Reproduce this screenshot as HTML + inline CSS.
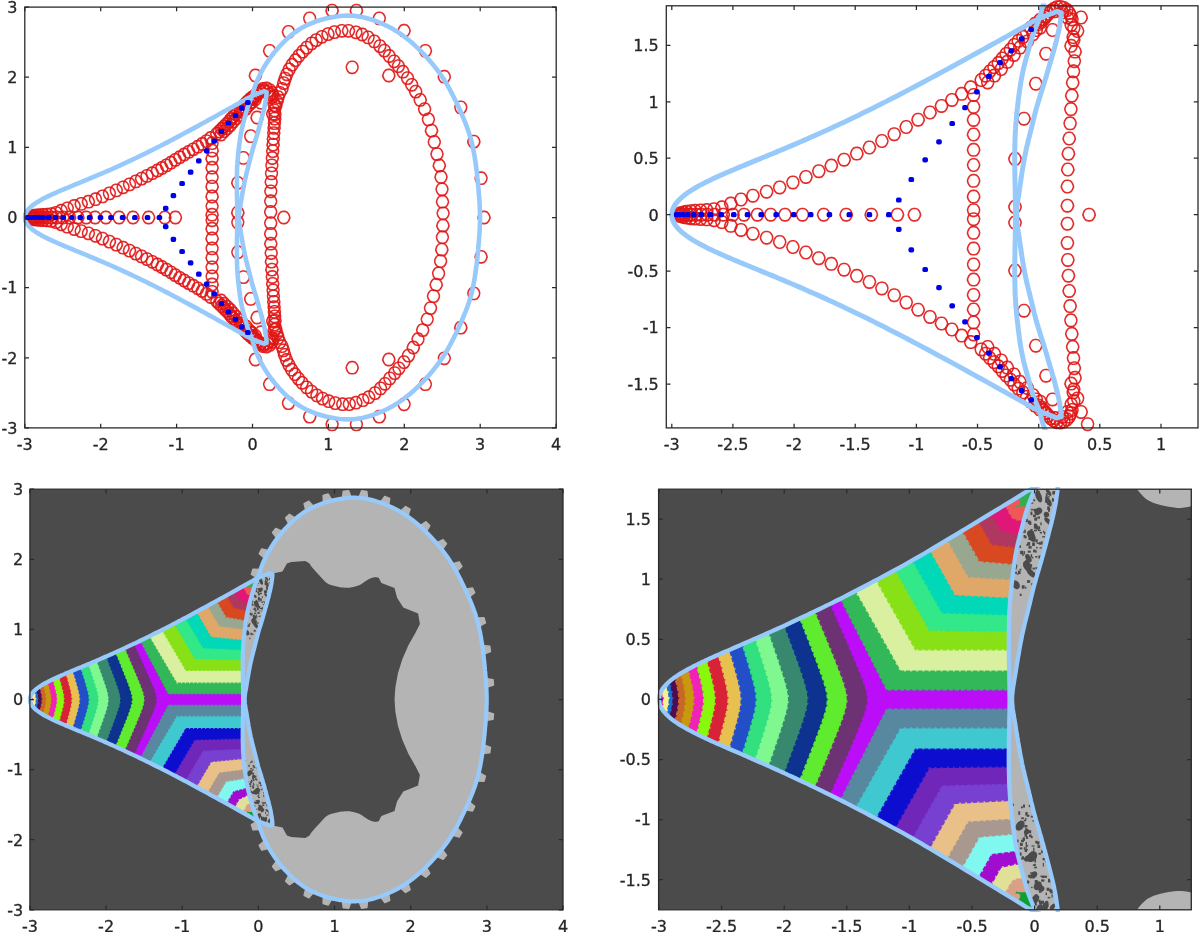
<!DOCTYPE html><html><head><meta charset="utf-8"><title>figure</title><style>html,body{margin:0;padding:0;background:#fff}svg{display:block}text{font-family:"DejaVu Sans","Liberation Sans",sans-serif;font-size:16px;fill:#262626;stroke:#262626;stroke-width:0.3px}</style></head><body>
<svg width="1200" height="932" viewBox="0 0 1200 932">
<rect width="1200" height="932" fill="#fff"/>
<defs><filter id="soft" x="-2%" y="-2%" width="104%" height="104%"><feGaussianBlur stdDeviation="0.5"/></filter></defs>
<clipPath id="sp1"><rect x="22.6" y="4.9" width="535.8" height="425.2"/></clipPath>
<clipPath id="cp1"><rect x="24.8" y="7.1" width="531.4" height="420.8"/></clipPath>
<g filter="url(#soft)">
<defs><path id="mp1" d="M5.42 -2.19Q6.59 0.00 5.42 2.19L4.51 3.90Q3.34 6.10 0.94 6.10L-0.94 6.10Q-3.34 6.10 -4.51 3.90L-5.42 2.19Q-6.59 0.00 -5.42 -2.19L-4.51 -3.90Q-3.34 -6.10 -0.94 -6.10L0.94 -6.10Q3.34 -6.10 4.51 -3.90Z"/></defs>
<g fill="none" stroke="#e01414" stroke-width="1.6" stroke-linejoin="round" stroke-opacity="0.9">
<use href="#mp1" x="175.4" y="217.5"/>
<use href="#mp1" x="164.8" y="217.5"/>
<use href="#mp1" x="148.6" y="217.5"/>
<use href="#mp1" x="133.0" y="217.5"/>
<use href="#mp1" x="119.1" y="217.5"/>
<use href="#mp1" x="105.9" y="217.5"/>
<use href="#mp1" x="95.1" y="217.5"/>
<use href="#mp1" x="86.2" y="217.5"/>
<use href="#mp1" x="77.9" y="217.5"/>
<use href="#mp1" x="69.6" y="217.5"/>
<use href="#mp1" x="62.8" y="217.5"/>
<use href="#mp1" x="56.7" y="217.5"/>
<use href="#mp1" x="51.4" y="217.5"/>
<use href="#mp1" x="46.8" y="217.5"/>
<use href="#mp1" x="43.0" y="217.5"/>
<use href="#mp1" x="40.0" y="217.5"/>
<use href="#mp1" x="36.9" y="217.5"/>
<use href="#mp1" x="34.7" y="217.5"/>
<use href="#mp1" x="32.8" y="217.5"/>
<use href="#mp1" x="31.3" y="217.5"/>
<use href="#mp1" x="30.1" y="217.5"/>
<use href="#mp1" x="283.7" y="83.1"/>
<use href="#mp1" x="285.1" y="78.6"/>
<use href="#mp1" x="286.8" y="74.3"/>
<use href="#mp1" x="289.2" y="69.4"/>
<use href="#mp1" x="292.1" y="64.7"/>
<use href="#mp1" x="295.4" y="60.2"/>
<use href="#mp1" x="298.9" y="55.8"/>
<use href="#mp1" x="302.7" y="51.6"/>
<use href="#mp1" x="306.7" y="47.6"/>
<use href="#mp1" x="311.6" y="43.4"/>
<use href="#mp1" x="316.2" y="40.1"/>
<use href="#mp1" x="321.9" y="36.8"/>
<use href="#mp1" x="328.0" y="34.1"/>
<use href="#mp1" x="334.4" y="32.1"/>
<use href="#mp1" x="341.8" y="30.8"/>
<use href="#mp1" x="348.5" y="30.8"/>
<use href="#mp1" x="355.9" y="32.3"/>
<use href="#mp1" x="362.2" y="34.5"/>
<use href="#mp1" x="368.1" y="37.4"/>
<use href="#mp1" x="374.3" y="41.4"/>
<use href="#mp1" x="379.9" y="46.1"/>
<use href="#mp1" x="384.4" y="50.6"/>
<use href="#mp1" x="389.3" y="56.0"/>
<use href="#mp1" x="394.1" y="61.3"/>
<use href="#mp1" x="398.4" y="66.1"/>
<use href="#mp1" x="402.9" y="71.7"/>
<use href="#mp1" x="407.5" y="78.1"/>
<use href="#mp1" x="411.7" y="84.8"/>
<use href="#mp1" x="415.7" y="91.6"/>
<use href="#mp1" x="420.2" y="99.9"/>
<use href="#mp1" x="424.6" y="109.1"/>
<use href="#mp1" x="428.4" y="119.4"/>
<use href="#mp1" x="431.5" y="130.6"/>
<use href="#mp1" x="434.3" y="142.0"/>
<use href="#mp1" x="437.0" y="154.1"/>
<use href="#mp1" x="439.3" y="165.5"/>
<use href="#mp1" x="441.0" y="177.0"/>
<use href="#mp1" x="442.0" y="189.3"/>
<use href="#mp1" x="442.5" y="201.7"/>
<use href="#mp1" x="443.1" y="213.3"/>
<use href="#mp1" x="442.9" y="225.6"/>
<use href="#mp1" x="442.4" y="237.2"/>
<use href="#mp1" x="441.8" y="249.6"/>
<use href="#mp1" x="440.6" y="261.1"/>
<use href="#mp1" x="438.6" y="273.4"/>
<use href="#mp1" x="436.2" y="284.7"/>
<use href="#mp1" x="433.5" y="296.1"/>
<use href="#mp1" x="430.5" y="308.1"/>
<use href="#mp1" x="427.2" y="319.3"/>
<use href="#mp1" x="422.7" y="330.1"/>
<use href="#mp1" x="418.0" y="339.2"/>
<use href="#mp1" x="413.3" y="347.5"/>
<use href="#mp1" x="408.4" y="355.6"/>
<use href="#mp1" x="403.9" y="362.1"/>
<use href="#mp1" x="398.9" y="368.3"/>
<use href="#mp1" x="394.7" y="373.1"/>
<use href="#mp1" x="389.8" y="378.4"/>
<use href="#mp1" x="385.0" y="383.8"/>
<use href="#mp1" x="380.5" y="388.4"/>
<use href="#mp1" x="375.0" y="393.1"/>
<use href="#mp1" x="368.8" y="397.2"/>
<use href="#mp1" x="362.9" y="400.2"/>
<use href="#mp1" x="355.9" y="402.7"/>
<use href="#mp1" x="349.3" y="404.1"/>
<use href="#mp1" x="342.7" y="404.2"/>
<use href="#mp1" x="335.2" y="403.1"/>
<use href="#mp1" x="328.7" y="401.2"/>
<use href="#mp1" x="322.6" y="398.6"/>
<use href="#mp1" x="316.9" y="395.4"/>
<use href="#mp1" x="311.6" y="391.6"/>
<use href="#mp1" x="306.7" y="387.4"/>
<use href="#mp1" x="302.1" y="382.8"/>
<use href="#mp1" x="298.4" y="378.6"/>
<use href="#mp1" x="294.9" y="374.2"/>
<use href="#mp1" x="291.7" y="369.7"/>
<use href="#mp1" x="288.9" y="364.9"/>
<use href="#mp1" x="286.5" y="360.0"/>
<use href="#mp1" x="284.6" y="354.9"/>
<use href="#mp1" x="283.4" y="350.4"/>
<use href="#mp1" x="283.8" y="217.5"/>
<use href="#mp1" x="484.0" y="217.5"/>
<use href="#mp1" x="30.1" y="216.7"/>
<use href="#mp1" x="30.1" y="218.3"/>
<use href="#mp1" x="32.0" y="216.1"/>
<use href="#mp1" x="32.0" y="218.9"/>
<use href="#mp1" x="34.3" y="215.7"/>
<use href="#mp1" x="34.3" y="219.3"/>
<use href="#mp1" x="37.0" y="215.3"/>
<use href="#mp1" x="37.0" y="219.7"/>
<use href="#mp1" x="39.8" y="215.1"/>
<use href="#mp1" x="39.8" y="219.9"/>
<use href="#mp1" x="43.2" y="214.9"/>
<use href="#mp1" x="43.2" y="220.1"/>
<use href="#mp1" x="47.0" y="214.6"/>
<use href="#mp1" x="47.0" y="220.4"/>
<use href="#mp1" x="51.3" y="214.1"/>
<use href="#mp1" x="51.3" y="220.9"/>
<use href="#mp1" x="56.1" y="212.8"/>
<use href="#mp1" x="56.1" y="222.2"/>
<use href="#mp1" x="61.2" y="210.7"/>
<use href="#mp1" x="61.2" y="224.3"/>
<use href="#mp1" x="67.3" y="208.3"/>
<use href="#mp1" x="67.3" y="226.7"/>
<use href="#mp1" x="74.2" y="206.0"/>
<use href="#mp1" x="74.2" y="229.0"/>
<use href="#mp1" x="81.2" y="203.9"/>
<use href="#mp1" x="81.2" y="231.1"/>
<use href="#mp1" x="88.4" y="201.7"/>
<use href="#mp1" x="88.4" y="233.3"/>
<use href="#mp1" x="95.5" y="199.2"/>
<use href="#mp1" x="95.5" y="235.8"/>
<use href="#mp1" x="102.5" y="196.4"/>
<use href="#mp1" x="102.5" y="238.6"/>
<use href="#mp1" x="109.4" y="193.4"/>
<use href="#mp1" x="109.4" y="241.6"/>
<use href="#mp1" x="116.3" y="190.4"/>
<use href="#mp1" x="116.3" y="244.6"/>
<use href="#mp1" x="123.1" y="187.3"/>
<use href="#mp1" x="123.1" y="247.7"/>
<use href="#mp1" x="129.5" y="184.4"/>
<use href="#mp1" x="129.5" y="250.6"/>
<use href="#mp1" x="135.8" y="181.4"/>
<use href="#mp1" x="135.8" y="253.6"/>
<use href="#mp1" x="141.6" y="178.6"/>
<use href="#mp1" x="141.6" y="256.4"/>
<use href="#mp1" x="147.0" y="175.9"/>
<use href="#mp1" x="147.0" y="259.1"/>
<use href="#mp1" x="152.3" y="173.2"/>
<use href="#mp1" x="152.3" y="261.8"/>
<use href="#mp1" x="157.4" y="170.5"/>
<use href="#mp1" x="157.4" y="264.5"/>
<use href="#mp1" x="161.9" y="168.0"/>
<use href="#mp1" x="161.9" y="267.0"/>
<use href="#mp1" x="166.4" y="165.4"/>
<use href="#mp1" x="166.4" y="269.6"/>
<use href="#mp1" x="170.9" y="162.7"/>
<use href="#mp1" x="170.9" y="272.3"/>
<use href="#mp1" x="175.3" y="159.9"/>
<use href="#mp1" x="175.3" y="275.1"/>
<use href="#mp1" x="179.7" y="157.2"/>
<use href="#mp1" x="179.7" y="277.8"/>
<use href="#mp1" x="184.2" y="154.5"/>
<use href="#mp1" x="184.2" y="280.5"/>
<use href="#mp1" x="188.7" y="151.9"/>
<use href="#mp1" x="188.7" y="283.1"/>
<use href="#mp1" x="193.2" y="149.3"/>
<use href="#mp1" x="193.2" y="285.7"/>
<use href="#mp1" x="197.8" y="146.7"/>
<use href="#mp1" x="197.8" y="288.3"/>
<use href="#mp1" x="202.2" y="144.0"/>
<use href="#mp1" x="202.2" y="291.0"/>
<use href="#mp1" x="206.5" y="141.1"/>
<use href="#mp1" x="206.5" y="293.9"/>
<use href="#mp1" x="210.7" y="138.0"/>
<use href="#mp1" x="210.7" y="297.0"/>
<use href="#mp1" x="212.1" y="214.7"/>
<use href="#mp1" x="212.1" y="220.3"/>
<use href="#mp1" x="212.1" y="206.3"/>
<use href="#mp1" x="212.1" y="228.7"/>
<use href="#mp1" x="212.1" y="196.5"/>
<use href="#mp1" x="212.1" y="238.5"/>
<use href="#mp1" x="212.1" y="186.6"/>
<use href="#mp1" x="212.1" y="248.4"/>
<use href="#mp1" x="212.1" y="177.2"/>
<use href="#mp1" x="212.1" y="257.8"/>
<use href="#mp1" x="212.1" y="167.7"/>
<use href="#mp1" x="212.1" y="267.3"/>
<use href="#mp1" x="212.1" y="158.6"/>
<use href="#mp1" x="212.1" y="276.4"/>
<use href="#mp1" x="212.1" y="150.5"/>
<use href="#mp1" x="212.1" y="284.5"/>
<use href="#mp1" x="212.1" y="143.2"/>
<use href="#mp1" x="212.1" y="291.8"/>
<use href="#mp1" x="216.8" y="133.8"/>
<use href="#mp1" x="216.8" y="301.2"/>
<use href="#mp1" x="219.3" y="131.4"/>
<use href="#mp1" x="219.3" y="303.6"/>
<use href="#mp1" x="221.7" y="129.0"/>
<use href="#mp1" x="221.7" y="306.0"/>
<use href="#mp1" x="224.1" y="126.6"/>
<use href="#mp1" x="224.1" y="308.4"/>
<use href="#mp1" x="226.5" y="124.2"/>
<use href="#mp1" x="226.5" y="310.8"/>
<use href="#mp1" x="228.9" y="121.7"/>
<use href="#mp1" x="228.9" y="313.3"/>
<use href="#mp1" x="230.9" y="119.1"/>
<use href="#mp1" x="230.9" y="315.9"/>
<use href="#mp1" x="233.3" y="116.6"/>
<use href="#mp1" x="233.3" y="318.4"/>
<use href="#mp1" x="235.6" y="114.2"/>
<use href="#mp1" x="235.6" y="320.8"/>
<use href="#mp1" x="237.7" y="111.5"/>
<use href="#mp1" x="237.7" y="323.5"/>
<use href="#mp1" x="240.2" y="109.2"/>
<use href="#mp1" x="240.2" y="325.8"/>
<use href="#mp1" x="242.8" y="107.0"/>
<use href="#mp1" x="242.8" y="328.0"/>
<use href="#mp1" x="244.9" y="104.4"/>
<use href="#mp1" x="244.9" y="330.6"/>
<use href="#mp1" x="247.2" y="101.8"/>
<use href="#mp1" x="247.2" y="333.2"/>
<use href="#mp1" x="249.7" y="99.5"/>
<use href="#mp1" x="249.7" y="335.5"/>
<use href="#mp1" x="252.3" y="97.3"/>
<use href="#mp1" x="252.3" y="337.7"/>
<use href="#mp1" x="255.1" y="95.3"/>
<use href="#mp1" x="255.1" y="339.7"/>
<use href="#mp1" x="257.9" y="93.5"/>
<use href="#mp1" x="257.9" y="341.5"/>
<use href="#mp1" x="260.8" y="91.7"/>
<use href="#mp1" x="260.8" y="343.3"/>
<use href="#mp1" x="264.1" y="91.0"/>
<use href="#mp1" x="264.1" y="344.0"/>
<use href="#mp1" x="267.3" y="91.9"/>
<use href="#mp1" x="267.3" y="343.1"/>
<use href="#mp1" x="269.8" y="94.2"/>
<use href="#mp1" x="269.8" y="340.8"/>
<use href="#mp1" x="271.5" y="97.2"/>
<use href="#mp1" x="271.5" y="337.8"/>
<use href="#mp1" x="221.0" y="134.5"/>
<use href="#mp1" x="221.0" y="300.5"/>
<use href="#mp1" x="224.1" y="131.3"/>
<use href="#mp1" x="224.1" y="303.7"/>
<use href="#mp1" x="227.3" y="128.1"/>
<use href="#mp1" x="227.3" y="306.9"/>
<use href="#mp1" x="230.5" y="125.0"/>
<use href="#mp1" x="230.5" y="310.0"/>
<use href="#mp1" x="233.3" y="121.5"/>
<use href="#mp1" x="233.3" y="313.5"/>
<use href="#mp1" x="236.4" y="118.2"/>
<use href="#mp1" x="236.4" y="316.8"/>
<use href="#mp1" x="239.4" y="114.9"/>
<use href="#mp1" x="239.4" y="320.1"/>
<use href="#mp1" x="242.5" y="111.6"/>
<use href="#mp1" x="242.5" y="323.4"/>
<use href="#mp1" x="245.9" y="108.7"/>
<use href="#mp1" x="245.9" y="326.3"/>
<use href="#mp1" x="248.6" y="105.1"/>
<use href="#mp1" x="248.6" y="329.9"/>
<use href="#mp1" x="251.8" y="102.0"/>
<use href="#mp1" x="251.8" y="333.0"/>
<use href="#mp1" x="255.3" y="99.2"/>
<use href="#mp1" x="255.3" y="335.8"/>
<use href="#mp1" x="270.7" y="211.9"/>
<use href="#mp1" x="270.7" y="223.1"/>
<use href="#mp1" x="270.7" y="201.2"/>
<use href="#mp1" x="270.7" y="233.8"/>
<use href="#mp1" x="270.8" y="191.3"/>
<use href="#mp1" x="270.8" y="243.7"/>
<use href="#mp1" x="271.2" y="182.0"/>
<use href="#mp1" x="271.2" y="253.0"/>
<use href="#mp1" x="271.5" y="173.4"/>
<use href="#mp1" x="271.5" y="261.6"/>
<use href="#mp1" x="271.9" y="165.4"/>
<use href="#mp1" x="271.9" y="269.6"/>
<use href="#mp1" x="272.3" y="158.0"/>
<use href="#mp1" x="272.3" y="277.0"/>
<use href="#mp1" x="272.7" y="151.1"/>
<use href="#mp1" x="272.7" y="283.9"/>
<use href="#mp1" x="273.1" y="144.6"/>
<use href="#mp1" x="273.1" y="290.4"/>
<use href="#mp1" x="273.4" y="138.7"/>
<use href="#mp1" x="273.4" y="296.3"/>
<use href="#mp1" x="273.8" y="133.1"/>
<use href="#mp1" x="273.8" y="301.9"/>
<use href="#mp1" x="274.1" y="127.9"/>
<use href="#mp1" x="274.1" y="307.1"/>
<use href="#mp1" x="274.4" y="123.1"/>
<use href="#mp1" x="274.4" y="311.9"/>
<use href="#mp1" x="274.7" y="118.6"/>
<use href="#mp1" x="274.7" y="316.4"/>
<use href="#mp1" x="275.0" y="114.3"/>
<use href="#mp1" x="275.0" y="320.7"/>
<use href="#mp1" x="274.5" y="110.4"/>
<use href="#mp1" x="274.5" y="324.6"/>
<use href="#mp1" x="275.8" y="106.0"/>
<use href="#mp1" x="275.8" y="329.0"/>
<use href="#mp1" x="276.9" y="101.5"/>
<use href="#mp1" x="276.9" y="333.5"/>
<use href="#mp1" x="278.1" y="97.1"/>
<use href="#mp1" x="278.1" y="337.9"/>
<use href="#mp1" x="279.8" y="92.8"/>
<use href="#mp1" x="279.8" y="342.2"/>
<use href="#mp1" x="282.0" y="88.8"/>
<use href="#mp1" x="282.0" y="346.2"/>
<use href="#mp1" x="252.7" y="98.8"/>
<use href="#mp1" x="252.7" y="336.2"/>
<use href="#mp1" x="255.3" y="96.4"/>
<use href="#mp1" x="255.3" y="338.6"/>
<use href="#mp1" x="257.6" y="93.6"/>
<use href="#mp1" x="257.6" y="341.4"/>
<use href="#mp1" x="260.1" y="91.0"/>
<use href="#mp1" x="260.1" y="344.0"/>
<use href="#mp1" x="263.0" y="89.0"/>
<use href="#mp1" x="263.0" y="346.0"/>
<use href="#mp1" x="266.5" y="88.5"/>
<use href="#mp1" x="266.5" y="346.5"/>
<use href="#mp1" x="269.7" y="90.1"/>
<use href="#mp1" x="269.7" y="344.9"/>
<use href="#mp1" x="272.0" y="92.9"/>
<use href="#mp1" x="272.0" y="342.1"/>
<use href="#mp1" x="273.2" y="96.3"/>
<use href="#mp1" x="273.2" y="338.7"/>
<use href="#mp1" x="274.3" y="105.2"/>
<use href="#mp1" x="274.3" y="329.8"/>
<use href="#mp1" x="272.7" y="113.9"/>
<use href="#mp1" x="272.7" y="321.1"/>
<use href="#mp1" x="237.8" y="212.6"/>
<use href="#mp1" x="237.8" y="222.4"/>
<use href="#mp1" x="237.8" y="182.8"/>
<use href="#mp1" x="237.8" y="252.2"/>
<use href="#mp1" x="243.4" y="157.9"/>
<use href="#mp1" x="243.4" y="277.1"/>
<use href="#mp1" x="250.7" y="136.1"/>
<use href="#mp1" x="250.7" y="298.9"/>
<use href="#mp1" x="257.1" y="117.5"/>
<use href="#mp1" x="257.1" y="317.5"/>
<use href="#mp1" x="261.1" y="102.8"/>
<use href="#mp1" x="261.1" y="332.2"/>
<use href="#mp1" x="251.0" y="102.8"/>
<use href="#mp1" x="251.0" y="332.2"/>
<use href="#mp1" x="352.2" y="67.3"/>
<use href="#mp1" x="352.2" y="367.7"/>
<use href="#mp1" x="388.8" y="75.5"/>
<use href="#mp1" x="388.8" y="359.5"/>
<use href="#mp1" x="255.4" y="75.5"/>
<use href="#mp1" x="255.4" y="359.5"/>
<use href="#mp1" x="269.6" y="50.8"/>
<use href="#mp1" x="269.6" y="384.2"/>
<use href="#mp1" x="288.5" y="31.9"/>
<use href="#mp1" x="288.5" y="403.1"/>
<use href="#mp1" x="309.7" y="18.4"/>
<use href="#mp1" x="309.7" y="416.6"/>
<use href="#mp1" x="332.1" y="10.6"/>
<use href="#mp1" x="332.1" y="424.4"/>
<use href="#mp1" x="356.4" y="10.6"/>
<use href="#mp1" x="356.4" y="424.4"/>
<use href="#mp1" x="379.3" y="18.4"/>
<use href="#mp1" x="379.3" y="416.6"/>
<use href="#mp1" x="404.1" y="30.7"/>
<use href="#mp1" x="404.1" y="404.3"/>
<use href="#mp1" x="425.4" y="50.8"/>
<use href="#mp1" x="425.4" y="384.2"/>
<use href="#mp1" x="444.3" y="76.7"/>
<use href="#mp1" x="444.3" y="358.3"/>
<use href="#mp1" x="460.8" y="107.4"/>
<use href="#mp1" x="460.8" y="327.6"/>
<use href="#mp1" x="473.8" y="141.6"/>
<use href="#mp1" x="473.8" y="293.4"/>
<use href="#mp1" x="481.1" y="178.2"/>
<use href="#mp1" x="481.1" y="256.8"/>
</g>
<g clip-path="url(#sp1)" fill="none" stroke="#97cafa" stroke-width="4.6" stroke-linejoin="round">
<path d="M237.3 217.5 L237.3 214.9 L237.3 212.4 L237.3 209.8 L237.2 207.3 L237.2 204.7 L237.1 202.2 L237.1 199.6 L237.0 197.1 L237.0 194.5 L236.9 192.0 L236.9 189.4 L236.9 186.9 L236.9 184.3 L236.9 181.8 L236.9 179.2 L236.9 176.7 L237.0 174.1 L237.0 171.6 L237.1 169.0 L237.2 166.5 L237.4 163.9 L237.5 161.4 L237.8 158.8 L238.0 156.3 L238.2 153.7 L238.5 151.2 L238.8 148.7 L239.1 146.1 L239.4 143.6 L239.8 141.1 L240.1 138.5 L240.5 136.0 L240.9 133.5 L241.4 131.0 L241.9 128.5 L242.5 126.0 L243.1 123.5 L243.8 121.0 L244.5 118.5 L245.2 116.1 L245.8 113.6 L246.5 111.1 L247.2 108.6 L248.0 106.2 L248.9 103.8 L249.8 101.4 L250.8 99.0 L251.7 96.6 L252.6 94.2 L253.3 91.7 L254.0 89.2 L254.8 86.8 L255.7 84.4 L256.6 82.0 L257.6 79.6 L258.7 77.2 L259.8 74.9 L261.0 72.6 L262.3 70.3 L263.5 68.0 L264.9 65.8 L266.3 63.6 L267.7 61.4 L269.2 59.2 L270.7 57.1 L272.3 55.0 L273.9 52.9 L275.5 50.9 L277.3 48.9 L279.0 46.9 L280.8 45.0 L282.7 43.1 L284.5 41.2 L286.5 39.4 L288.4 37.6 L290.5 35.8 L292.5 34.1 L294.7 32.5 L296.9 31.0 L299.1 29.5 L301.4 28.1 L303.8 26.8 L306.2 25.5 L308.7 24.4 L311.2 23.3 L313.7 22.3 L316.3 21.3 L318.9 20.5 L321.6 19.7 L324.2 18.9 L326.9 18.3 L329.6 17.7 L332.3 17.2 L335.0 16.7 L337.7 16.3 L340.5 16.0 L343.3 15.8 L346.0 15.6 L348.8 15.6 L351.5 15.7 L354.3 15.9 L357.0 16.2 L359.8 16.6 L362.5 17.1 L365.1 17.8 L367.8 18.5 L370.5 19.3 L373.1 20.1 L375.7 21.1 L378.2 22.0 L380.8 23.1 L383.3 24.2 L385.7 25.3 L388.2 26.5 L390.6 27.8 L393.0 29.1 L395.3 30.5 L397.6 31.9 L399.8 33.4 L402.0 34.9 L404.2 36.5 L406.3 38.2 L408.4 39.8 L410.5 41.5 L412.5 43.3 L414.5 45.1 L416.4 46.9 L418.4 48.7 L420.3 50.6 L422.1 52.5 L423.9 54.4 L425.8 56.4 L427.5 58.3 L429.3 60.3 L431.0 62.3 L432.7 64.3 L434.4 66.4 L436.0 68.4 L437.6 70.5 L439.2 72.6 L440.7 74.8 L442.2 76.9 L443.6 79.1 L445.0 81.3 L446.4 83.5 L447.7 85.7 L449.0 88.0 L450.2 90.3 L451.4 92.6 L452.6 94.9 L453.8 97.2 L454.9 99.5 L456.1 101.8 L457.2 104.2 L458.3 106.5 L459.3 108.9 L460.4 111.3 L461.5 113.6 L462.5 116.0 L463.5 118.4 L464.5 120.8 L465.5 123.2 L466.4 125.6 L467.3 128.0 L468.1 130.4 L469.0 132.8 L469.7 135.3 L470.4 137.7 L471.1 140.2 L471.8 142.7 L472.4 145.2 L472.9 147.7 L473.4 150.2 L473.9 152.7 L474.4 155.2 L474.8 157.8 L475.2 160.3 L475.6 162.8 L475.9 165.3 L476.2 167.9 L476.6 170.4 L476.9 173.0 L477.2 175.5 L477.4 178.0 L477.7 180.6 L477.9 183.1 L478.2 185.7 L478.4 188.2 L478.6 190.7 L478.8 193.3 L479.0 195.8 L479.2 198.4 L479.4 200.9 L479.6 203.5 L479.7 206.0 L479.8 208.6 L479.9 211.1 L480.0 213.7 L480.0 216.2 L480.0 218.8 L480.0 221.3 L479.9 223.9 L479.8 226.4 L479.7 229.0 L479.6 231.5 L479.4 234.1 L479.2 236.6 L479.0 239.2 L478.8 241.7 L478.6 244.3 L478.4 246.8 L478.2 249.3 L477.9 251.9 L477.7 254.4 L477.4 257.0 L477.2 259.5 L476.9 262.0 L476.6 264.6 L476.2 267.1 L475.9 269.7 L475.6 272.2 L475.2 274.7 L474.8 277.2 L474.4 279.8 L473.9 282.3 L473.4 284.8 L472.9 287.3 L472.4 289.8 L471.8 292.3 L471.1 294.8 L470.4 297.3 L469.7 299.7 L469.0 302.2 L468.1 304.6 L467.3 307.0 L466.4 309.4 L465.5 311.8 L464.5 314.2 L463.5 316.6 L462.5 319.0 L461.5 321.4 L460.4 323.7 L459.3 326.1 L458.3 328.5 L457.2 330.8 L456.1 333.2 L454.9 335.5 L453.8 337.8 L452.6 340.1 L451.4 342.4 L450.2 344.7 L449.0 347.0 L447.7 349.3 L446.4 351.5 L445.0 353.7 L443.6 355.9 L442.2 358.1 L440.7 360.2 L439.2 362.4 L437.6 364.5 L436.0 366.6 L434.4 368.6 L432.7 370.7 L431.0 372.7 L429.3 374.7 L427.5 376.7 L425.8 378.6 L423.9 380.6 L422.1 382.5 L420.3 384.4 L418.4 386.3 L416.4 388.1 L414.5 389.9 L412.5 391.7 L410.5 393.5 L408.4 395.2 L406.3 396.8 L404.2 398.5 L402.0 400.1 L399.8 401.6 L397.6 403.1 L395.3 404.5 L393.0 405.9 L390.6 407.2 L388.2 408.5 L385.7 409.7 L383.3 410.8 L380.8 411.9 L378.2 413.0 L375.7 413.9 L373.1 414.9 L370.5 415.7 L367.8 416.5 L365.1 417.2 L362.5 417.9 L359.8 418.4 L357.0 418.8 L354.3 419.1 L351.5 419.3 L348.8 419.4 L346.0 419.4 L343.3 419.2 L340.5 419.0 L337.7 418.7 L335.0 418.3 L332.3 417.8 L329.6 417.3 L326.9 416.7 L324.2 416.1 L321.6 415.3 L318.9 414.5 L316.3 413.7 L313.7 412.7 L311.2 411.7 L308.7 410.6 L306.2 409.5 L303.8 408.2 L301.4 406.9 L299.1 405.5 L296.9 404.0 L294.7 402.5 L292.5 400.9 L290.5 399.2 L288.4 397.4 L286.5 395.6 L284.5 393.8 L282.7 391.9 L280.8 390.0 L279.0 388.1 L277.3 386.1 L275.5 384.1 L273.9 382.1 L272.3 380.0 L270.7 377.9 L269.2 375.8 L267.7 373.6 L266.3 371.4 L264.9 369.2 L263.5 367.0 L262.3 364.7 L261.0 362.4 L259.8 360.1 L258.7 357.8 L257.6 355.4 L256.6 353.0 L255.7 350.6 L254.8 348.2 L254.0 345.8 L253.3 343.3 L252.6 340.8 L251.7 338.4 L250.8 336.0 L249.8 333.6 L248.9 331.2 L248.0 328.8 L247.2 326.4 L246.5 323.9 L245.8 321.4 L245.2 318.9 L244.5 316.5 L243.8 314.0 L243.1 311.5 L242.5 309.0 L241.9 306.5 L241.4 304.0 L240.9 301.5 L240.5 299.0 L240.1 296.5 L239.8 293.9 L239.4 291.4 L239.1 288.9 L238.8 286.3 L238.5 283.8 L238.2 281.3 L238.0 278.7 L237.8 276.2 L237.5 273.6 L237.4 271.1 L237.2 268.5 L237.1 266.0 L237.0 263.4 L237.0 260.9 L236.9 258.3 L236.9 255.8 L236.9 253.2 L236.9 250.7 L236.9 248.1 L236.9 245.6 L236.9 243.0 L237.0 240.5 L237.0 237.9 L237.1 235.4 L237.1 232.8 L237.2 230.3 L237.2 227.7 L237.3 225.2 L237.3 222.6 L237.3 220.1 L237.3 217.5Z"/>
<path d="M263.9 343.7 L262.9 343.3 L261.8 342.9 L260.8 342.5 L259.8 342.1 L258.7 341.8 L257.7 341.4 L256.7 340.9 L255.7 340.5 L254.6 340.1 L253.6 339.7 L252.6 339.2 L251.6 338.8 L250.6 338.3 L249.7 337.8 L248.7 337.3 L247.7 336.8 L246.8 336.3 L245.8 335.7 L244.9 335.1 L241.8 333.4 L238.6 331.6 L235.5 329.9 L232.4 328.1 L229.4 326.4 L226.3 324.7 L223.3 323.1 L220.3 321.4 L217.3 319.7 L214.4 318.1 L211.5 316.5 L208.5 314.9 L205.7 313.3 L202.8 311.7 L200.0 310.2 L197.2 308.6 L194.4 307.1 L191.6 305.6 L188.8 304.1 L186.1 302.7 L183.4 301.2 L180.7 299.8 L178.1 298.4 L175.5 297.0 L172.9 295.6 L170.3 294.3 L167.7 292.9 L165.2 291.6 L162.6 290.3 L160.2 289.0 L157.7 287.8 L155.2 286.5 L152.8 285.3 L150.4 284.1 L148.0 282.9 L145.7 281.7 L143.3 280.6 L141.0 279.5 L138.7 278.4 L136.5 277.3 L134.2 276.2 L132.0 275.1 L129.8 274.1 L127.6 273.1 L125.5 272.1 L123.3 271.1 L121.2 270.1 L119.1 269.2 L117.1 268.2 L115.0 267.3 L113.0 266.4 L111.0 265.5 L109.1 264.7 L107.1 263.8 L105.2 263.0 L103.3 262.2 L101.4 261.4 L99.5 260.6 L97.7 259.8 L95.9 259.0 L94.1 258.3 L92.3 257.5 L90.6 256.8 L88.9 256.1 L87.2 255.4 L85.5 254.7 L83.9 254.0 L82.2 253.4 L80.6 252.7 L79.0 252.0 L77.5 251.4 L75.9 250.8 L74.4 250.1 L72.9 249.5 L71.5 248.9 L70.0 248.3 L68.6 247.7 L67.2 247.2 L65.8 246.6 L64.5 246.0 L63.1 245.5 L61.8 244.9 L60.5 244.4 L59.3 243.8 L58.0 243.3 L56.8 242.7 L55.6 242.2 L54.4 241.7 L53.3 241.2 L52.2 240.7 L51.0 240.1 L50.0 239.6 L48.9 239.1 L47.9 238.6 L46.9 238.1 L45.9 237.6 L44.9 237.2 L44.0 236.7 L43.0 236.2 L42.1 235.7 L41.3 235.2 L40.4 234.7 L39.6 234.3 L38.8 233.8 L38.0 233.3 L37.2 232.8 L36.5 232.4 L35.7 231.9 L35.1 231.4 L34.4 230.9 L33.7 230.5 L33.1 230.0 L32.5 229.5 L31.9 229.1 L31.4 228.6 L30.8 228.1 L30.3 227.7 L29.8 227.2 L29.4 226.7 L28.9 226.3 L28.5 225.8 L28.1 225.4 L27.7 224.9 L27.4 224.4 L27.0 224.0 L26.7 223.5 L26.4 223.0 L26.2 222.6 L25.9 222.1 L25.7 221.7 L25.5 221.2 L25.4 220.7 L25.2 220.3 L25.1 219.8 L25.0 219.3 L24.9 218.9 L24.8 218.4 L24.8 218.0 L24.8 217.5 L24.8 217.0 L24.8 216.6 L24.9 216.1 L25.0 215.7 L25.1 215.2 L25.2 214.7 L25.4 214.3 L25.5 213.8 L25.7 213.3 L25.9 212.9 L26.2 212.4 L26.4 212.0 L26.7 211.5 L27.0 211.0 L27.4 210.6 L27.7 210.1 L28.1 209.6 L28.5 209.2 L28.9 208.7 L29.4 208.3 L29.8 207.8 L30.3 207.3 L30.8 206.9 L31.4 206.4 L31.9 205.9 L32.5 205.5 L33.1 205.0 L33.7 204.5 L34.4 204.1 L35.1 203.6 L35.7 203.1 L36.5 202.6 L37.2 202.2 L38.0 201.7 L38.8 201.2 L39.6 200.7 L40.4 200.3 L41.3 199.8 L42.1 199.3 L43.0 198.8 L44.0 198.3 L44.9 197.8 L45.9 197.4 L46.9 196.9 L47.9 196.4 L48.9 195.9 L50.0 195.4 L51.0 194.9 L52.2 194.3 L53.3 193.8 L54.4 193.3 L55.6 192.8 L56.8 192.3 L58.0 191.7 L59.3 191.2 L60.5 190.6 L61.8 190.1 L63.1 189.5 L64.5 189.0 L65.8 188.4 L67.2 187.8 L68.6 187.3 L70.0 186.7 L71.5 186.1 L72.9 185.5 L74.4 184.9 L75.9 184.2 L77.5 183.6 L79.0 183.0 L80.6 182.3 L82.2 181.6 L83.9 181.0 L85.5 180.3 L87.2 179.6 L88.9 178.9 L90.6 178.2 L92.3 177.5 L94.1 176.7 L95.9 176.0 L97.7 175.2 L99.5 174.4 L101.4 173.6 L103.3 172.8 L105.2 172.0 L107.1 171.2 L109.1 170.3 L111.0 169.5 L113.0 168.6 L115.0 167.7 L117.1 166.8 L119.1 165.8 L121.2 164.9 L123.3 163.9 L125.5 162.9 L127.6 161.9 L129.8 160.9 L132.0 159.9 L134.2 158.8 L136.5 157.7 L138.7 156.6 L141.0 155.5 L143.3 154.4 L145.7 153.3 L148.0 152.1 L150.4 150.9 L152.8 149.7 L155.2 148.5 L157.7 147.2 L160.2 146.0 L162.6 144.7 L165.2 143.4 L167.7 142.1 L170.3 140.7 L172.9 139.4 L175.5 138.0 L178.1 136.6 L180.7 135.2 L183.4 133.8 L186.1 132.3 L188.8 130.9 L191.6 129.4 L194.4 127.9 L197.2 126.4 L200.0 124.8 L202.8 123.3 L205.7 121.7 L208.5 120.1 L211.5 118.5 L214.4 116.9 L217.3 115.3 L220.3 113.6 L223.3 111.9 L226.3 110.3 L229.4 108.6 L232.4 106.9 L235.5 105.1 L238.6 103.4 L241.8 101.6 L244.9 99.9 L245.8 99.3 L246.8 98.7 L247.7 98.2 L248.7 97.7 L249.7 97.2 L250.6 96.7 L251.6 96.2 L252.6 95.8 L253.6 95.3 L254.6 94.9 L255.7 94.5 L256.7 94.1 L257.7 93.6 L258.7 93.2 L259.8 92.9 L260.8 92.5 L261.8 92.1 L262.9 91.7 L263.9 91.3 L266.6 92.1 L266.5 93.7 L266.4 95.3 L266.2 96.9 L266.0 98.5 L265.7 100.1 L265.5 101.7 L265.2 103.3 L264.9 104.9 L264.6 106.5 L264.2 108.1 L263.9 109.6 L263.5 111.2 L263.1 112.8 L262.7 114.4 L262.3 115.9 L261.9 117.5 L261.5 119.1 L261.1 120.6 L260.6 122.2 L260.2 123.8 L259.8 125.3 L259.3 126.9 L258.9 128.4 L258.5 130.0 L258.0 131.6 L257.6 133.1 L257.1 134.7 L256.7 136.2 L256.2 137.8 L255.7 139.3 L255.3 140.9 L254.8 142.4 L254.3 144.0 L253.8 145.5 L253.4 147.1 L252.9 148.7 L252.5 150.2 L252.0 151.8 L251.6 153.3 L251.2 154.9 L250.8 156.5 L250.4 158.0 L250.0 159.6 L249.6 161.2 L249.2 162.8 L248.8 164.3 L248.4 165.9 L248.0 167.5 L247.6 169.0 L247.2 170.6 L246.8 172.2 L246.4 173.7 L246.0 175.3 L245.7 176.9 L245.3 178.5 L244.9 180.0 L244.6 181.6 L244.3 183.2 L244.0 184.8 L243.7 186.4 L243.4 188.0 L243.1 189.6 L242.8 191.2 L242.5 192.7 L242.2 194.3 L242.0 195.9 L241.7 197.5 L241.4 199.1 L241.2 200.7 L240.9 202.3 L240.6 203.9 L240.3 205.5 L240.1 207.1 L239.8 208.7 L239.5 210.3 L239.3 211.9 L239.1 213.5 L238.9 215.1 L238.8 216.7 L238.8 218.3 L238.9 219.9 L239.1 221.5 L239.3 223.1 L239.5 224.7 L239.8 226.3 L240.1 227.9 L240.3 229.5 L240.6 231.1 L240.9 232.7 L241.2 234.3 L241.4 235.9 L241.7 237.5 L242.0 239.1 L242.2 240.7 L242.5 242.3 L242.8 243.8 L243.1 245.4 L243.4 247.0 L243.7 248.6 L244.0 250.2 L244.3 251.8 L244.6 253.4 L244.9 255.0 L245.3 256.5 L245.7 258.1 L246.0 259.7 L246.4 261.3 L246.8 262.8 L247.2 264.4 L247.6 266.0 L248.0 267.5 L248.4 269.1 L248.8 270.7 L249.2 272.2 L249.6 273.8 L250.0 275.4 L250.4 277.0 L250.8 278.5 L251.2 280.1 L251.6 281.7 L252.0 283.2 L252.5 284.8 L252.9 286.3 L253.4 287.9 L253.8 289.5 L254.3 291.0 L254.8 292.6 L255.3 294.1 L255.7 295.7 L256.2 297.2 L256.7 298.8 L257.1 300.3 L257.6 301.9 L258.0 303.4 L258.5 305.0 L258.9 306.6 L259.3 308.1 L259.8 309.7 L260.2 311.2 L260.6 312.8 L261.1 314.4 L261.5 315.9 L261.9 317.5 L262.3 319.1 L262.7 320.6 L263.1 322.2 L263.5 323.8 L263.9 325.4 L264.2 326.9 L264.6 328.5 L264.9 330.1 L265.2 331.7 L265.5 333.3 L265.7 334.9 L266.0 336.5 L266.2 338.1 L266.4 339.7 L266.5 341.3 L266.6 342.9Z"/>
</g>
<g fill="#0000e6">
<rect x="156.6" y="214.9" width="5.6" height="5.2" rx="1.9"/>
<rect x="144.7" y="214.9" width="5.6" height="5.2" rx="1.9"/>
<rect x="132.1" y="214.9" width="5.6" height="5.2" rx="1.9"/>
<rect x="119.8" y="214.9" width="5.6" height="5.2" rx="1.9"/>
<rect x="108.2" y="214.9" width="5.6" height="5.2" rx="1.9"/>
<rect x="97.7" y="214.9" width="5.6" height="5.2" rx="1.9"/>
<rect x="86.8" y="214.9" width="5.6" height="5.2" rx="1.9"/>
<rect x="77.5" y="214.9" width="5.6" height="5.2" rx="1.9"/>
<rect x="69.0" y="214.9" width="5.6" height="5.2" rx="1.9"/>
<rect x="60.5" y="214.9" width="5.6" height="5.2" rx="1.9"/>
<rect x="52.7" y="214.9" width="5.6" height="5.2" rx="1.9"/>
<rect x="45.9" y="214.9" width="5.6" height="5.2" rx="1.9"/>
<rect x="40.2" y="214.9" width="5.6" height="5.2" rx="1.9"/>
<rect x="35.7" y="214.9" width="5.6" height="5.2" rx="1.9"/>
<rect x="31.9" y="214.9" width="5.6" height="5.2" rx="1.9"/>
<rect x="28.8" y="214.9" width="5.6" height="5.2" rx="1.9"/>
<rect x="26.6" y="214.9" width="5.6" height="5.2" rx="1.9"/>
<rect x="25.0" y="214.9" width="5.6" height="5.2" rx="1.9"/>
<rect x="162.9" y="205.8" width="5.6" height="5.2" rx="1.9"/>
<rect x="162.9" y="224.0" width="5.6" height="5.2" rx="1.9"/>
<rect x="170.6" y="193.0" width="5.6" height="5.2" rx="1.9"/>
<rect x="170.6" y="236.8" width="5.6" height="5.2" rx="1.9"/>
<rect x="179.3" y="180.9" width="5.6" height="5.2" rx="1.9"/>
<rect x="179.3" y="248.9" width="5.6" height="5.2" rx="1.9"/>
<rect x="187.8" y="169.6" width="5.6" height="5.2" rx="1.9"/>
<rect x="187.8" y="260.2" width="5.6" height="5.2" rx="1.9"/>
<rect x="196.0" y="158.2" width="5.6" height="5.2" rx="1.9"/>
<rect x="196.0" y="271.6" width="5.6" height="5.2" rx="1.9"/>
<rect x="203.9" y="148.3" width="5.6" height="5.2" rx="1.9"/>
<rect x="203.9" y="281.5" width="5.6" height="5.2" rx="1.9"/>
<rect x="211.4" y="138.5" width="5.6" height="5.2" rx="1.9"/>
<rect x="211.4" y="291.3" width="5.6" height="5.2" rx="1.9"/>
<rect x="218.7" y="128.9" width="5.6" height="5.2" rx="1.9"/>
<rect x="218.7" y="300.9" width="5.6" height="5.2" rx="1.9"/>
<rect x="225.7" y="120.4" width="5.6" height="5.2" rx="1.9"/>
<rect x="225.7" y="309.4" width="5.6" height="5.2" rx="1.9"/>
<rect x="232.7" y="113.1" width="5.6" height="5.2" rx="1.9"/>
<rect x="232.7" y="316.7" width="5.6" height="5.2" rx="1.9"/>
<rect x="239.1" y="105.6" width="5.6" height="5.2" rx="1.9"/>
<rect x="239.1" y="324.2" width="5.6" height="5.2" rx="1.9"/>
<rect x="245.1" y="99.9" width="5.6" height="5.2" rx="1.9"/>
<rect x="245.1" y="329.9" width="5.6" height="5.2" rx="1.9"/>
</g>
</g>
<rect x="24.8" y="7.1" width="531.4" height="420.8" fill="none" stroke="#2a2a2a" stroke-width="1.3"/>
<path d="M24.8 427.9v-4.2M24.8 7.1v4.2M100.7 427.9v-4.2M100.7 7.1v4.2M176.6 427.9v-4.2M176.6 7.1v4.2M252.5 427.9v-4.2M252.5 7.1v4.2M328.4 427.9v-4.2M328.4 7.1v4.2M404.3 427.9v-4.2M404.3 7.1v4.2M480.2 427.9v-4.2M480.2 7.1v4.2M556.1 427.9v-4.2M556.1 7.1v4.2M24.8 427.9h4.2M556.2 427.9h-4.2M24.8 357.8h4.2M556.2 357.8h-4.2M24.8 287.6h4.2M556.2 287.6h-4.2M24.8 217.5h4.2M556.2 217.5h-4.2M24.8 147.4h4.2M556.2 147.4h-4.2M24.8 77.2h4.2M556.2 77.2h-4.2M24.8 7.1h4.2M556.2 7.1h-4.2" stroke="#2a2a2a" stroke-width="1.25" fill="none"/>
<text x="24.8" y="449.6" text-anchor="middle">-3</text>
<text x="100.7" y="449.6" text-anchor="middle">-2</text>
<text x="176.6" y="449.6" text-anchor="middle">-1</text>
<text x="252.5" y="449.6" text-anchor="middle">0</text>
<text x="328.4" y="449.6" text-anchor="middle">1</text>
<text x="404.3" y="449.6" text-anchor="middle">2</text>
<text x="480.2" y="449.6" text-anchor="middle">3</text>
<text x="556.1" y="449.6" text-anchor="middle">4</text>
<text x="17.4" y="433.7" text-anchor="end">-3</text>
<text x="17.4" y="363.6" text-anchor="end">-2</text>
<text x="17.4" y="293.4" text-anchor="end">-1</text>
<text x="17.4" y="223.3" text-anchor="end">0</text>
<text x="17.4" y="153.2" text-anchor="end">1</text>
<text x="17.4" y="83.0" text-anchor="end">2</text>
<text x="17.4" y="12.9" text-anchor="end">3</text>
<clipPath id="sp2"><rect x="664.1" y="3.6" width="536.1" height="426.5"/></clipPath>
<clipPath id="cp2"><rect x="666.3" y="5.8" width="531.7" height="422.1"/></clipPath>
<g filter="url(#soft)">
<defs><path id="mp2" d="M5.51 -2.23Q6.70 0.00 5.51 2.23L4.59 3.97Q3.40 6.20 0.95 6.20L-0.95 6.20Q-3.40 6.20 -4.59 3.97L-5.51 2.23Q-6.70 0.00 -5.51 -2.23L-4.59 -3.97Q-3.40 -6.20 -0.95 -6.20L0.95 -6.20Q3.40 -6.20 4.59 -3.97Z"/></defs>
<g fill="none" stroke="#e01414" stroke-width="1.6" stroke-linejoin="round" stroke-opacity="0.9">
<use href="#mp2" x="914.4" y="214.7"/>
<use href="#mp2" x="897.4" y="214.7"/>
<use href="#mp2" x="871.3" y="214.7"/>
<use href="#mp2" x="846.2" y="214.7"/>
<use href="#mp2" x="823.7" y="214.7"/>
<use href="#mp2" x="802.5" y="214.7"/>
<use href="#mp2" x="785.0" y="214.7"/>
<use href="#mp2" x="770.7" y="214.7"/>
<use href="#mp2" x="757.4" y="214.7"/>
<use href="#mp2" x="744.0" y="214.7"/>
<use href="#mp2" x="732.9" y="214.7"/>
<use href="#mp2" x="723.2" y="214.7"/>
<use href="#mp2" x="714.6" y="214.7"/>
<use href="#mp2" x="707.3" y="214.7"/>
<use href="#mp2" x="701.2" y="214.7"/>
<use href="#mp2" x="696.3" y="214.7"/>
<use href="#mp2" x="691.4" y="214.7"/>
<use href="#mp2" x="687.7" y="214.7"/>
<use href="#mp2" x="684.6" y="214.7"/>
<use href="#mp2" x="682.2" y="214.7"/>
<use href="#mp2" x="680.4" y="214.7"/>
<use href="#mp2" x="1089.1" y="214.7"/>
<use href="#mp2" x="680.4" y="213.3"/>
<use href="#mp2" x="680.4" y="216.1"/>
<use href="#mp2" x="683.5" y="212.5"/>
<use href="#mp2" x="683.5" y="216.9"/>
<use href="#mp2" x="686.7" y="211.8"/>
<use href="#mp2" x="686.7" y="217.6"/>
<use href="#mp2" x="690.7" y="211.2"/>
<use href="#mp2" x="690.7" y="218.2"/>
<use href="#mp2" x="695.2" y="210.8"/>
<use href="#mp2" x="695.2" y="218.6"/>
<use href="#mp2" x="700.6" y="210.5"/>
<use href="#mp2" x="700.6" y="218.9"/>
<use href="#mp2" x="706.8" y="210.1"/>
<use href="#mp2" x="706.8" y="219.3"/>
<use href="#mp2" x="714.1" y="209.2"/>
<use href="#mp2" x="714.1" y="220.2"/>
<use href="#mp2" x="721.9" y="207.3"/>
<use href="#mp2" x="721.9" y="222.1"/>
<use href="#mp2" x="730.8" y="203.6"/>
<use href="#mp2" x="730.8" y="225.8"/>
<use href="#mp2" x="741.0" y="199.5"/>
<use href="#mp2" x="741.0" y="229.9"/>
<use href="#mp2" x="752.9" y="195.7"/>
<use href="#mp2" x="752.9" y="233.7"/>
<use href="#mp2" x="766.6" y="191.7"/>
<use href="#mp2" x="766.6" y="237.7"/>
<use href="#mp2" x="779.7" y="187.4"/>
<use href="#mp2" x="779.7" y="242.0"/>
<use href="#mp2" x="792.9" y="182.4"/>
<use href="#mp2" x="792.9" y="247.0"/>
<use href="#mp2" x="805.9" y="176.9"/>
<use href="#mp2" x="805.9" y="252.5"/>
<use href="#mp2" x="818.8" y="171.2"/>
<use href="#mp2" x="818.8" y="258.2"/>
<use href="#mp2" x="831.3" y="165.6"/>
<use href="#mp2" x="831.3" y="263.8"/>
<use href="#mp2" x="844.1" y="159.7"/>
<use href="#mp2" x="844.1" y="269.7"/>
<use href="#mp2" x="856.8" y="153.6"/>
<use href="#mp2" x="856.8" y="275.8"/>
<use href="#mp2" x="869.4" y="147.5"/>
<use href="#mp2" x="869.4" y="281.9"/>
<use href="#mp2" x="881.9" y="141.0"/>
<use href="#mp2" x="881.9" y="288.4"/>
<use href="#mp2" x="894.2" y="134.2"/>
<use href="#mp2" x="894.2" y="295.2"/>
<use href="#mp2" x="906.2" y="127.0"/>
<use href="#mp2" x="906.2" y="302.4"/>
<use href="#mp2" x="918.1" y="119.7"/>
<use href="#mp2" x="918.1" y="309.7"/>
<use href="#mp2" x="930.0" y="112.5"/>
<use href="#mp2" x="930.0" y="316.9"/>
<use href="#mp2" x="941.5" y="105.9"/>
<use href="#mp2" x="941.5" y="323.5"/>
<use href="#mp2" x="951.9" y="99.9"/>
<use href="#mp2" x="951.9" y="329.5"/>
<use href="#mp2" x="961.7" y="93.8"/>
<use href="#mp2" x="961.7" y="335.6"/>
<use href="#mp2" x="970.7" y="87.3"/>
<use href="#mp2" x="970.7" y="342.1"/>
<use href="#mp2" x="973.6" y="210.2"/>
<use href="#mp2" x="973.6" y="219.2"/>
<use href="#mp2" x="973.6" y="196.6"/>
<use href="#mp2" x="973.6" y="232.8"/>
<use href="#mp2" x="973.6" y="180.8"/>
<use href="#mp2" x="973.6" y="248.6"/>
<use href="#mp2" x="973.6" y="165.0"/>
<use href="#mp2" x="973.6" y="264.4"/>
<use href="#mp2" x="973.6" y="149.8"/>
<use href="#mp2" x="973.6" y="279.6"/>
<use href="#mp2" x="973.6" y="134.5"/>
<use href="#mp2" x="973.6" y="294.9"/>
<use href="#mp2" x="973.6" y="119.9"/>
<use href="#mp2" x="973.6" y="309.5"/>
<use href="#mp2" x="973.6" y="106.9"/>
<use href="#mp2" x="973.6" y="322.5"/>
<use href="#mp2" x="973.6" y="95.0"/>
<use href="#mp2" x="973.6" y="334.4"/>
<use href="#mp2" x="981.2" y="80.0"/>
<use href="#mp2" x="981.2" y="349.4"/>
<use href="#mp2" x="985.6" y="75.7"/>
<use href="#mp2" x="985.6" y="353.7"/>
<use href="#mp2" x="989.7" y="71.5"/>
<use href="#mp2" x="989.7" y="357.9"/>
<use href="#mp2" x="994.0" y="67.2"/>
<use href="#mp2" x="994.0" y="362.2"/>
<use href="#mp2" x="998.3" y="63.1"/>
<use href="#mp2" x="998.3" y="366.3"/>
<use href="#mp2" x="1002.2" y="58.5"/>
<use href="#mp2" x="1002.2" y="370.9"/>
<use href="#mp2" x="1006.1" y="53.9"/>
<use href="#mp2" x="1006.1" y="375.5"/>
<use href="#mp2" x="1010.4" y="49.7"/>
<use href="#mp2" x="1010.4" y="379.7"/>
<use href="#mp2" x="1014.1" y="45.0"/>
<use href="#mp2" x="1014.1" y="384.4"/>
<use href="#mp2" x="1018.3" y="40.8"/>
<use href="#mp2" x="1018.3" y="388.6"/>
<use href="#mp2" x="1023.0" y="37.0"/>
<use href="#mp2" x="1023.0" y="392.4"/>
<use href="#mp2" x="1026.7" y="32.4"/>
<use href="#mp2" x="1026.7" y="397.0"/>
<use href="#mp2" x="1030.6" y="27.8"/>
<use href="#mp2" x="1030.6" y="401.6"/>
<use href="#mp2" x="1035.1" y="23.8"/>
<use href="#mp2" x="1035.1" y="405.6"/>
<use href="#mp2" x="1039.8" y="20.1"/>
<use href="#mp2" x="1039.8" y="409.3"/>
<use href="#mp2" x="1044.8" y="16.7"/>
<use href="#mp2" x="1044.8" y="412.7"/>
<use href="#mp2" x="1055.0" y="11.2"/>
<use href="#mp2" x="1055.0" y="418.1"/>
<use href="#mp2" x="1062.5" y="12.5"/>
<use href="#mp2" x="1062.5" y="416.9"/>
<use href="#mp2" x="1067.5" y="17.5"/>
<use href="#mp2" x="1067.5" y="411.9"/>
<use href="#mp2" x="1071.2" y="25.0"/>
<use href="#mp2" x="1071.2" y="404.4"/>
<use href="#mp2" x="1067.4" y="205.7"/>
<use href="#mp2" x="1067.4" y="223.7"/>
<use href="#mp2" x="1067.4" y="186.5"/>
<use href="#mp2" x="1067.4" y="242.9"/>
<use href="#mp2" x="1067.8" y="169.5"/>
<use href="#mp2" x="1067.8" y="259.9"/>
<use href="#mp2" x="1068.4" y="153.7"/>
<use href="#mp2" x="1068.4" y="275.7"/>
<use href="#mp2" x="1069.2" y="138.5"/>
<use href="#mp2" x="1069.2" y="290.9"/>
<use href="#mp2" x="1070.1" y="123.3"/>
<use href="#mp2" x="1070.1" y="306.1"/>
<use href="#mp2" x="1070.9" y="109.1"/>
<use href="#mp2" x="1070.9" y="320.3"/>
<use href="#mp2" x="1071.8" y="95.6"/>
<use href="#mp2" x="1071.8" y="333.8"/>
<use href="#mp2" x="1072.7" y="82.6"/>
<use href="#mp2" x="1072.7" y="346.8"/>
<use href="#mp2" x="1073.5" y="71.3"/>
<use href="#mp2" x="1073.5" y="358.1"/>
<use href="#mp2" x="1074.3" y="61.2"/>
<use href="#mp2" x="1074.3" y="368.2"/>
<use href="#mp2" x="1075.0" y="51.6"/>
<use href="#mp2" x="1075.0" y="377.8"/>
<use href="#mp2" x="987.7" y="82.4"/>
<use href="#mp2" x="987.7" y="347.0"/>
<use href="#mp2" x="994.4" y="75.6"/>
<use href="#mp2" x="994.4" y="353.8"/>
<use href="#mp2" x="1001.2" y="69.0"/>
<use href="#mp2" x="1001.2" y="360.4"/>
<use href="#mp2" x="1007.3" y="61.8"/>
<use href="#mp2" x="1007.3" y="367.6"/>
<use href="#mp2" x="1014.0" y="54.9"/>
<use href="#mp2" x="1014.0" y="374.5"/>
<use href="#mp2" x="1019.9" y="47.6"/>
<use href="#mp2" x="1019.9" y="381.8"/>
<use href="#mp2" x="1027.3" y="41.5"/>
<use href="#mp2" x="1027.3" y="387.9"/>
<use href="#mp2" x="1033.1" y="34.2"/>
<use href="#mp2" x="1033.1" y="395.2"/>
<use href="#mp2" x="1040.2" y="27.7"/>
<use href="#mp2" x="1040.2" y="401.7"/>
<use href="#mp2" x="1073.8" y="40.0"/>
<use href="#mp2" x="1073.8" y="389.4"/>
<use href="#mp2" x="1077.6" y="31.0"/>
<use href="#mp2" x="1077.6" y="398.4"/>
<use href="#mp2" x="1081.1" y="17.5"/>
<use href="#mp2" x="1081.1" y="411.9"/>
<use href="#mp2" x="1087.6" y="424.2"/>
<use href="#mp2" x="1038.5" y="24.0"/>
<use href="#mp2" x="1038.5" y="405.4"/>
<use href="#mp2" x="1041.2" y="21.8"/>
<use href="#mp2" x="1041.2" y="407.6"/>
<use href="#mp2" x="1043.7" y="19.1"/>
<use href="#mp2" x="1043.7" y="410.3"/>
<use href="#mp2" x="1046.1" y="16.3"/>
<use href="#mp2" x="1046.1" y="413.1"/>
<use href="#mp2" x="1048.5" y="13.6"/>
<use href="#mp2" x="1048.5" y="415.8"/>
<use href="#mp2" x="1050.9" y="11.1"/>
<use href="#mp2" x="1050.9" y="418.3"/>
<use href="#mp2" x="1053.7" y="8.9"/>
<use href="#mp2" x="1053.7" y="420.5"/>
<use href="#mp2" x="1057.0" y="7.2"/>
<use href="#mp2" x="1057.0" y="422.2"/>
<use href="#mp2" x="1060.5" y="6.9"/>
<use href="#mp2" x="1060.5" y="422.5"/>
<use href="#mp2" x="1063.9" y="8.0"/>
<use href="#mp2" x="1063.9" y="421.4"/>
<use href="#mp2" x="1066.9" y="10.1"/>
<use href="#mp2" x="1066.9" y="419.3"/>
<use href="#mp2" x="1069.2" y="12.8"/>
<use href="#mp2" x="1069.2" y="416.6"/>
<use href="#mp2" x="1070.9" y="16.0"/>
<use href="#mp2" x="1070.9" y="413.4"/>
<use href="#mp2" x="1072.0" y="19.4"/>
<use href="#mp2" x="1072.0" y="410.0"/>
<use href="#mp2" x="1073.8" y="28.2"/>
<use href="#mp2" x="1073.8" y="401.2"/>
<use href="#mp2" x="1073.2" y="37.1"/>
<use href="#mp2" x="1073.2" y="392.3"/>
<use href="#mp2" x="1071.1" y="45.8"/>
<use href="#mp2" x="1071.1" y="383.6"/>
<use href="#mp2" x="1015.0" y="206.8"/>
<use href="#mp2" x="1015.0" y="222.6"/>
<use href="#mp2" x="1015.0" y="158.8"/>
<use href="#mp2" x="1015.0" y="270.6"/>
<use href="#mp2" x="1024.0" y="118.7"/>
<use href="#mp2" x="1024.0" y="310.7"/>
<use href="#mp2" x="1035.8" y="83.7"/>
<use href="#mp2" x="1035.8" y="345.7"/>
<use href="#mp2" x="1046.0" y="53.7"/>
<use href="#mp2" x="1046.0" y="375.7"/>
<use href="#mp2" x="1052.5" y="30.0"/>
<use href="#mp2" x="1052.5" y="399.4"/>
<use href="#mp2" x="1036.3" y="30.0"/>
<use href="#mp2" x="1036.3" y="399.4"/>
</g>
<g clip-path="url(#sp2)" fill="none" stroke="#97cafa" stroke-width="5.0" stroke-linejoin="round">
<path d="M1015.5 214.7 L1015.5 210.6 L1015.4 206.5 L1015.4 202.4 L1015.3 198.3 L1015.2 194.2 L1015.2 190.1 L1015.1 186.0 L1015.0 181.8 L1014.9 177.7 L1014.9 173.6 L1014.8 169.5 L1014.8 165.4 L1014.7 161.3 L1014.7 157.2 L1014.8 153.1 L1014.8 149.0 L1014.9 144.9 L1015.0 140.7 L1015.1 136.6 L1015.3 132.5 L1015.6 128.4 L1015.8 124.3 L1016.2 120.2 L1016.5 116.2 L1016.9 112.1 L1017.4 108.0 L1017.9 103.9 L1018.3 99.8 L1018.9 95.7 L1019.4 91.6 L1020.0 87.6 L1020.6 83.5 L1021.3 79.4 L1022.1 75.4 L1022.9 71.4 L1023.8 67.4 L1024.8 63.4 L1025.9 59.4 L1027.0 55.4 L1028.1 51.4 L1029.2 47.4 L1030.3 43.4 L1031.5 39.5 L1032.7 35.5 L1034.1 31.6 L1035.6 27.7 L1037.2 23.9 L1038.7 20.0 L1040.0 16.1 L1041.1 12.2 L1042.2 8.2 L1043.4 4.3 L1044.8 0.4 L1046.2 -3.5 L1047.8 -7.3 L1049.4 -11.1 L1051.2 -14.9 L1053.0 -18.6 L1054.9 -22.3 L1056.8 -25.9 L1058.9 -29.5 L1061.0 -33.1 L1063.2 -36.6 L1065.5 -40.1 L1068.0 -43.5 L1070.5 -46.9 L1073.2 -50.2 L1075.8 -53.5 L1078.6 -56.7 L1081.4 -59.9 L1084.3 -63.0 L1087.3 -66.1 L1090.3 -69.1 L1093.4 -72.0 L1096.6 -74.9 L1099.9 -77.7 L1103.2 -80.5 L1106.7 -83.1 L1110.2 -85.6 L1113.8 -88.0 L1117.5 -90.2 L1121.4 -92.3 L1125.3 -94.3 L1129.2 -96.2 L1133.3 -97.9 L1137.4 -99.6 L1141.6 -101.1 L1145.7 -102.5 L1150.0 -103.8 L1154.3 -105.0 L1158.6 -106.0 L1162.9 -107.0 L1167.2 -107.8 L1171.6 -108.6 L1176.0 -109.2 L1180.5 -109.7 L1184.9 -110.0 L1189.4 -110.3 L1193.8 -110.3 L1198.3 -110.2 L1202.7 -109.9 L1207.1 -109.4 L1211.5 -108.7 L1215.9 -107.8 L1220.2 -106.8 L1224.5 -105.7 L1228.8 -104.4 L1233.0 -103.0 L1237.2 -101.5 L1241.3 -100.0 L1245.4 -98.3 L1249.4 -96.5 L1253.4 -94.7 L1257.3 -92.7 L1261.2 -90.7 L1265.0 -88.5 L1268.8 -86.3 L1272.5 -84.0 L1276.1 -81.6 L1279.7 -79.2 L1283.1 -76.6 L1286.6 -74.0 L1289.9 -71.3 L1293.3 -68.6 L1296.5 -65.8 L1299.7 -62.9 L1302.9 -60.0 L1306.0 -57.0 L1309.0 -54.0 L1312.0 -50.9 L1315.0 -47.8 L1317.9 -44.7 L1320.7 -41.5 L1323.6 -38.4 L1326.4 -35.1 L1329.1 -31.9 L1331.8 -28.6 L1334.4 -25.3 L1337.0 -21.9 L1339.5 -18.5 L1341.9 -15.1 L1344.3 -11.6 L1346.6 -8.1 L1348.9 -4.6 L1351.1 -1.0 L1353.2 2.6 L1355.3 6.2 L1357.3 9.9 L1359.2 13.6 L1361.2 17.3 L1363.0 21.0 L1364.9 24.7 L1366.7 28.5 L1368.5 32.3 L1370.2 36.1 L1372.0 39.9 L1373.7 43.7 L1375.4 47.5 L1377.1 51.3 L1378.7 55.1 L1380.3 59.0 L1381.9 62.8 L1383.3 66.7 L1384.8 70.6 L1386.2 74.5 L1387.5 78.4 L1388.7 82.3 L1389.9 86.3 L1391.0 90.3 L1392.0 94.3 L1393.0 98.3 L1393.8 102.3 L1394.7 106.3 L1395.5 110.4 L1396.2 114.4 L1396.9 118.5 L1397.5 122.6 L1398.1 126.7 L1398.7 130.7 L1399.2 134.8 L1399.7 138.9 L1400.2 143.0 L1400.7 147.1 L1401.1 151.2 L1401.5 155.3 L1401.9 159.3 L1402.3 163.4 L1402.7 167.5 L1403.0 171.6 L1403.4 175.7 L1403.7 179.8 L1404.0 183.9 L1404.3 188.0 L1404.6 192.1 L1404.8 196.2 L1405.0 200.3 L1405.2 204.4 L1405.3 208.5 L1405.3 212.6 L1405.3 216.8 L1405.3 220.9 L1405.2 225.0 L1405.0 229.1 L1404.8 233.2 L1404.6 237.3 L1404.3 241.4 L1404.0 245.5 L1403.7 249.6 L1403.4 253.7 L1403.0 257.8 L1402.7 261.9 L1402.3 266.0 L1401.9 270.1 L1401.5 274.1 L1401.1 278.2 L1400.7 282.3 L1400.2 286.4 L1399.7 290.5 L1399.2 294.6 L1398.7 298.7 L1398.1 302.7 L1397.5 306.8 L1396.9 310.9 L1396.2 315.0 L1395.5 319.0 L1394.7 323.1 L1393.8 327.1 L1393.0 331.1 L1392.0 335.1 L1391.0 339.1 L1389.9 343.1 L1388.7 347.1 L1387.5 351.0 L1386.2 354.9 L1384.8 358.8 L1383.3 362.7 L1381.9 366.6 L1380.3 370.4 L1378.7 374.3 L1377.1 378.1 L1375.4 381.9 L1373.7 385.7 L1372.0 389.5 L1370.2 393.3 L1368.5 397.1 L1366.7 400.9 L1364.9 404.7 L1363.0 408.4 L1361.2 412.1 L1359.2 415.8 L1357.3 419.5 L1355.3 423.2 L1353.2 426.8 L1351.1 430.4 L1348.9 434.0 L1346.6 437.5 L1344.3 441.0 L1341.9 444.5 L1339.5 447.9 L1337.0 451.3 L1334.4 454.7 L1331.8 458.0 L1329.1 461.3 L1326.4 464.5 L1323.6 467.8 L1320.7 470.9 L1317.9 474.1 L1315.0 477.2 L1312.0 480.3 L1309.0 483.4 L1306.0 486.4 L1302.9 489.4 L1299.7 492.3 L1296.5 495.2 L1293.3 498.0 L1289.9 500.7 L1286.6 503.4 L1283.1 506.0 L1279.7 508.6 L1276.1 511.0 L1272.5 513.4 L1268.8 515.7 L1265.0 517.9 L1261.2 520.1 L1257.3 522.1 L1253.4 524.1 L1249.4 525.9 L1245.4 527.7 L1241.3 529.4 L1237.2 530.9 L1233.0 532.4 L1228.8 533.8 L1224.5 535.1 L1220.2 536.2 L1215.9 537.2 L1211.5 538.1 L1207.1 538.8 L1202.7 539.3 L1198.3 539.6 L1193.8 539.7 L1189.4 539.7 L1184.9 539.4 L1180.5 539.1 L1176.0 538.6 L1171.6 538.0 L1167.2 537.2 L1162.9 536.4 L1158.6 535.4 L1154.3 534.4 L1150.0 533.2 L1145.7 531.9 L1141.6 530.5 L1137.4 529.0 L1133.3 527.3 L1129.2 525.6 L1125.3 523.7 L1121.4 521.7 L1117.5 519.6 L1113.8 517.4 L1110.2 515.0 L1106.7 512.5 L1103.2 509.9 L1099.9 507.1 L1096.6 504.3 L1093.4 501.4 L1090.3 498.5 L1087.3 495.5 L1084.3 492.4 L1081.4 489.3 L1078.6 486.1 L1075.8 482.9 L1073.2 479.6 L1070.5 476.3 L1068.0 472.9 L1065.5 469.5 L1063.2 466.0 L1061.0 462.5 L1058.9 458.9 L1056.8 455.3 L1054.9 451.7 L1053.0 448.0 L1051.2 444.3 L1049.4 440.5 L1047.8 436.7 L1046.2 432.9 L1044.8 429.0 L1043.4 425.1 L1042.2 421.2 L1041.1 417.2 L1040.0 413.3 L1038.7 409.4 L1037.2 405.5 L1035.6 401.7 L1034.1 397.8 L1032.7 393.9 L1031.5 389.9 L1030.3 386.0 L1029.2 382.0 L1028.1 378.0 L1027.0 374.0 L1025.9 370.0 L1024.8 366.0 L1023.8 362.0 L1022.9 358.0 L1022.1 354.0 L1021.3 350.0 L1020.6 345.9 L1020.0 341.8 L1019.4 337.8 L1018.9 333.7 L1018.3 329.6 L1017.9 325.5 L1017.4 321.4 L1016.9 317.3 L1016.5 313.2 L1016.2 309.2 L1015.8 305.1 L1015.6 301.0 L1015.3 296.9 L1015.1 292.8 L1015.0 288.7 L1014.9 284.5 L1014.8 280.4 L1014.8 276.3 L1014.7 272.2 L1014.7 268.1 L1014.8 264.0 L1014.8 259.9 L1014.9 255.8 L1014.9 251.7 L1015.0 247.6 L1015.1 243.4 L1015.2 239.3 L1015.2 235.2 L1015.3 231.1 L1015.4 227.0 L1015.4 222.9 L1015.5 218.8 L1015.5 214.7Z"/>
<path d="M1057.0 417.9 L1055.4 417.3 L1053.7 416.6 L1052.1 416.0 L1050.4 415.4 L1048.8 414.7 L1047.1 414.1 L1045.4 413.4 L1043.8 412.8 L1042.2 412.1 L1040.5 411.4 L1038.9 410.7 L1037.3 410.0 L1035.7 409.2 L1034.1 408.4 L1032.5 407.6 L1031.0 406.8 L1029.5 405.9 L1028.0 405.0 L1026.5 404.1 L1021.4 401.2 L1016.3 398.4 L1011.3 395.6 L1006.4 392.8 L1001.4 390.1 L996.5 387.3 L991.6 384.6 L986.8 381.9 L982.0 379.3 L977.3 376.7 L972.6 374.1 L967.9 371.5 L963.2 368.9 L958.6 366.4 L954.1 363.9 L949.5 361.4 L945.0 359.0 L940.6 356.6 L936.1 354.2 L931.7 351.8 L927.4 349.5 L923.1 347.2 L918.8 344.9 L914.6 342.7 L910.4 340.5 L906.2 338.3 L902.1 336.1 L898.0 334.0 L893.9 331.9 L889.9 329.9 L885.9 327.8 L882.0 325.8 L878.1 323.9 L874.2 321.9 L870.3 320.0 L866.5 318.1 L862.8 316.3 L859.1 314.5 L855.4 312.7 L851.7 310.9 L848.1 309.2 L844.5 307.5 L841.0 305.8 L837.5 304.2 L834.0 302.6 L830.6 301.0 L827.2 299.4 L823.8 297.9 L820.5 296.4 L817.2 294.9 L814.0 293.5 L810.7 292.1 L807.6 290.7 L804.4 289.3 L801.3 287.9 L798.3 286.6 L795.2 285.3 L792.2 284.0 L789.3 282.8 L786.4 281.6 L783.5 280.3 L780.6 279.2 L777.8 278.0 L775.1 276.8 L772.3 275.7 L769.6 274.6 L767.0 273.5 L764.3 272.4 L761.7 271.4 L759.2 270.3 L756.7 269.3 L754.2 268.3 L751.8 267.3 L749.4 266.3 L747.0 265.3 L744.7 264.3 L742.4 263.4 L740.1 262.5 L737.9 261.5 L735.7 260.6 L733.6 259.7 L731.4 258.8 L729.4 257.9 L727.3 257.1 L725.3 256.2 L723.4 255.3 L721.4 254.5 L719.5 253.6 L717.7 252.8 L715.9 252.0 L714.1 251.2 L712.3 250.3 L710.6 249.5 L709.0 248.7 L707.3 247.9 L705.7 247.1 L704.2 246.3 L702.7 245.5 L701.2 244.8 L699.7 244.0 L698.3 243.2 L696.9 242.4 L695.6 241.7 L694.3 240.9 L693.0 240.1 L691.8 239.4 L690.6 238.6 L689.4 237.9 L688.3 237.1 L687.2 236.3 L686.2 235.6 L685.2 234.8 L684.2 234.1 L683.3 233.3 L682.4 232.6 L681.5 231.8 L680.7 231.1 L679.9 230.3 L679.1 229.6 L678.4 228.8 L677.7 228.1 L677.1 227.4 L676.5 226.6 L675.9 225.9 L675.4 225.1 L674.9 224.4 L674.4 223.6 L674.0 222.9 L673.6 222.1 L673.3 221.4 L673.0 220.7 L672.7 219.9 L672.5 219.2 L672.3 218.4 L672.1 217.7 L672.0 216.9 L671.9 216.2 L671.8 215.4 L671.8 214.7 L671.8 214.0 L671.9 213.2 L672.0 212.5 L672.1 211.7 L672.3 211.0 L672.5 210.2 L672.7 209.5 L673.0 208.7 L673.3 208.0 L673.6 207.3 L674.0 206.5 L674.4 205.8 L674.9 205.0 L675.4 204.3 L675.9 203.5 L676.5 202.8 L677.1 202.0 L677.7 201.3 L678.4 200.6 L679.1 199.8 L679.9 199.1 L680.7 198.3 L681.5 197.6 L682.4 196.8 L683.3 196.1 L684.2 195.3 L685.2 194.6 L686.2 193.8 L687.2 193.1 L688.3 192.3 L689.4 191.5 L690.6 190.8 L691.8 190.0 L693.0 189.3 L694.3 188.5 L695.6 187.7 L696.9 187.0 L698.3 186.2 L699.7 185.4 L701.2 184.6 L702.7 183.9 L704.2 183.1 L705.7 182.3 L707.3 181.5 L709.0 180.7 L710.6 179.9 L712.3 179.1 L714.1 178.2 L715.9 177.4 L717.7 176.6 L719.5 175.8 L721.4 174.9 L723.4 174.1 L725.3 173.2 L727.3 172.3 L729.4 171.5 L731.4 170.6 L733.6 169.7 L735.7 168.8 L737.9 167.9 L740.1 166.9 L742.4 166.0 L744.7 165.1 L747.0 164.1 L749.4 163.1 L751.8 162.1 L754.2 161.1 L756.7 160.1 L759.2 159.1 L761.7 158.0 L764.3 157.0 L767.0 155.9 L769.6 154.8 L772.3 153.7 L775.1 152.6 L777.8 151.4 L780.6 150.2 L783.5 149.1 L786.4 147.8 L789.3 146.6 L792.2 145.4 L795.2 144.1 L798.3 142.8 L801.3 141.5 L804.4 140.1 L807.6 138.7 L810.7 137.3 L814.0 135.9 L817.2 134.5 L820.5 133.0 L823.8 131.5 L827.2 130.0 L830.6 128.4 L834.0 126.8 L837.5 125.2 L841.0 123.6 L844.5 121.9 L848.1 120.2 L851.7 118.5 L855.4 116.7 L859.1 114.9 L862.8 113.1 L866.5 111.3 L870.3 109.4 L874.2 107.5 L878.1 105.5 L882.0 103.6 L885.9 101.6 L889.9 99.5 L893.9 97.5 L898.0 95.4 L902.1 93.3 L906.2 91.1 L910.4 88.9 L914.6 86.7 L918.8 84.5 L923.1 82.2 L927.4 79.9 L931.7 77.6 L936.1 75.2 L940.6 72.8 L945.0 70.4 L949.5 68.0 L954.1 65.5 L958.6 63.0 L963.2 60.5 L967.9 57.9 L972.6 55.3 L977.3 52.7 L982.0 50.1 L986.8 47.5 L991.6 44.8 L996.5 42.1 L1001.4 39.3 L1006.4 36.6 L1011.3 33.8 L1016.3 31.0 L1021.4 28.2 L1026.5 25.3 L1028.0 24.4 L1029.5 23.5 L1031.0 22.6 L1032.5 21.8 L1034.1 21.0 L1035.7 20.2 L1037.3 19.4 L1038.9 18.7 L1040.5 18.0 L1042.2 17.3 L1043.8 16.6 L1045.4 16.0 L1047.1 15.3 L1048.8 14.7 L1050.4 14.0 L1052.1 13.4 L1053.7 12.8 L1055.4 12.1 L1057.0 11.5 L1061.4 12.8 L1061.2 15.4 L1060.9 18.0 L1060.5 20.6 L1060.1 23.2 L1059.7 25.8 L1059.2 28.3 L1058.7 30.9 L1058.1 33.4 L1057.5 36.0 L1056.9 38.5 L1056.3 41.1 L1055.6 43.6 L1055.0 46.1 L1054.3 48.7 L1053.6 51.2 L1052.8 53.7 L1052.1 56.2 L1051.4 58.8 L1050.6 61.3 L1049.9 63.8 L1049.1 66.3 L1048.4 68.8 L1047.7 71.3 L1046.9 73.8 L1046.2 76.4 L1045.4 78.9 L1044.6 81.4 L1043.9 83.9 L1043.1 86.4 L1042.3 88.9 L1041.5 91.4 L1040.7 93.9 L1040.0 96.4 L1039.2 98.9 L1038.4 101.4 L1037.7 103.9 L1036.9 106.4 L1036.2 108.9 L1035.5 111.4 L1034.9 113.9 L1034.2 116.5 L1033.6 119.0 L1033.0 121.5 L1032.4 124.1 L1031.8 126.6 L1031.2 129.1 L1030.5 131.6 L1029.9 134.2 L1029.3 136.7 L1028.6 139.2 L1028.0 141.7 L1027.4 144.3 L1026.8 146.8 L1026.2 149.3 L1025.7 151.9 L1025.2 154.4 L1024.7 157.0 L1024.2 159.5 L1023.7 162.1 L1023.3 164.6 L1022.8 167.2 L1022.4 169.7 L1022.0 172.3 L1021.6 174.9 L1021.2 177.4 L1020.9 180.0 L1020.5 182.5 L1020.1 185.1 L1019.7 187.7 L1019.4 190.2 L1019.0 192.8 L1018.6 195.4 L1018.2 197.9 L1017.8 200.5 L1017.5 203.1 L1017.1 205.7 L1016.9 208.2 L1016.7 210.8 L1016.7 213.4 L1016.7 216.0 L1016.7 218.6 L1016.9 221.2 L1017.1 223.7 L1017.5 226.3 L1017.8 228.9 L1018.2 231.5 L1018.6 234.0 L1019.0 236.6 L1019.4 239.2 L1019.7 241.7 L1020.1 244.3 L1020.5 246.9 L1020.9 249.4 L1021.2 252.0 L1021.6 254.5 L1022.0 257.1 L1022.4 259.7 L1022.8 262.2 L1023.3 264.8 L1023.7 267.3 L1024.2 269.9 L1024.7 272.4 L1025.2 275.0 L1025.7 277.5 L1026.2 280.1 L1026.8 282.6 L1027.4 285.1 L1028.0 287.7 L1028.6 290.2 L1029.3 292.7 L1029.9 295.2 L1030.5 297.8 L1031.2 300.3 L1031.8 302.8 L1032.4 305.3 L1033.0 307.9 L1033.6 310.4 L1034.2 312.9 L1034.9 315.5 L1035.5 318.0 L1036.2 320.5 L1036.9 323.0 L1037.7 325.5 L1038.4 328.0 L1039.2 330.5 L1040.0 333.0 L1040.7 335.5 L1041.5 338.0 L1042.3 340.5 L1043.1 343.0 L1043.9 345.5 L1044.6 348.0 L1045.4 350.5 L1046.2 353.0 L1046.9 355.6 L1047.7 358.1 L1048.4 360.6 L1049.1 363.1 L1049.9 365.6 L1050.6 368.1 L1051.4 370.6 L1052.1 373.2 L1052.8 375.7 L1053.6 378.2 L1054.3 380.7 L1055.0 383.3 L1055.6 385.8 L1056.3 388.3 L1056.9 390.9 L1057.5 393.4 L1058.1 396.0 L1058.7 398.5 L1059.2 401.1 L1059.7 403.6 L1060.1 406.2 L1060.5 408.8 L1060.9 411.4 L1061.2 414.0 L1061.4 416.6Z"/>
</g>
<g fill="#0000e6">
<rect x="886.0" y="212.1" width="5.6" height="5.2" rx="1.9"/>
<rect x="866.6" y="212.1" width="5.6" height="5.2" rx="1.9"/>
<rect x="846.5" y="212.1" width="5.6" height="5.2" rx="1.9"/>
<rect x="826.6" y="212.1" width="5.6" height="5.2" rx="1.9"/>
<rect x="807.9" y="212.1" width="5.6" height="5.2" rx="1.9"/>
<rect x="790.9" y="212.1" width="5.6" height="5.2" rx="1.9"/>
<rect x="773.4" y="212.1" width="5.6" height="5.2" rx="1.9"/>
<rect x="758.4" y="212.1" width="5.6" height="5.2" rx="1.9"/>
<rect x="744.7" y="212.1" width="5.6" height="5.2" rx="1.9"/>
<rect x="731.0" y="212.1" width="5.6" height="5.2" rx="1.9"/>
<rect x="718.4" y="212.1" width="5.6" height="5.2" rx="1.9"/>
<rect x="707.5" y="212.1" width="5.6" height="5.2" rx="1.9"/>
<rect x="698.4" y="212.1" width="5.6" height="5.2" rx="1.9"/>
<rect x="691.0" y="212.1" width="5.6" height="5.2" rx="1.9"/>
<rect x="684.9" y="212.1" width="5.6" height="5.2" rx="1.9"/>
<rect x="680.0" y="212.1" width="5.6" height="5.2" rx="1.9"/>
<rect x="676.3" y="212.1" width="5.6" height="5.2" rx="1.9"/>
<rect x="673.9" y="212.1" width="5.6" height="5.2" rx="1.9"/>
<rect x="896.0" y="197.4" width="5.6" height="5.2" rx="1.9"/>
<rect x="896.0" y="226.8" width="5.6" height="5.2" rx="1.9"/>
<rect x="908.5" y="176.9" width="5.6" height="5.2" rx="1.9"/>
<rect x="908.5" y="247.3" width="5.6" height="5.2" rx="1.9"/>
<rect x="922.4" y="157.3" width="5.6" height="5.2" rx="1.9"/>
<rect x="922.4" y="266.9" width="5.6" height="5.2" rx="1.9"/>
<rect x="936.2" y="139.2" width="5.6" height="5.2" rx="1.9"/>
<rect x="936.2" y="285.0" width="5.6" height="5.2" rx="1.9"/>
<rect x="949.4" y="120.9" width="5.6" height="5.2" rx="1.9"/>
<rect x="949.4" y="303.3" width="5.6" height="5.2" rx="1.9"/>
<rect x="962.2" y="105.0" width="5.6" height="5.2" rx="1.9"/>
<rect x="962.2" y="319.2" width="5.6" height="5.2" rx="1.9"/>
<rect x="974.1" y="89.2" width="5.6" height="5.2" rx="1.9"/>
<rect x="974.1" y="335.0" width="5.6" height="5.2" rx="1.9"/>
<rect x="986.0" y="73.7" width="5.6" height="5.2" rx="1.9"/>
<rect x="986.0" y="350.5" width="5.6" height="5.2" rx="1.9"/>
<rect x="997.3" y="59.9" width="5.6" height="5.2" rx="1.9"/>
<rect x="997.3" y="364.3" width="5.6" height="5.2" rx="1.9"/>
<rect x="1008.5" y="48.2" width="5.6" height="5.2" rx="1.9"/>
<rect x="1008.5" y="376.0" width="5.6" height="5.2" rx="1.9"/>
<rect x="1018.9" y="36.2" width="5.6" height="5.2" rx="1.9"/>
<rect x="1018.9" y="388.0" width="5.6" height="5.2" rx="1.9"/>
<rect x="1028.4" y="26.9" width="5.6" height="5.2" rx="1.9"/>
<rect x="1028.4" y="397.3" width="5.6" height="5.2" rx="1.9"/>
</g>
</g>
<rect x="666.3" y="5.8" width="531.7" height="422.1" fill="none" stroke="#2a2a2a" stroke-width="1.3"/>
<path d="M671.8 427.9v-4.2M671.8 5.8v4.2M732.9 427.9v-4.2M732.9 5.8v4.2M794.1 427.9v-4.2M794.1 5.8v4.2M855.2 427.9v-4.2M855.2 5.8v4.2M916.4 427.9v-4.2M916.4 5.8v4.2M977.5 427.9v-4.2M977.5 5.8v4.2M1038.7 427.9v-4.2M1038.7 5.8v4.2M1099.8 427.9v-4.2M1099.8 5.8v4.2M1161.0 427.9v-4.2M1161.0 5.8v4.2M666.3 384.1h4.2M1198.0 384.1h-4.2M666.3 327.6h4.2M1198.0 327.6h-4.2M666.3 271.1h4.2M1198.0 271.1h-4.2M666.3 214.7h4.2M1198.0 214.7h-4.2M666.3 158.2h4.2M1198.0 158.2h-4.2M666.3 101.8h4.2M1198.0 101.8h-4.2M666.3 45.3h4.2M1198.0 45.3h-4.2" stroke="#2a2a2a" stroke-width="1.25" fill="none"/>
<text x="671.8" y="449.6" text-anchor="middle">-3</text>
<text x="732.9" y="449.6" text-anchor="middle">-2.5</text>
<text x="794.1" y="449.6" text-anchor="middle">-2</text>
<text x="855.2" y="449.6" text-anchor="middle">-1.5</text>
<text x="916.4" y="449.6" text-anchor="middle">-1</text>
<text x="977.5" y="449.6" text-anchor="middle">-0.5</text>
<text x="1038.7" y="449.6" text-anchor="middle">0</text>
<text x="1099.8" y="449.6" text-anchor="middle">0.5</text>
<text x="1161.0" y="449.6" text-anchor="middle">1</text>
<text x="658.7" y="389.9" text-anchor="end">-1.5</text>
<text x="658.7" y="333.4" text-anchor="end">-1</text>
<text x="658.7" y="276.9" text-anchor="end">-0.5</text>
<text x="658.7" y="220.5" text-anchor="end">0</text>
<text x="658.7" y="164.1" text-anchor="end">0.5</text>
<text x="658.7" y="107.6" text-anchor="end">1</text>
<text x="658.7" y="51.1" text-anchor="end">1.5</text>
<clipPath id="sp3"><rect x="27.7" y="487.0" width="537.5" height="425.0"/></clipPath>
<clipPath id="cp3"><rect x="29.9" y="489.2" width="533.1" height="420.6"/></clipPath>
<g filter="url(#soft)">
<g clip-path="url(#cp3)">
<rect x="29.9" y="489.2" width="533.1" height="420.6" fill="#4b4b4b"/>
<path d="M243.1 699.5 L243.1 697.0 L243.1 694.4 L243.1 691.9 L243.1 689.3 L243.0 686.8 L243.0 684.2 L242.9 681.7 L242.9 679.1 L242.8 676.5 L242.8 674.0 L242.7 671.4 L242.7 668.9 L242.7 666.3 L242.7 663.8 L242.7 661.2 L242.7 658.7 L242.8 656.1 L242.9 653.6 L242.9 651.0 L243.1 648.5 L243.2 645.9 L243.4 643.4 L243.6 640.9 L243.8 638.3 L244.1 635.8 L244.3 633.2 L244.6 630.7 L244.9 628.2 L245.3 625.6 L245.6 623.1 L246.0 620.6 L246.4 618.0 L246.8 615.5 L247.3 613.0 L247.8 610.5 L248.4 608.0 L249.0 605.5 L249.6 603.1 L250.3 600.6 L251.0 598.1 L251.7 595.6 L252.4 593.2 L253.1 590.7 L253.9 588.2 L254.7 585.8 L255.7 583.4 L256.7 581.0 L257.6 578.6 L258.4 576.2 L259.2 573.7 L259.9 571.3 L260.7 568.8 L261.6 566.4 L262.5 564.0 L263.5 561.6 L264.6 559.3 L265.7 557.0 L266.9 554.6 L268.2 552.4 L269.5 550.1 L270.8 547.9 L272.2 545.6 L273.6 543.5 L275.1 541.3 L276.6 539.2 L278.2 537.1 L279.8 535.0 L281.5 533.0 L283.2 531.0 L285.0 529.0 L286.8 527.1 L288.6 525.2 L290.5 523.3 L292.5 521.5 L294.5 519.7 L296.5 517.9 L298.6 516.2 L300.7 514.6 L302.9 513.0 L305.1 511.6 L307.5 510.2 L309.8 508.9 L312.3 507.6 L314.8 506.5 L317.3 505.4 L319.8 504.4 L322.4 503.4 L325.0 502.6 L327.7 501.8 L330.3 501.0 L333.0 500.4 L335.7 499.8 L338.4 499.2 L341.2 498.8 L343.9 498.4 L346.7 498.1 L349.4 497.9 L352.2 497.7 L355.0 497.7 L357.8 497.8 L360.5 498.0 L363.3 498.3 L366.0 498.7 L368.7 499.2 L371.4 499.9 L374.1 500.6 L376.7 501.4 L379.4 502.2 L382.0 503.1 L384.5 504.1 L387.1 505.2 L389.6 506.3 L392.1 507.4 L394.5 508.6 L396.9 509.9 L399.3 511.2 L401.7 512.6 L404.0 514.0 L406.2 515.5 L408.4 517.0 L410.6 518.6 L412.7 520.2 L414.8 521.9 L416.9 523.6 L418.9 525.4 L420.9 527.1 L422.9 529.0 L424.8 530.8 L426.7 532.7 L428.6 534.6 L430.4 536.5 L432.2 538.4 L434.0 540.4 L435.8 542.4 L437.5 544.4 L439.2 546.4 L440.9 548.4 L442.5 550.5 L444.1 552.6 L445.7 554.7 L447.2 556.8 L448.7 559.0 L450.1 561.1 L451.5 563.3 L452.9 565.6 L454.2 567.8 L455.5 570.0 L456.8 572.3 L458.0 574.6 L459.2 576.9 L460.4 579.2 L461.5 581.6 L462.6 583.9 L463.7 586.2 L464.8 588.6 L465.9 590.9 L467.0 593.3 L468.1 595.7 L469.1 598.0 L470.1 600.4 L471.1 602.8 L472.1 605.2 L473.0 607.6 L473.9 610.0 L474.8 612.4 L475.6 614.9 L476.3 617.3 L477.1 619.8 L477.8 622.2 L478.4 624.7 L479.0 627.2 L479.5 629.7 L480.1 632.2 L480.5 634.7 L481.0 637.3 L481.4 639.8 L481.8 642.3 L482.2 644.8 L482.6 647.4 L482.9 649.9 L483.2 652.4 L483.5 655.0 L483.8 657.5 L484.1 660.1 L484.3 662.6 L484.6 665.1 L484.8 667.7 L485.0 670.2 L485.3 672.8 L485.5 675.3 L485.7 677.8 L485.9 680.4 L486.0 682.9 L486.2 685.5 L486.4 688.0 L486.5 690.6 L486.6 693.1 L486.7 695.7 L486.7 698.2 L486.7 700.8 L486.7 703.3 L486.6 705.9 L486.5 708.4 L486.4 711.0 L486.2 713.5 L486.0 716.1 L485.9 718.6 L485.7 721.2 L485.5 723.7 L485.3 726.2 L485.0 728.8 L484.8 731.3 L484.6 733.9 L484.3 736.4 L484.1 738.9 L483.8 741.5 L483.5 744.0 L483.2 746.6 L482.9 749.1 L482.6 751.6 L482.2 754.2 L481.8 756.7 L481.4 759.2 L481.0 761.7 L480.5 764.3 L480.1 766.8 L479.5 769.3 L479.0 771.8 L478.4 774.3 L477.8 776.8 L477.1 779.2 L476.3 781.7 L475.6 784.1 L474.8 786.6 L473.9 789.0 L473.0 791.4 L472.1 793.8 L471.1 796.2 L470.1 798.6 L469.1 801.0 L468.1 803.3 L467.0 805.7 L465.9 808.1 L464.8 810.4 L463.7 812.8 L462.6 815.1 L461.5 817.4 L460.4 819.8 L459.2 822.1 L458.0 824.4 L456.8 826.7 L455.5 829.0 L454.2 831.2 L452.9 833.4 L451.5 835.7 L450.1 837.9 L448.7 840.0 L447.2 842.2 L445.7 844.3 L444.1 846.4 L442.5 848.5 L440.9 850.6 L439.2 852.6 L437.5 854.6 L435.8 856.6 L434.0 858.6 L432.2 860.6 L430.4 862.5 L428.6 864.4 L426.7 866.3 L424.8 868.2 L422.9 870.0 L420.9 871.9 L418.9 873.6 L416.9 875.4 L414.8 877.1 L412.7 878.8 L410.6 880.4 L408.4 882.0 L406.2 883.5 L404.0 885.0 L401.7 886.4 L399.3 887.8 L396.9 889.1 L394.5 890.4 L392.1 891.6 L389.6 892.7 L387.1 893.8 L384.5 894.9 L382.0 895.9 L379.4 896.8 L376.7 897.6 L374.1 898.4 L371.4 899.1 L368.7 899.8 L366.0 900.3 L363.3 900.7 L360.5 901.0 L357.8 901.2 L355.0 901.3 L352.2 901.3 L349.4 901.1 L346.7 900.9 L343.9 900.6 L341.2 900.2 L338.4 899.8 L335.7 899.2 L333.0 898.6 L330.3 898.0 L327.7 897.2 L325.0 896.4 L322.4 895.6 L319.8 894.6 L317.3 893.6 L314.8 892.5 L312.3 891.4 L309.8 890.1 L307.5 888.8 L305.1 887.4 L302.9 886.0 L300.7 884.4 L298.6 882.8 L296.5 881.1 L294.5 879.3 L292.5 877.5 L290.5 875.7 L288.6 873.8 L286.8 871.9 L285.0 870.0 L283.2 868.0 L281.5 866.0 L279.8 864.0 L278.2 861.9 L276.6 859.8 L275.1 857.7 L273.6 855.5 L272.2 853.4 L270.8 851.1 L269.5 848.9 L268.2 846.6 L266.9 844.4 L265.7 842.0 L264.6 839.7 L263.5 837.4 L262.5 835.0 L261.6 832.6 L260.7 830.2 L259.9 827.7 L259.2 825.3 L258.4 822.8 L257.6 820.4 L256.7 818.0 L255.7 815.6 L254.7 813.2 L253.9 810.8 L253.1 808.3 L252.4 805.8 L251.7 803.4 L251.0 800.9 L250.3 798.4 L249.6 795.9 L249.0 793.5 L248.4 791.0 L247.8 788.5 L247.3 786.0 L246.8 783.5 L246.4 781.0 L246.0 778.4 L245.6 775.9 L245.3 773.4 L244.9 770.8 L244.6 768.3 L244.3 765.8 L244.1 763.2 L243.8 760.7 L243.6 758.1 L243.4 755.6 L243.2 753.1 L243.1 750.5 L242.9 748.0 L242.9 745.4 L242.8 742.9 L242.7 740.3 L242.7 737.8 L242.7 735.2 L242.7 732.7 L242.7 730.1 L242.7 727.6 L242.8 725.0 L242.8 722.5 L242.9 719.9 L242.9 717.3 L243.0 714.8 L243.0 712.2 L243.1 709.7 L243.1 707.1 L243.1 704.6 L243.1 702.0 L243.1 699.5Z" fill="#b4b4b4"/>
<polygon points="257.9,578.0 251.5,574.2 253.0,569.2 260.4,569.5" fill="#b4b4b4" stroke="#b4b4b4" stroke-width="1.6" stroke-linejoin="round"/>
<polygon points="260.4,829.5 253.0,829.8 251.5,824.8 257.9,821.0" fill="#b4b4b4" stroke="#b4b4b4" stroke-width="1.6" stroke-linejoin="round"/>
<polygon points="264.9,558.5 259.3,553.6 261.8,549.0 269.0,550.8" fill="#b4b4b4" stroke="#b4b4b4" stroke-width="1.6" stroke-linejoin="round"/>
<polygon points="269.0,848.2 261.8,850.0 259.3,845.4 264.9,840.5" fill="#b4b4b4" stroke="#b4b4b4" stroke-width="1.6" stroke-linejoin="round"/>
<polygon points="277.1,538.4 272.6,532.5 275.8,528.5 282.6,531.6" fill="#b4b4b4" stroke="#b4b4b4" stroke-width="1.6" stroke-linejoin="round"/>
<polygon points="282.6,867.4 275.8,870.5 272.6,866.5 277.1,860.6" fill="#b4b4b4" stroke="#b4b4b4" stroke-width="1.6" stroke-linejoin="round"/>
<polygon points="289.2,524.4 285.7,517.9 289.5,514.4 295.7,518.5" fill="#b4b4b4" stroke="#b4b4b4" stroke-width="1.6" stroke-linejoin="round"/>
<polygon points="295.7,880.5 289.5,884.6 285.7,881.1 289.2,874.6" fill="#b4b4b4" stroke="#b4b4b4" stroke-width="1.6" stroke-linejoin="round"/>
<polygon points="306.0,510.9 304.2,503.7 308.8,501.3 313.7,506.8" fill="#b4b4b4" stroke="#b4b4b4" stroke-width="1.6" stroke-linejoin="round"/>
<polygon points="313.7,892.2 308.8,897.7 304.2,895.3 306.0,888.1" fill="#b4b4b4" stroke="#b4b4b4" stroke-width="1.6" stroke-linejoin="round"/>
<polygon points="323.5,503.0 323.2,495.6 328.2,494.1 331.9,500.5" fill="#b4b4b4" stroke="#b4b4b4" stroke-width="1.6" stroke-linejoin="round"/>
<polygon points="331.9,898.5 328.2,904.9 323.2,903.4 323.5,896.0" fill="#b4b4b4" stroke="#b4b4b4" stroke-width="1.6" stroke-linejoin="round"/>
<polygon points="342.3,498.5 343.4,491.2 348.6,490.7 351.1,497.7" fill="#b4b4b4" stroke="#b4b4b4" stroke-width="1.6" stroke-linejoin="round"/>
<polygon points="351.1,901.3 348.6,908.3 343.4,907.8 342.3,900.5" fill="#b4b4b4" stroke="#b4b4b4" stroke-width="1.6" stroke-linejoin="round"/>
<polygon points="358.9,497.7 361.7,490.8 366.8,491.5 367.6,498.9" fill="#b4b4b4" stroke="#b4b4b4" stroke-width="1.6" stroke-linejoin="round"/>
<polygon points="367.6,900.1 366.8,907.5 361.7,908.2 358.9,901.3" fill="#b4b4b4" stroke="#b4b4b4" stroke-width="1.6" stroke-linejoin="round"/>
<polygon points="380.5,502.5 384.8,496.5 389.6,498.4 388.6,505.7" fill="#b4b4b4" stroke="#b4b4b4" stroke-width="1.6" stroke-linejoin="round"/>
<polygon points="388.6,893.3 389.6,900.6 384.8,902.5 380.5,896.5" fill="#b4b4b4" stroke="#b4b4b4" stroke-width="1.6" stroke-linejoin="round"/>
<polygon points="400.2,511.7 405.6,506.6 410.0,509.3 407.7,516.4" fill="#b4b4b4" stroke="#b4b4b4" stroke-width="1.6" stroke-linejoin="round"/>
<polygon points="407.7,882.6 410.0,889.7 405.6,892.4 400.2,887.3" fill="#b4b4b4" stroke="#b4b4b4" stroke-width="1.6" stroke-linejoin="round"/>
<polygon points="419.7,525.9 425.9,521.9 429.7,525.5 426.1,532.0" fill="#b4b4b4" stroke="#b4b4b4" stroke-width="1.6" stroke-linejoin="round"/>
<polygon points="426.1,867.0 429.7,873.5 425.9,877.1 419.7,873.1" fill="#b4b4b4" stroke="#b4b4b4" stroke-width="1.6" stroke-linejoin="round"/>
<polygon points="436.4,543.0 443.1,539.8 446.4,543.8 442.0,549.8" fill="#b4b4b4" stroke="#b4b4b4" stroke-width="1.6" stroke-linejoin="round"/>
<polygon points="442.0,849.2 446.4,855.2 443.1,859.2 436.4,856.0" fill="#b4b4b4" stroke="#b4b4b4" stroke-width="1.6" stroke-linejoin="round"/>
<polygon points="452.0,564.0 459.1,561.9 461.8,566.4 456.4,571.6" fill="#b4b4b4" stroke="#b4b4b4" stroke-width="1.6" stroke-linejoin="round"/>
<polygon points="456.4,827.4 461.8,832.6 459.1,837.1 452.0,835.0" fill="#b4b4b4" stroke="#b4b4b4" stroke-width="1.6" stroke-linejoin="round"/>
<polygon points="465.2,589.3 472.5,588.0 474.6,592.7 468.8,597.3" fill="#b4b4b4" stroke="#b4b4b4" stroke-width="1.6" stroke-linejoin="round"/>
<polygon points="468.8,801.7 474.6,806.3 472.5,811.0 465.2,809.7" fill="#b4b4b4" stroke="#b4b4b4" stroke-width="1.6" stroke-linejoin="round"/>
<polygon points="476.6,618.0 484.0,617.9 485.4,622.9 478.9,626.5" fill="#b4b4b4" stroke="#b4b4b4" stroke-width="1.6" stroke-linejoin="round"/>
<polygon points="478.9,772.5 485.4,776.1 484.0,781.1 476.6,781.0" fill="#b4b4b4" stroke="#b4b4b4" stroke-width="1.6" stroke-linejoin="round"/>
<polygon points="482.3,645.5 489.7,646.4 490.4,651.6 483.5,654.3" fill="#b4b4b4" stroke="#b4b4b4" stroke-width="1.6" stroke-linejoin="round"/>
<polygon points="483.5,744.7 490.4,747.4 489.7,752.6 482.3,753.5" fill="#b4b4b4" stroke="#b4b4b4" stroke-width="1.6" stroke-linejoin="round"/>
<polygon points="485.7,678.5 493.0,679.8 493.4,685.0 486.3,687.3" fill="#b4b4b4" stroke="#b4b4b4" stroke-width="1.6" stroke-linejoin="round"/>
<polygon points="486.3,711.7 493.4,714.0 493.0,719.2 485.7,720.5" fill="#b4b4b4" stroke="#b4b4b4" stroke-width="1.6" stroke-linejoin="round"/>
<path d="M273.8 573.3 L282.5 571.5 L286.9 563.6 L291.3 561.9 L305.3 561.0 L309.6 563.6 L310.7 565.4 L311.8 567.0 L313.1 568.6 L314.4 570.1 L315.7 571.6 L317.1 573.1 L318.5 574.5 L319.9 576.0 L321.2 577.6 L322.6 579.1 L324.0 580.6 L325.4 582.0 L327.1 583.2 L328.9 584.2 L330.8 585.0 L332.8 585.6 L334.9 586.1 L337.0 586.6 L339.0 587.0 L341.1 587.4 L343.2 587.6 L345.3 587.8 L347.5 587.8 L349.6 587.7 L351.6 587.3 L353.7 586.9 L355.8 586.3 L357.8 585.7 L359.7 584.9 L361.5 583.9 L363.3 582.8 L365.0 581.6 L366.7 580.4 L368.5 579.3 L370.3 578.4 L372.1 577.7 L374.2 577.3 L376.3 577.2 L378.7 577.7 L381.4 582.9 L394.5 588.1 L397.1 597.8 L403.3 607.4 L412.0 610.9 L418.1 613.5 L419.9 624.0 L415.5 632.8 L408.5 645.0 L402.4 659.0 L398.0 673.0 L395.4 687.0 L394.5 700.0 L394.7 699.5 L394.7 699.5 L394.5 699.0 L395.4 712.0 L398.0 726.0 L402.4 740.0 L408.5 754.0 L415.5 766.2 L419.9 775.0 L418.1 785.5 L412.0 788.1 L403.3 791.6 L397.1 801.2 L394.5 810.9 L381.4 816.1 L378.7 821.3 L376.3 821.8 L374.2 821.7 L372.1 821.3 L370.3 820.6 L368.5 819.7 L366.7 818.6 L365.0 817.4 L363.3 816.2 L361.5 815.1 L359.7 814.1 L357.8 813.3 L355.8 812.7 L353.7 812.1 L351.6 811.7 L349.6 811.3 L347.5 811.2 L345.3 811.2 L343.2 811.4 L341.1 811.6 L339.0 812.0 L337.0 812.4 L334.9 812.9 L332.8 813.4 L330.8 814.0 L328.9 814.8 L327.1 815.8 L325.4 817.0 L324.0 818.4 L322.6 819.9 L321.2 821.4 L319.9 823.0 L318.5 824.5 L317.1 825.9 L315.7 827.4 L314.4 828.9 L313.1 830.4 L311.8 832.0 L310.7 833.6 L309.6 835.4 L305.3 838.0 L291.3 837.1 L286.9 835.4 L282.5 827.5 L273.8 825.7 L272.5 824.8 L272.4 823.2 L272.3 821.6 L272.1 820.0 L271.9 818.4 L271.7 816.8 L271.4 815.2 L271.1 813.6 L270.8 812.0 L270.5 810.5 L270.2 808.9 L269.8 807.3 L269.4 805.7 L269.0 804.2 L268.7 802.6 L268.2 801.0 L267.8 799.5 L267.4 797.9 L267.0 796.3 L266.5 794.8 L266.1 793.2 L265.7 791.6 L265.2 790.1 L264.8 788.5 L264.4 787.0 L263.9 785.4 L263.5 783.8 L263.0 782.3 L262.6 780.7 L262.1 779.2 L261.6 777.6 L261.2 776.1 L260.7 774.5 L260.2 773.0 L259.7 771.4 L259.2 769.9 L258.8 768.3 L258.3 766.8 L257.9 765.2 L257.5 763.6 L257.1 762.1 L256.7 760.5 L256.3 758.9 L255.9 757.4 L255.5 755.8 L255.1 754.2 L254.7 752.6 L254.3 751.1 L253.9 749.5 L253.5 747.9 L253.1 746.4 L252.7 744.8 L252.3 743.2 L251.9 741.7 L251.5 740.1 L251.2 738.5 L250.8 736.9 L250.5 735.4 L250.1 733.8 L249.8 732.2 L249.5 730.6 L249.2 729.0 L248.9 727.4 L248.6 725.8 L248.4 724.2 L248.1 722.6 L247.8 721.1 L247.5 719.5 L247.3 717.9 L247.0 716.3 L246.7 714.7 L246.5 713.1 L246.2 711.5 L245.9 709.9 L245.6 708.3 L245.3 706.7 L245.1 705.1 L244.9 703.5 L244.8 701.9 L244.7 700.3 L244.7 698.7 L244.8 697.1 L244.9 695.5 L245.1 693.9 L245.3 692.3 L245.6 690.7 L245.9 689.1 L246.2 687.5 L246.5 685.9 L246.7 684.3 L247.0 682.7 L247.3 681.1 L247.5 679.5 L247.8 677.9 L248.1 676.4 L248.4 674.8 L248.6 673.2 L248.9 671.6 L249.2 670.0 L249.5 668.4 L249.8 666.8 L250.1 665.2 L250.5 663.6 L250.8 662.1 L251.2 660.5 L251.5 658.9 L251.9 657.3 L252.3 655.8 L252.7 654.2 L253.1 652.6 L253.5 651.1 L253.9 649.5 L254.3 647.9 L254.7 646.4 L255.1 644.8 L255.5 643.2 L255.9 641.6 L256.3 640.1 L256.7 638.5 L257.1 636.9 L257.5 635.4 L257.9 633.8 L258.3 632.2 L258.8 630.7 L259.2 629.1 L259.7 627.6 L260.2 626.0 L260.7 624.5 L261.2 622.9 L261.6 621.4 L262.1 619.8 L262.6 618.3 L263.0 616.7 L263.5 615.2 L263.9 613.6 L264.4 612.0 L264.8 610.5 L265.2 608.9 L265.7 607.4 L266.1 605.8 L266.5 604.2 L267.0 602.7 L267.4 601.1 L267.8 599.5 L268.2 598.0 L268.7 596.4 L269.0 594.8 L269.4 593.3 L269.8 591.7 L270.2 590.1 L270.5 588.5 L270.8 587.0 L271.1 585.4 L271.4 583.8 L271.7 582.2 L271.9 580.6 L272.1 579.0 L272.3 577.4 L272.4 575.8 L272.5 574.2Z" fill="#4b4b4b"/>
<clipPath id="dp3"><path d="M269.8 825.7 L268.8 825.3 L267.7 824.9 L266.7 824.5 L265.7 824.1 L264.6 823.7 L263.6 823.3 L262.6 822.9 L261.6 822.5 L260.5 822.1 L259.5 821.6 L258.5 821.2 L257.5 820.7 L256.5 820.3 L255.5 819.8 L254.5 819.3 L253.6 818.8 L252.6 818.2 L251.7 817.7 L250.8 817.1 L247.6 815.3 L244.5 813.6 L241.3 811.8 L238.2 810.1 L235.2 808.4 L232.1 806.7 L229.1 805.0 L226.1 803.3 L223.1 801.7 L220.1 800.1 L217.2 798.4 L214.3 796.8 L211.4 795.3 L208.5 793.7 L205.7 792.1 L202.8 790.6 L200.0 789.1 L197.3 787.6 L194.5 786.1 L191.8 784.6 L189.1 783.2 L186.4 781.7 L183.7 780.3 L181.1 778.9 L178.5 777.6 L175.9 776.2 L173.3 774.9 L170.7 773.5 L168.2 772.2 L165.7 770.9 L163.2 769.7 L160.8 768.4 L158.3 767.2 L155.9 766.0 L153.5 764.8 L151.2 763.6 L148.8 762.4 L146.5 761.3 L144.2 760.2 L141.9 759.1 L139.7 758.0 L137.5 756.9 L135.3 755.8 L133.1 754.8 L130.9 753.8 L128.8 752.8 L126.7 751.8 L124.6 750.8 L122.5 749.9 L120.4 748.9 L118.4 748.0 L116.4 747.1 L114.4 746.2 L112.5 745.3 L110.6 744.5 L108.7 743.6 L106.8 742.8 L104.9 742.0 L103.1 741.2 L101.2 740.4 L99.4 739.6 L97.7 738.9 L95.9 738.1 L94.2 737.4 L92.5 736.7 L90.8 735.9 L89.2 735.2 L87.5 734.6 L85.9 733.9 L84.3 733.2 L82.8 732.6 L81.2 731.9 L79.7 731.3 L78.2 730.7 L76.7 730.1 L75.3 729.5 L73.8 728.9 L72.4 728.3 L71.1 727.7 L69.7 727.1 L68.4 726.6 L67.0 726.0 L65.7 725.5 L64.5 724.9 L63.2 724.4 L62.0 723.9 L60.8 723.3 L59.6 722.8 L58.5 722.3 L57.3 721.8 L56.2 721.3 L55.2 720.8 L54.1 720.3 L53.0 719.8 L52.0 719.3 L51.0 718.8 L50.1 718.4 L49.1 717.9 L48.2 717.4 L47.3 716.9 L46.4 716.5 L45.5 716.0 L44.7 715.6 L43.9 715.1 L43.1 714.6 L42.3 714.2 L41.6 713.7 L40.9 713.3 L40.2 712.8 L39.5 712.4 L38.9 711.9 L38.2 711.5 L37.6 711.0 L37.0 710.6 L36.5 710.1 L35.9 709.7 L35.4 709.2 L34.9 708.8 L34.5 708.3 L34.0 707.9 L33.6 707.5 L33.2 707.0 L32.8 706.6 L32.5 706.1 L32.1 705.7 L31.8 705.2 L31.5 704.8 L31.3 704.4 L31.0 703.9 L30.8 703.5 L30.6 703.0 L30.5 702.6 L30.3 702.2 L30.2 701.7 L30.1 701.3 L30.0 700.8 L29.9 700.4 L29.9 699.9 L29.9 699.5 L29.9 699.1 L29.9 698.6 L30.0 698.2 L30.1 697.7 L30.2 697.3 L30.3 696.8 L30.5 696.4 L30.6 696.0 L30.8 695.5 L31.0 695.1 L31.3 694.6 L31.5 694.2 L31.8 693.8 L32.1 693.3 L32.5 692.9 L32.8 692.4 L33.2 692.0 L33.6 691.5 L34.0 691.1 L34.5 690.7 L34.9 690.2 L35.4 689.8 L35.9 689.3 L36.5 688.9 L37.0 688.4 L37.6 688.0 L38.2 687.5 L38.9 687.1 L39.5 686.6 L40.2 686.2 L40.9 685.7 L41.6 685.3 L42.3 684.8 L43.1 684.4 L43.9 683.9 L44.7 683.4 L45.5 683.0 L46.4 682.5 L47.3 682.1 L48.2 681.6 L49.1 681.1 L50.1 680.6 L51.0 680.2 L52.0 679.7 L53.0 679.2 L54.1 678.7 L55.2 678.2 L56.2 677.7 L57.3 677.2 L58.5 676.7 L59.6 676.2 L60.8 675.7 L62.0 675.1 L63.2 674.6 L64.5 674.1 L65.7 673.5 L67.0 673.0 L68.4 672.4 L69.7 671.9 L71.1 671.3 L72.4 670.7 L73.8 670.1 L75.3 669.5 L76.7 668.9 L78.2 668.3 L79.7 667.7 L81.2 667.1 L82.8 666.4 L84.3 665.8 L85.9 665.1 L87.5 664.4 L89.2 663.8 L90.8 663.1 L92.5 662.3 L94.2 661.6 L95.9 660.9 L97.7 660.1 L99.4 659.4 L101.2 658.6 L103.1 657.8 L104.9 657.0 L106.8 656.2 L108.7 655.4 L110.6 654.5 L112.5 653.7 L114.4 652.8 L116.4 651.9 L118.4 651.0 L120.4 650.1 L122.5 649.1 L124.6 648.2 L126.7 647.2 L128.8 646.2 L130.9 645.2 L133.1 644.2 L135.3 643.2 L137.5 642.1 L139.7 641.0 L141.9 639.9 L144.2 638.8 L146.5 637.7 L148.8 636.6 L151.2 635.4 L153.5 634.2 L155.9 633.0 L158.3 631.8 L160.8 630.6 L163.2 629.3 L165.7 628.1 L168.2 626.8 L170.7 625.5 L173.3 624.1 L175.9 622.8 L178.5 621.4 L181.1 620.1 L183.7 618.7 L186.4 617.3 L189.1 615.8 L191.8 614.4 L194.5 612.9 L197.3 611.4 L200.0 609.9 L202.8 608.4 L205.7 606.9 L208.5 605.3 L211.4 603.7 L214.3 602.2 L217.2 600.6 L220.1 598.9 L223.1 597.3 L226.1 595.7 L229.1 594.0 L232.1 592.3 L235.2 590.6 L238.2 588.9 L241.3 587.2 L244.5 585.4 L247.6 583.7 L250.8 581.9 L251.7 581.3 L252.6 580.8 L253.6 580.2 L254.5 579.7 L255.5 579.2 L256.5 578.7 L257.5 578.3 L258.5 577.8 L259.5 577.4 L260.5 576.9 L261.6 576.5 L262.6 576.1 L263.6 575.7 L264.6 575.3 L265.7 574.9 L266.7 574.5 L267.7 574.1 L268.8 573.7 L269.8 573.3 L272.5 574.2 L272.4 575.8 L272.3 577.4 L272.1 579.0 L271.9 580.6 L271.7 582.2 L271.4 583.8 L271.1 585.4 L270.8 587.0 L270.5 588.5 L270.2 590.1 L269.8 591.7 L269.4 593.3 L269.0 594.8 L268.7 596.4 L268.2 598.0 L267.8 599.5 L267.4 601.1 L267.0 602.7 L266.5 604.2 L266.1 605.8 L265.7 607.4 L265.2 608.9 L264.8 610.5 L264.4 612.0 L263.9 613.6 L263.5 615.2 L263.0 616.7 L262.6 618.3 L262.1 619.8 L261.6 621.4 L261.2 622.9 L260.7 624.5 L260.2 626.0 L259.7 627.6 L259.2 629.1 L258.8 630.7 L258.3 632.2 L257.9 633.8 L257.5 635.4 L257.1 636.9 L256.7 638.5 L256.3 640.1 L255.9 641.6 L255.5 643.2 L255.1 644.8 L254.7 646.4 L254.3 647.9 L253.9 649.5 L253.5 651.1 L253.1 652.6 L252.7 654.2 L252.3 655.8 L251.9 657.3 L251.5 658.9 L251.2 660.5 L250.8 662.1 L250.5 663.6 L250.1 665.2 L249.8 666.8 L249.5 668.4 L249.2 670.0 L248.9 671.6 L248.6 673.2 L248.4 674.8 L248.1 676.4 L247.8 677.9 L247.5 679.5 L247.3 681.1 L247.0 682.7 L246.7 684.3 L246.5 685.9 L246.2 687.5 L245.9 689.1 L245.6 690.7 L245.3 692.3 L245.1 693.9 L244.9 695.5 L244.8 697.1 L244.7 698.7 L244.7 700.3 L244.8 701.9 L244.9 703.5 L245.1 705.1 L245.3 706.7 L245.6 708.3 L245.9 709.9 L246.2 711.5 L246.5 713.1 L246.7 714.7 L247.0 716.3 L247.3 717.9 L247.5 719.5 L247.8 721.1 L248.1 722.6 L248.4 724.2 L248.6 725.8 L248.9 727.4 L249.2 729.0 L249.5 730.6 L249.8 732.2 L250.1 733.8 L250.5 735.4 L250.8 736.9 L251.2 738.5 L251.5 740.1 L251.9 741.7 L252.3 743.2 L252.7 744.8 L253.1 746.4 L253.5 747.9 L253.9 749.5 L254.3 751.1 L254.7 752.6 L255.1 754.2 L255.5 755.8 L255.9 757.4 L256.3 758.9 L256.7 760.5 L257.1 762.1 L257.5 763.6 L257.9 765.2 L258.3 766.8 L258.8 768.3 L259.2 769.9 L259.7 771.4 L260.2 773.0 L260.7 774.5 L261.2 776.1 L261.6 777.6 L262.1 779.2 L262.6 780.7 L263.0 782.3 L263.5 783.8 L263.9 785.4 L264.4 787.0 L264.8 788.5 L265.2 790.1 L265.7 791.6 L266.1 793.2 L266.5 794.8 L267.0 796.3 L267.4 797.9 L267.8 799.5 L268.2 801.0 L268.7 802.6 L269.0 804.2 L269.4 805.7 L269.8 807.3 L270.2 808.9 L270.5 810.5 L270.8 812.0 L271.1 813.6 L271.4 815.2 L271.7 816.8 L271.9 818.4 L272.1 820.0 L272.3 821.6 L272.4 823.2 L272.5 824.8Z"/></clipPath>
<clipPath id="lp3"><path d="M355.0 901.3 L352.2 901.3 L349.4 901.1 L346.7 900.9 L343.9 900.6 L341.2 900.2 L338.4 899.8 L335.7 899.2 L333.0 898.6 L330.3 898.0 L327.7 897.2 L325.0 896.4 L322.4 895.6 L319.8 894.6 L317.3 893.6 L314.8 892.5 L312.3 891.4 L309.8 890.1 L307.5 888.8 L305.1 887.4 L302.9 886.0 L300.7 884.4 L298.6 882.8 L296.5 881.1 L294.5 879.3 L292.5 877.5 L290.5 875.7 L288.6 873.8 L286.8 871.9 L285.0 870.0 L283.2 868.0 L281.5 866.0 L279.8 864.0 L278.2 861.9 L276.6 859.8 L275.1 857.7 L273.6 855.5 L272.2 853.4 L270.8 851.1 L269.5 848.9 L268.2 846.6 L266.9 844.4 L265.7 842.0 L264.6 839.7 L263.5 837.4 L262.5 835.0 L261.6 832.6 L260.7 830.2 L259.9 827.7 L259.2 825.3 L258.4 822.8 L257.6 820.4 L256.7 818.0 L255.7 815.6 L254.7 813.2 L253.9 810.8 L253.1 808.3 L252.4 805.8 L251.7 803.4 L251.0 800.9 L250.3 798.4 L249.6 795.9 L249.0 793.5 L248.4 791.0 L247.8 788.5 L247.3 786.0 L246.8 783.5 L246.4 781.0 L246.0 778.4 L245.6 775.9 L245.3 773.4 L244.9 770.8 L244.6 768.3 L244.3 765.8 L244.1 763.2 L243.8 760.7 L243.6 758.1 L243.4 755.6 L243.2 753.1 L243.1 750.5 L242.9 748.0 L242.9 745.4 L242.8 742.9 L242.7 740.3 L242.7 737.8 L242.7 735.2 L242.7 732.7 L242.7 730.1 L242.7 727.6 L242.8 725.0 L242.8 722.5 L242.9 719.9 L242.9 717.3 L243.0 714.8 L243.0 712.2 L243.1 709.7 L243.1 707.1 L243.1 704.6 L243.1 702.0 L243.1 699.5 L243.1 699.5 L243.1 697.0 L243.1 694.4 L243.1 691.9 L243.1 689.3 L243.0 686.8 L243.0 684.2 L242.9 681.7 L242.9 679.1 L242.8 676.5 L242.8 674.0 L242.7 671.4 L242.7 668.9 L242.7 666.3 L242.7 663.8 L242.7 661.2 L242.7 658.7 L242.8 656.1 L242.9 653.6 L242.9 651.0 L243.1 648.5 L243.2 645.9 L243.4 643.4 L243.6 640.9 L243.8 638.3 L244.1 635.8 L244.3 633.2 L244.6 630.7 L244.9 628.2 L245.3 625.6 L245.6 623.1 L246.0 620.6 L246.4 618.0 L246.8 615.5 L247.3 613.0 L247.8 610.5 L248.4 608.0 L249.0 605.5 L249.6 603.1 L250.3 600.6 L251.0 598.1 L251.7 595.6 L252.4 593.2 L253.1 590.7 L253.9 588.2 L254.7 585.8 L255.7 583.4 L256.7 581.0 L257.6 578.6 L258.4 576.2 L259.2 573.7 L259.9 571.3 L260.7 568.8 L261.6 566.4 L262.5 564.0 L263.5 561.6 L264.6 559.3 L265.7 557.0 L266.9 554.6 L268.2 552.4 L269.5 550.1 L270.8 547.9 L272.2 545.6 L273.6 543.5 L275.1 541.3 L276.6 539.2 L278.2 537.1 L279.8 535.0 L281.5 533.0 L283.2 531.0 L285.0 529.0 L286.8 527.1 L288.6 525.2 L290.5 523.3 L292.5 521.5 L294.5 519.7 L296.5 517.9 L298.6 516.2 L300.7 514.6 L302.9 513.0 L305.1 511.6 L307.5 510.2 L309.8 508.9 L312.3 507.6 L314.8 506.5 L317.3 505.4 L319.8 504.4 L322.4 503.4 L325.0 502.6 L327.7 501.8 L330.3 501.0 L333.0 500.4 L335.7 499.8 L338.4 499.2 L341.2 498.8 L343.9 498.4 L346.7 498.1 L349.4 497.9 L352.2 497.7 L355.0 497.7 L-46.3 419.1 L-46.3 979.9Z"/></clipPath>
<g clip-path="url(#dp3)"><g clip-path="url(#lp3)">
<rect x="29.9" y="489.2" width="533.1" height="420.6" fill="#bc0cf8"/>
<path d="M486.9 694.2 L247.0 694.2 L168.1 694.2 L34.6 442.2 L486.9 349.0Z" fill="#30b858"/>
<path d="M486.9 704.8 L247.0 704.8 L168.1 704.8 L34.6 956.8 L486.9 1050.0Z" fill="#5888a0"/>
<path d="M486.9 682.6 L247.0 682.6 L176.9 682.6 L31.6 436.2 L486.9 349.0Z" fill="#d8f0a0"/>
<path d="M486.9 716.4 L247.0 716.4 L176.9 716.4 L31.6 962.8 L486.9 1050.0Z" fill="#40c8d0"/>
<path d="M486.9 670.9 L247.0 670.9 L185.7 670.9 L40.4 424.5 L486.9 349.0Z" fill="#88e018"/>
<path d="M486.9 728.1 L247.0 728.1 L185.7 728.1 L40.4 974.5 L486.9 1050.0Z" fill="#1010d0"/>
<path d="M486.9 660.0 L247.0 660.0 L194.9 658.8 L49.5 412.4 L486.9 349.0Z" fill="#30e888"/>
<path d="M486.9 739.0 L247.0 739.0 L194.9 740.2 L49.5 986.6 L486.9 1050.0Z" fill="#7028b8"/>
<path d="M486.9 650.5 L247.0 650.5 L202.9 648.2 L57.5 401.7 L486.9 349.0Z" fill="#00d8b8"/>
<path d="M486.9 748.5 L247.0 748.5 L202.9 750.8 L57.5 997.3 L486.9 1050.0Z" fill="#7840d0"/>
<path d="M486.9 640.3 L247.0 640.3 L211.4 636.8 L66.1 390.4 L486.9 349.0Z" fill="#e0a868"/>
<path d="M486.9 758.7 L247.0 758.7 L211.4 762.2 L66.1 1008.6 L486.9 1050.0Z" fill="#e8c088"/>
<path d="M486.9 630.1 L247.0 630.1 L219.2 626.6 L73.8 380.2 L486.9 349.0Z" fill="#98a890"/>
<path d="M486.9 768.9 L247.0 768.9 L219.2 772.4 L73.8 1018.8 L486.9 1050.0Z" fill="#a89890"/>
<path d="M486.9 620.6 L247.0 620.6 L226.3 617.1 L80.9 370.7 L486.9 349.0Z" fill="#d84820"/>
<path d="M486.9 778.4 L247.0 778.4 L226.3 781.9 L80.9 1028.3 L486.9 1050.0Z" fill="#80f8f0"/>
<path d="M486.9 611.2 L247.0 611.2 L233.4 607.7 L88.1 361.2 L486.9 349.0Z" fill="#b03860"/>
<path d="M486.9 787.8 L247.0 787.8 L233.4 791.3 L88.1 1037.8 L486.9 1050.0Z" fill="#a010d0"/>
<path d="M486.9 603.1 L247.0 603.1 L239.5 599.6 L94.1 353.2 L486.9 349.0Z" fill="#e01878"/>
<path d="M486.9 795.9 L247.0 795.9 L239.5 799.4 L94.1 1045.8 L486.9 1050.0Z" fill="#e0e098"/>
<path d="M486.9 595.1 L247.0 595.1 L245.5 591.6 L100.2 345.2 L486.9 349.0Z" fill="#f05858"/>
<path d="M486.9 803.9 L247.0 803.9 L245.5 807.4 L100.2 1053.8 L486.9 1050.0Z" fill="#d8a088"/>
<path d="M486.9 587.1 L247.0 587.1 L251.6 583.6 L106.3 337.1 L486.9 349.0Z" fill="#30b050"/>
<path d="M486.9 811.9 L247.0 811.9 L251.6 815.4 L106.3 1061.9 L486.9 1050.0Z" fill="#10a030"/>
<path d="M486.9 582.0 L247.0 582.0 L255.4 578.5 L110.1 332.1 L486.9 349.0Z" fill="#30b050"/>
<path d="M486.9 817.0 L247.0 817.0 L255.4 820.5 L110.1 1066.9 L486.9 1050.0Z" fill="#10a030"/>
<path d="M-122.4 839.7 L94.9 839.7 L96.5 836.2 L98.1 832.7 L99.7 829.2 L101.4 825.7 L103.0 822.2 L104.6 818.7 L106.2 815.2 L107.8 811.7 L109.4 808.2 L111.0 804.6 L112.6 801.1 L114.3 797.6 L115.9 794.1 L117.5 790.6 L119.1 787.1 L120.7 783.6 L122.3 780.1 L123.9 776.6 L125.5 773.1 L127.1 769.6 L128.8 766.1 L130.4 762.6 L132.0 759.1 L133.6 755.6 L135.2 752.1 L136.8 748.6 L138.4 745.1 L140.0 741.6 L141.6 738.1 L143.2 734.5 L144.7 731.0 L146.3 727.5 L147.9 724.0 L149.4 720.5 L150.9 717.0 L152.4 713.5 L153.8 710.0 L155.1 706.5 L156.0 703.0 L156.4 699.5 L156.0 696.0 L155.1 692.5 L153.8 689.0 L152.4 685.5 L150.9 682.0 L149.4 678.5 L147.9 675.0 L146.3 671.5 L144.7 668.0 L143.2 664.5 L141.6 660.9 L140.0 657.4 L138.4 653.9 L136.8 650.4 L135.2 646.9 L133.6 643.4 L132.0 639.9 L130.4 636.4 L128.8 632.9 L127.1 629.4 L125.5 625.9 L123.9 622.4 L122.3 618.9 L120.7 615.4 L119.1 611.9 L117.5 608.4 L115.9 604.9 L114.3 601.4 L112.6 597.9 L111.0 594.4 L109.4 590.8 L107.8 587.3 L106.2 583.8 L104.6 580.3 L103.0 576.8 L101.4 573.3 L99.7 569.8 L98.1 566.3 L96.5 562.8 L94.9 559.3 L-122.4 559.3Z" fill="#6c3273"/>
<path d="M-122.4 839.7 L85.9 839.7 L87.4 836.2 L88.9 832.7 L90.5 829.2 L92.0 825.7 L93.5 822.2 L95.0 818.7 L96.6 815.2 L98.1 811.7 L99.6 808.2 L101.2 804.6 L102.7 801.1 L104.2 797.6 L105.7 794.1 L107.3 790.6 L108.8 787.1 L110.3 783.6 L111.8 780.1 L113.4 776.6 L114.9 773.1 L116.4 769.6 L117.9 766.1 L119.5 762.6 L121.0 759.1 L122.5 755.6 L124.0 752.1 L125.5 748.6 L127.1 745.1 L128.6 741.6 L130.1 738.1 L131.6 734.5 L133.1 731.0 L134.6 727.5 L136.1 724.0 L137.5 720.5 L139.0 717.0 L140.4 713.5 L141.7 710.0 L142.9 706.5 L143.8 703.0 L144.1 699.5 L143.8 696.0 L142.9 692.5 L141.7 689.0 L140.4 685.5 L139.0 682.0 L137.5 678.5 L136.1 675.0 L134.6 671.5 L133.1 668.0 L131.6 664.5 L130.1 660.9 L128.6 657.4 L127.1 653.9 L125.5 650.4 L124.0 646.9 L122.5 643.4 L121.0 639.9 L119.5 636.4 L117.9 632.9 L116.4 629.4 L114.9 625.9 L113.4 622.4 L111.8 618.9 L110.3 615.4 L108.8 611.9 L107.3 608.4 L105.7 604.9 L104.2 601.4 L102.7 597.9 L101.2 594.4 L99.6 590.8 L98.1 587.3 L96.6 583.8 L95.0 580.3 L93.5 576.8 L92.0 573.3 L90.5 569.8 L88.9 566.3 L87.4 562.8 L85.9 559.3 L-122.4 559.3Z" fill="#5feb2d"/>
<path d="M-122.4 839.7 L76.9 839.7 L78.3 836.2 L79.8 832.7 L81.2 829.2 L82.6 825.7 L84.1 822.2 L85.5 818.7 L87.0 815.2 L88.4 811.7 L89.9 808.2 L91.3 804.6 L92.8 801.1 L94.2 797.6 L95.6 794.1 L97.1 790.6 L98.5 787.1 L100.0 783.6 L101.4 780.1 L102.9 776.6 L104.3 773.1 L105.7 769.6 L107.2 766.1 L108.6 762.6 L110.1 759.1 L111.5 755.6 L112.9 752.1 L114.4 748.6 L115.8 745.1 L117.2 741.6 L118.7 738.1 L120.1 734.5 L121.5 731.0 L122.9 727.5 L124.3 724.0 L125.7 720.5 L127.1 717.0 L128.4 713.5 L129.6 710.0 L130.8 706.5 L131.6 703.0 L132.0 699.5 L131.6 696.0 L130.8 692.5 L129.6 689.0 L128.4 685.5 L127.1 682.0 L125.7 678.5 L124.3 675.0 L122.9 671.5 L121.5 668.0 L120.1 664.5 L118.7 660.9 L117.2 657.4 L115.8 653.9 L114.4 650.4 L112.9 646.9 L111.5 643.4 L110.1 639.9 L108.6 636.4 L107.2 632.9 L105.7 629.4 L104.3 625.9 L102.9 622.4 L101.4 618.9 L100.0 615.4 L98.5 611.9 L97.1 608.4 L95.6 604.9 L94.2 601.4 L92.8 597.9 L91.3 594.4 L89.9 590.8 L88.4 587.3 L87.0 583.8 L85.5 580.3 L84.1 576.8 L82.6 573.3 L81.2 569.8 L79.8 566.3 L78.3 562.8 L76.9 559.3 L-122.4 559.3Z" fill="#083090"/>
<path d="M-122.4 839.7 L68.2 839.7 L69.5 836.2 L70.9 832.7 L72.3 829.2 L73.6 825.7 L75.0 822.2 L76.4 818.7 L77.7 815.2 L79.1 811.7 L80.4 808.2 L81.8 804.6 L83.2 801.1 L84.5 797.6 L85.9 794.1 L87.3 790.6 L88.6 787.1 L90.0 783.6 L91.4 780.1 L92.7 776.6 L94.1 773.1 L95.5 769.6 L96.8 766.1 L98.2 762.6 L99.5 759.1 L100.9 755.6 L102.3 752.1 L103.6 748.6 L105.0 745.1 L106.3 741.6 L107.7 738.1 L109.0 734.5 L110.3 731.0 L111.7 727.5 L113.0 724.0 L114.3 720.5 L115.6 717.0 L116.8 713.5 L118.0 710.0 L119.1 706.5 L119.9 703.0 L120.2 699.5 L119.9 696.0 L119.1 692.5 L118.0 689.0 L116.8 685.5 L115.6 682.0 L114.3 678.5 L113.0 675.0 L111.7 671.5 L110.3 668.0 L109.0 664.5 L107.7 660.9 L106.3 657.4 L105.0 653.9 L103.6 650.4 L102.3 646.9 L100.9 643.4 L99.5 639.9 L98.2 636.4 L96.8 632.9 L95.5 629.4 L94.1 625.9 L92.7 622.4 L91.4 618.9 L90.0 615.4 L88.6 611.9 L87.3 608.4 L85.9 604.9 L84.5 601.4 L83.2 597.9 L81.8 594.4 L80.4 590.8 L79.1 587.3 L77.7 583.8 L76.4 580.3 L75.0 576.8 L73.6 573.3 L72.3 569.8 L70.9 566.3 L69.5 562.8 L68.2 559.3 L-122.4 559.3Z" fill="#388870"/>
<path d="M-122.4 839.7 L59.3 839.7 L60.6 836.2 L61.9 832.7 L63.2 829.2 L64.4 825.7 L65.7 822.2 L67.0 818.7 L68.3 815.2 L69.6 811.7 L70.9 808.2 L72.2 804.6 L73.4 801.1 L74.7 797.6 L76.0 794.1 L77.3 790.6 L78.6 787.1 L79.9 783.6 L81.2 780.1 L82.4 776.6 L83.7 773.1 L85.0 769.6 L86.3 766.1 L87.6 762.6 L88.9 759.1 L90.1 755.6 L91.4 752.1 L92.7 748.6 L94.0 745.1 L95.2 741.6 L96.5 738.1 L97.8 734.5 L99.0 731.0 L100.3 727.5 L101.5 724.0 L102.8 720.5 L104.0 717.0 L105.2 713.5 L106.3 710.0 L107.3 706.5 L108.0 703.0 L108.3 699.5 L108.0 696.0 L107.3 692.5 L106.3 689.0 L105.2 685.5 L104.0 682.0 L102.8 678.5 L101.5 675.0 L100.3 671.5 L99.0 668.0 L97.8 664.5 L96.5 660.9 L95.2 657.4 L94.0 653.9 L92.7 650.4 L91.4 646.9 L90.1 643.4 L88.9 639.9 L87.6 636.4 L86.3 632.9 L85.0 629.4 L83.7 625.9 L82.4 622.4 L81.2 618.9 L79.9 615.4 L78.6 611.9 L77.3 608.4 L76.0 604.9 L74.7 601.4 L73.4 597.9 L72.2 594.4 L70.9 590.8 L69.6 587.3 L68.3 583.8 L67.0 580.3 L65.7 576.8 L64.4 573.3 L63.2 569.8 L61.9 566.3 L60.6 562.8 L59.3 559.3 L-122.4 559.3Z" fill="#80f890"/>
<path d="M-122.4 839.7 L51.7 839.7 L52.9 836.2 L54.1 832.7 L55.4 829.2 L56.6 825.7 L57.8 822.2 L59.0 818.7 L60.2 815.2 L61.5 811.7 L62.7 808.2 L63.9 804.6 L65.1 801.1 L66.3 797.6 L67.6 794.1 L68.8 790.6 L70.0 787.1 L71.2 783.6 L72.4 780.1 L73.7 776.6 L74.9 773.1 L76.1 769.6 L77.3 766.1 L78.5 762.6 L79.7 759.1 L80.9 755.6 L82.2 752.1 L83.4 748.6 L84.6 745.1 L85.8 741.6 L87.0 738.1 L88.2 734.5 L89.4 731.0 L90.6 727.5 L91.8 724.0 L92.9 720.5 L94.1 717.0 L95.2 713.5 L96.3 710.0 L97.2 706.5 L97.9 703.0 L98.2 699.5 L97.9 696.0 L97.2 692.5 L96.3 689.0 L95.2 685.5 L94.1 682.0 L92.9 678.5 L91.8 675.0 L90.6 671.5 L89.4 668.0 L88.2 664.5 L87.0 660.9 L85.8 657.4 L84.6 653.9 L83.4 650.4 L82.2 646.9 L80.9 643.4 L79.7 639.9 L78.5 636.4 L77.3 632.9 L76.1 629.4 L74.9 625.9 L73.7 622.4 L72.4 618.9 L71.2 615.4 L70.0 611.9 L68.8 608.4 L67.6 604.9 L66.3 601.4 L65.1 597.9 L63.9 594.4 L62.7 590.8 L61.5 587.3 L60.2 583.8 L59.0 580.3 L57.8 576.8 L56.6 573.3 L55.4 569.8 L54.1 566.3 L52.9 562.8 L51.7 559.3 L-122.4 559.3Z" fill="#30e080"/>
<path d="M-122.4 839.7 L44.5 839.7 L45.7 836.2 L46.9 832.7 L48.0 829.2 L49.2 825.7 L50.3 822.2 L51.5 818.7 L52.7 815.2 L53.8 811.7 L55.0 808.2 L56.1 804.6 L57.3 801.1 L58.4 797.6 L59.6 794.1 L60.8 790.6 L61.9 787.1 L63.1 783.6 L64.2 780.1 L65.4 776.6 L66.5 773.1 L67.7 769.6 L68.8 766.1 L70.0 762.6 L71.2 759.1 L72.3 755.6 L73.5 752.1 L74.6 748.6 L75.8 745.1 L76.9 741.6 L78.0 738.1 L79.2 734.5 L80.3 731.0 L81.4 727.5 L82.6 724.0 L83.7 720.5 L84.8 717.0 L85.8 713.5 L86.8 710.0 L87.7 706.5 L88.4 703.0 L88.7 699.5 L88.4 696.0 L87.7 692.5 L86.8 689.0 L85.8 685.5 L84.8 682.0 L83.7 678.5 L82.6 675.0 L81.4 671.5 L80.3 668.0 L79.2 664.5 L78.0 660.9 L76.9 657.4 L75.8 653.9 L74.6 650.4 L73.5 646.9 L72.3 643.4 L71.2 639.9 L70.0 636.4 L68.8 632.9 L67.7 629.4 L66.5 625.9 L65.4 622.4 L64.2 618.9 L63.1 615.4 L61.9 611.9 L60.8 608.4 L59.6 604.9 L58.4 601.4 L57.3 597.9 L56.1 594.4 L55.0 590.8 L53.8 587.3 L52.7 583.8 L51.5 580.3 L50.3 576.8 L49.2 573.3 L48.0 569.8 L46.9 566.3 L45.7 562.8 L44.5 559.3 L-122.4 559.3Z" fill="#2050c8"/>
<path d="M-122.4 839.7 L37.7 839.7 L38.8 836.2 L39.9 832.7 L41.0 829.2 L42.1 825.7 L43.2 822.2 L44.3 818.7 L45.4 815.2 L46.5 811.7 L47.6 808.2 L48.7 804.6 L49.8 801.1 L50.8 797.6 L51.9 794.1 L53.0 790.6 L54.1 787.1 L55.2 783.6 L56.3 780.1 L57.4 776.6 L58.5 773.1 L59.6 769.6 L60.7 766.1 L61.8 762.6 L62.9 759.1 L64.0 755.6 L65.1 752.1 L66.2 748.6 L67.3 745.1 L68.4 741.6 L69.4 738.1 L70.5 734.5 L71.6 731.0 L72.7 727.5 L73.7 724.0 L74.8 720.5 L75.8 717.0 L76.8 713.5 L77.8 710.0 L78.6 706.5 L79.3 703.0 L79.6 699.5 L79.3 696.0 L78.6 692.5 L77.8 689.0 L76.8 685.5 L75.8 682.0 L74.8 678.5 L73.7 675.0 L72.7 671.5 L71.6 668.0 L70.5 664.5 L69.4 660.9 L68.4 657.4 L67.3 653.9 L66.2 650.4 L65.1 646.9 L64.0 643.4 L62.9 639.9 L61.8 636.4 L60.7 632.9 L59.6 629.4 L58.5 625.9 L57.4 622.4 L56.3 618.9 L55.2 615.4 L54.1 611.9 L53.0 608.4 L51.9 604.9 L50.8 601.4 L49.8 597.9 L48.7 594.4 L47.6 590.8 L46.5 587.3 L45.4 583.8 L44.3 580.3 L43.2 576.8 L42.1 573.3 L41.0 569.8 L39.9 566.3 L38.8 562.8 L37.7 559.3 L-122.4 559.3Z" fill="#e8c050"/>
<path d="M-122.4 839.7 L31.4 839.7 L32.4 836.2 L33.5 832.7 L34.5 829.2 L35.6 825.7 L36.6 822.2 L37.7 818.7 L38.8 815.2 L39.8 811.7 L40.9 808.2 L41.9 804.6 L43.0 801.1 L44.0 797.6 L45.1 794.1 L46.1 790.6 L47.2 787.1 L48.2 783.6 L49.3 780.1 L50.3 776.6 L51.4 773.1 L52.4 769.6 L53.5 766.1 L54.5 762.6 L55.6 759.1 L56.6 755.6 L57.7 752.1 L58.7 748.6 L59.8 745.1 L60.8 741.6 L61.9 738.1 L62.9 734.5 L63.9 731.0 L65.0 727.5 L66.0 724.0 L67.0 720.5 L68.0 717.0 L68.9 713.5 L69.9 710.0 L70.7 706.5 L71.3 703.0 L71.6 699.5 L71.3 696.0 L70.7 692.5 L69.9 689.0 L68.9 685.5 L68.0 682.0 L67.0 678.5 L66.0 675.0 L65.0 671.5 L63.9 668.0 L62.9 664.5 L61.9 660.9 L60.8 657.4 L59.8 653.9 L58.7 650.4 L57.7 646.9 L56.6 643.4 L55.6 639.9 L54.5 636.4 L53.5 632.9 L52.4 629.4 L51.4 625.9 L50.3 622.4 L49.3 618.9 L48.2 615.4 L47.2 611.9 L46.1 608.4 L45.1 604.9 L44.0 601.4 L43.0 597.9 L41.9 594.4 L40.9 590.8 L39.8 587.3 L38.8 583.8 L37.7 580.3 L36.6 576.8 L35.6 573.3 L34.5 569.8 L33.5 566.3 L32.4 562.8 L31.4 559.3 L-122.4 559.3Z" fill="#d82038"/>
<path d="M-122.4 839.7 L23.8 839.7 L24.8 836.2 L25.9 832.7 L26.9 829.2 L28.0 825.7 L29.0 822.2 L30.1 818.7 L31.1 815.2 L32.2 811.7 L33.2 808.2 L34.3 804.6 L35.4 801.1 L36.4 797.6 L37.5 794.1 L38.5 790.6 L39.6 787.1 L40.6 783.6 L41.7 780.1 L42.7 776.6 L43.8 773.1 L44.8 769.6 L45.9 766.1 L46.9 762.6 L48.0 759.1 L49.0 755.6 L50.1 752.1 L51.1 748.6 L52.2 745.1 L53.2 741.6 L54.2 738.1 L55.3 734.5 L56.3 731.0 L57.3 727.5 L58.4 724.0 L59.4 720.5 L60.4 717.0 L61.3 713.5 L62.2 710.0 L63.1 706.5 L63.7 703.0 L63.9 699.5 L63.7 696.0 L63.1 692.5 L62.2 689.0 L61.3 685.5 L60.4 682.0 L59.4 678.5 L58.4 675.0 L57.3 671.5 L56.3 668.0 L55.3 664.5 L54.2 660.9 L53.2 657.4 L52.2 653.9 L51.1 650.4 L50.1 646.9 L49.0 643.4 L48.0 639.9 L46.9 636.4 L45.9 632.9 L44.8 629.4 L43.8 625.9 L42.7 622.4 L41.7 618.9 L40.6 615.4 L39.6 611.9 L38.5 608.4 L37.5 604.9 L36.4 601.4 L35.4 597.9 L34.3 594.4 L33.2 590.8 L32.2 587.3 L31.1 583.8 L30.1 580.3 L29.0 576.8 L28.0 573.3 L26.9 569.8 L25.9 566.3 L24.8 562.8 L23.8 559.3 L-122.4 559.3Z" fill="#88f810"/>
<path d="M-122.4 839.7 L16.5 839.7 L17.6 836.2 L18.6 832.7 L19.7 829.2 L20.7 825.7 L21.8 822.2 L22.9 818.7 L23.9 815.2 L25.0 811.7 L26.0 808.2 L27.1 804.6 L28.1 801.1 L29.2 797.6 L30.2 794.1 L31.3 790.6 L32.3 787.1 L33.4 783.6 L34.4 780.1 L35.5 776.6 L36.5 773.1 L37.6 769.6 L38.6 766.1 L39.7 762.6 L40.7 759.1 L41.8 755.6 L42.8 752.1 L43.9 748.6 L44.9 745.1 L46.0 741.6 L47.0 738.1 L48.1 734.5 L49.1 731.0 L50.1 727.5 L51.1 724.0 L52.1 720.5 L53.1 717.0 L54.1 713.5 L55.0 710.0 L55.8 706.5 L56.5 703.0 L56.7 699.5 L56.5 696.0 L55.8 692.5 L55.0 689.0 L54.1 685.5 L53.1 682.0 L52.1 678.5 L51.1 675.0 L50.1 671.5 L49.1 668.0 L48.1 664.5 L47.0 660.9 L46.0 657.4 L44.9 653.9 L43.9 650.4 L42.8 646.9 L41.8 643.4 L40.7 639.9 L39.7 636.4 L38.6 632.9 L37.6 629.4 L36.5 625.9 L35.5 622.4 L34.4 618.9 L33.4 615.4 L32.3 611.9 L31.3 608.4 L30.2 604.9 L29.2 601.4 L28.1 597.9 L27.1 594.4 L26.0 590.8 L25.0 587.3 L23.9 583.8 L22.9 580.3 L21.8 576.8 L20.7 573.3 L19.7 569.8 L18.6 566.3 L17.6 562.8 L16.5 559.3 L-122.4 559.3Z" fill="#f020b8"/>
<path d="M-122.4 839.7 L10.9 839.7 L11.9 836.2 L13.0 832.7 L14.1 829.2 L15.1 825.7 L16.2 822.2 L17.2 818.7 L18.3 815.2 L19.3 811.7 L20.4 808.2 L21.4 804.6 L22.5 801.1 L23.5 797.6 L24.6 794.1 L25.6 790.6 L26.7 787.1 L27.8 783.6 L28.8 780.1 L29.9 776.6 L30.9 773.1 L32.0 769.6 L33.0 766.1 L34.1 762.6 L35.1 759.1 L36.2 755.6 L37.2 752.1 L38.2 748.6 L39.3 745.1 L40.3 741.6 L41.4 738.1 L42.4 734.5 L43.4 731.0 L44.5 727.5 L45.5 724.0 L46.5 720.5 L47.5 717.0 L48.5 713.5 L49.4 710.0 L50.2 706.5 L50.8 703.0 L51.1 699.5 L50.8 696.0 L50.2 692.5 L49.4 689.0 L48.5 685.5 L47.5 682.0 L46.5 678.5 L45.5 675.0 L44.5 671.5 L43.4 668.0 L42.4 664.5 L41.4 660.9 L40.3 657.4 L39.3 653.9 L38.2 650.4 L37.2 646.9 L36.2 643.4 L35.1 639.9 L34.1 636.4 L33.0 632.9 L32.0 629.4 L30.9 625.9 L29.9 622.4 L28.8 618.9 L27.8 615.4 L26.7 611.9 L25.6 608.4 L24.6 604.9 L23.5 601.4 L22.5 597.9 L21.4 594.4 L20.4 590.8 L19.3 587.3 L18.3 583.8 L17.2 580.3 L16.2 576.8 L15.1 573.3 L14.1 569.8 L13.0 566.3 L11.9 562.8 L10.9 559.3 L-122.4 559.3Z" fill="#c89810"/>
<path d="M-122.4 839.7 L5.6 839.7 L6.6 836.2 L7.7 832.7 L8.7 829.2 L9.8 825.7 L10.8 822.2 L11.9 818.7 L12.9 815.2 L14.0 811.7 L15.0 808.2 L16.1 804.6 L17.2 801.1 L18.2 797.6 L19.3 794.1 L20.3 790.6 L21.4 787.1 L22.4 783.6 L23.5 780.1 L24.5 776.6 L25.6 773.1 L26.6 769.6 L27.7 766.1 L28.7 762.6 L29.8 759.1 L30.8 755.6 L31.9 752.1 L32.9 748.6 L34.0 745.1 L35.0 741.6 L36.0 738.1 L37.1 734.5 L38.1 731.0 L39.1 727.5 L40.2 724.0 L41.2 720.5 L42.2 717.0 L43.1 713.5 L44.0 710.0 L44.9 706.5 L45.5 703.0 L45.7 699.5 L45.5 696.0 L44.9 692.5 L44.0 689.0 L43.1 685.5 L42.2 682.0 L41.2 678.5 L40.2 675.0 L39.1 671.5 L38.1 668.0 L37.1 664.5 L36.0 660.9 L35.0 657.4 L34.0 653.9 L32.9 650.4 L31.9 646.9 L30.8 643.4 L29.8 639.9 L28.7 636.4 L27.7 632.9 L26.6 629.4 L25.6 625.9 L24.5 622.4 L23.5 618.9 L22.4 615.4 L21.4 611.9 L20.3 608.4 L19.3 604.9 L18.2 601.4 L17.2 597.9 L16.1 594.4 L15.0 590.8 L14.0 587.3 L12.9 583.8 L11.9 580.3 L10.8 576.8 L9.8 573.3 L8.7 569.8 L7.7 566.3 L6.6 562.8 L5.6 559.3 L-122.4 559.3Z" fill="#c86828"/>
<path d="M-122.4 839.7 L1.1 839.7 L2.2 836.2 L3.2 832.7 L4.3 829.2 L5.3 825.7 L6.4 822.2 L7.4 818.7 L8.5 815.2 L9.5 811.7 L10.6 808.2 L11.6 804.6 L12.7 801.1 L13.8 797.6 L14.8 794.1 L15.9 790.6 L16.9 787.1 L18.0 783.6 L19.0 780.1 L20.1 776.6 L21.1 773.1 L22.2 769.6 L23.2 766.1 L24.3 762.6 L25.3 759.1 L26.4 755.6 L27.4 752.1 L28.5 748.6 L29.5 745.1 L30.6 741.6 L31.6 738.1 L32.7 734.5 L33.7 731.0 L34.7 727.5 L35.8 724.0 L36.8 720.5 L37.8 717.0 L38.8 713.5 L39.7 710.0 L40.6 706.5 L41.3 703.0 L41.6 699.5 L41.3 696.0 L40.6 692.5 L39.7 689.0 L38.8 685.5 L37.8 682.0 L36.8 678.5 L35.8 675.0 L34.7 671.5 L33.7 668.0 L32.7 664.5 L31.6 660.9 L30.6 657.4 L29.5 653.9 L28.5 650.4 L27.4 646.9 L26.4 643.4 L25.3 639.9 L24.3 636.4 L23.2 632.9 L22.2 629.4 L21.1 625.9 L20.1 622.4 L19.0 618.9 L18.0 615.4 L16.9 611.9 L15.9 608.4 L14.8 604.9 L13.8 601.4 L12.7 597.9 L11.6 594.4 L10.6 590.8 L9.5 587.3 L8.5 583.8 L7.4 580.3 L6.4 576.8 L5.3 573.3 L4.3 569.8 L3.2 566.3 L2.2 562.8 L1.1 559.3 L-122.4 559.3Z" fill="#500850"/>
<path d="M-122.4 839.7 L-2.8 839.7 L-1.7 836.2 L-0.7 832.7 L0.4 829.2 L1.4 825.7 L2.5 822.2 L3.5 818.7 L4.6 815.2 L5.7 811.7 L6.7 808.2 L7.8 804.6 L8.8 801.1 L9.9 797.6 L10.9 794.1 L12.0 790.6 L13.0 787.1 L14.1 783.6 L15.2 780.1 L16.2 776.6 L17.3 773.1 L18.3 769.6 L19.4 766.1 L20.4 762.6 L21.5 759.1 L22.5 755.6 L23.6 752.1 L24.6 748.6 L25.7 745.1 L26.7 741.6 L27.8 738.1 L28.8 734.5 L29.9 731.0 L30.9 727.5 L32.0 724.0 L33.0 720.5 L34.0 717.0 L35.0 713.5 L36.0 710.0 L37.0 706.5 L37.8 703.0 L38.1 699.5 L37.8 696.0 L37.0 692.5 L36.0 689.0 L35.0 685.5 L34.0 682.0 L33.0 678.5 L32.0 675.0 L30.9 671.5 L29.9 668.0 L28.8 664.5 L27.8 660.9 L26.7 657.4 L25.7 653.9 L24.6 650.4 L23.6 646.9 L22.5 643.4 L21.5 639.9 L20.4 636.4 L19.4 632.9 L18.3 629.4 L17.3 625.9 L16.2 622.4 L15.2 618.9 L14.1 615.4 L13.0 611.9 L12.0 608.4 L10.9 604.9 L9.9 601.4 L8.8 597.9 L7.8 594.4 L6.7 590.8 L5.7 587.3 L4.6 583.8 L3.5 580.3 L2.5 576.8 L1.4 573.3 L0.4 569.8 L-0.7 566.3 L-1.7 562.8 L-2.8 559.3 L-122.4 559.3Z" fill="#1870d0"/>
<path d="M-122.4 839.7 L-5.4 839.7 L-4.3 836.2 L-3.3 832.7 L-2.2 829.2 L-1.2 825.7 L-0.1 822.2 L1.0 818.7 L2.0 815.2 L3.1 811.7 L4.1 808.2 L5.2 804.6 L6.2 801.1 L7.3 797.6 L8.3 794.1 L9.4 790.6 L10.5 787.1 L11.5 783.6 L12.6 780.1 L13.6 776.6 L14.7 773.1 L15.7 769.6 L16.8 766.1 L17.8 762.6 L18.9 759.1 L19.9 755.6 L21.0 752.1 L22.1 748.6 L23.1 745.1 L24.2 741.6 L25.2 738.1 L26.3 734.5 L27.3 731.0 L28.4 727.5 L29.4 724.0 L30.5 720.5 L31.5 717.0 L32.5 713.5 L33.5 710.0 L34.5 706.5 L35.4 703.0 L35.8 699.5 L35.4 696.0 L34.5 692.5 L33.5 689.0 L32.5 685.5 L31.5 682.0 L30.5 678.5 L29.4 675.0 L28.4 671.5 L27.3 668.0 L26.3 664.5 L25.2 660.9 L24.2 657.4 L23.1 653.9 L22.1 650.4 L21.0 646.9 L19.9 643.4 L18.9 639.9 L17.8 636.4 L16.8 632.9 L15.7 629.4 L14.7 625.9 L13.6 622.4 L12.6 618.9 L11.5 615.4 L10.5 611.9 L9.4 608.4 L8.3 604.9 L7.3 601.4 L6.2 597.9 L5.2 594.4 L4.1 590.8 L3.1 587.3 L2.0 583.8 L1.0 580.3 L-0.1 576.8 L-1.2 573.3 L-2.2 569.8 L-3.3 566.3 L-4.3 562.8 L-5.4 559.3 L-122.4 559.3Z" fill="#f8f090"/>
<path d="M-122.4 839.7 L-9.3 839.7 L-8.2 836.2 L-7.2 832.7 L-6.1 829.2 L-5.0 825.7 L-4.0 822.2 L-2.9 818.7 L-1.9 815.2 L-0.8 811.7 L0.2 808.2 L1.3 804.6 L2.3 801.1 L3.4 797.6 L4.5 794.1 L5.5 790.6 L6.6 787.1 L7.6 783.6 L8.7 780.1 L9.7 776.6 L10.8 773.1 L11.8 769.6 L12.9 766.1 L14.0 762.6 L15.0 759.1 L16.1 755.6 L17.1 752.1 L18.2 748.6 L19.2 745.1 L20.3 741.6 L21.3 738.1 L22.4 734.5 L23.5 731.0 L24.5 727.5 L25.6 724.0 L26.6 720.5 L27.7 717.0 L28.7 713.5 L29.8 710.0 L30.8 706.5 L31.8 703.0 L32.4 699.5 L31.8 696.0 L30.8 692.5 L29.8 689.0 L28.7 685.5 L27.7 682.0 L26.6 678.5 L25.6 675.0 L24.5 671.5 L23.5 668.0 L22.4 664.5 L21.3 660.9 L20.3 657.4 L19.2 653.9 L18.2 650.4 L17.1 646.9 L16.1 643.4 L15.0 639.9 L14.0 636.4 L12.9 632.9 L11.8 629.4 L10.8 625.9 L9.7 622.4 L8.7 618.9 L7.6 615.4 L6.6 611.9 L5.5 608.4 L4.5 604.9 L3.4 601.4 L2.3 597.9 L1.3 594.4 L0.2 590.8 L-0.8 587.3 L-1.9 583.8 L-2.9 580.3 L-4.0 576.8 L-5.0 573.3 L-6.1 569.8 L-7.2 566.3 L-8.2 562.8 L-9.3 559.3 L-122.4 559.3Z" fill="#c010a0"/>
<g fill="none" stroke-width="1.56" stroke-dasharray="1.27 2.79" stroke-opacity="0.8">
<path d="M247.0 694.2 L168.1 694.2 L34.6 442.2" stroke="#bc0cf8"/>
<path d="M247.0 704.8 L168.1 704.8 L34.6 956.8" stroke="#bc0cf8"/>
<path d="M247.0 682.6 L176.9 682.6 L31.6 436.2" stroke="#d8f0a0"/>
<path d="M247.0 716.4 L176.9 716.4 L31.6 962.8" stroke="#40c8d0"/>
<path d="M247.0 670.9 L185.7 670.9 L40.4 424.5" stroke="#d8f0a0"/>
<path d="M247.0 728.1 L185.7 728.1 L40.4 974.5" stroke="#40c8d0"/>
<path d="M247.0 660.0 L194.9 658.8 L49.5 412.4" stroke="#30e888"/>
<path d="M247.0 739.0 L194.9 740.2 L49.5 986.6" stroke="#7028b8"/>
<path d="M247.0 650.5 L202.9 648.2 L57.5 401.7" stroke="#30e888"/>
<path d="M247.0 748.5 L202.9 750.8 L57.5 997.3" stroke="#7028b8"/>
<path d="M247.0 640.3 L211.4 636.8 L66.1 390.4" stroke="#e0a868"/>
<path d="M247.0 758.7 L211.4 762.2 L66.1 1008.6" stroke="#e8c088"/>
<path d="M247.0 630.1 L219.2 626.6 L73.8 380.2" stroke="#e0a868"/>
<path d="M247.0 768.9 L219.2 772.4 L73.8 1018.8" stroke="#e8c088"/>
<path d="M247.0 620.6 L226.3 617.1 L80.9 370.7" stroke="#d84820"/>
<path d="M247.0 778.4 L226.3 781.9 L80.9 1028.3" stroke="#80f8f0"/>
<path d="M247.0 611.2 L233.4 607.7 L88.1 361.2" stroke="#d84820"/>
<path d="M247.0 787.8 L233.4 791.3 L88.1 1037.8" stroke="#80f8f0"/>
<path d="M247.0 603.1 L239.5 599.6 L94.1 353.2" stroke="#e01878"/>
<path d="M247.0 795.9 L239.5 799.4 L94.1 1045.8" stroke="#e0e098"/>
<path d="M247.0 595.1 L245.5 591.6 L100.2 345.2" stroke="#e01878"/>
<path d="M247.0 803.9 L245.5 807.4 L100.2 1053.8" stroke="#e0e098"/>
<path d="M247.0 587.1 L251.6 583.6 L106.3 337.1" stroke="#30b050"/>
<path d="M247.0 811.9 L251.6 815.4 L106.3 1061.9" stroke="#10a030"/>
<path d="M247.0 582.0 L255.4 578.5 L110.1 332.1" stroke="#30b050"/>
<path d="M247.0 817.0 L255.4 820.5 L110.1 1066.9" stroke="#10a030"/>
<path d="M94.9 839.7 L96.5 836.2 L98.1 832.7 L99.7 829.2 L101.4 825.7 L103.0 822.2 L104.6 818.7 L106.2 815.2 L107.8 811.7 L109.4 808.2 L111.0 804.6 L112.6 801.1 L114.3 797.6 L115.9 794.1 L117.5 790.6 L119.1 787.1 L120.7 783.6 L122.3 780.1 L123.9 776.6 L125.5 773.1 L127.1 769.6 L128.8 766.1 L130.4 762.6 L132.0 759.1 L133.6 755.6 L135.2 752.1 L136.8 748.6 L138.4 745.1 L140.0 741.6 L141.6 738.1 L143.2 734.5 L144.7 731.0 L146.3 727.5 L147.9 724.0 L149.4 720.5 L150.9 717.0 L152.4 713.5 L153.8 710.0 L155.1 706.5 L156.0 703.0 L156.4 699.5 L156.0 696.0 L155.1 692.5 L153.8 689.0 L152.4 685.5 L150.9 682.0 L149.4 678.5 L147.9 675.0 L146.3 671.5 L144.7 668.0 L143.2 664.5 L141.6 660.9 L140.0 657.4 L138.4 653.9 L136.8 650.4 L135.2 646.9 L133.6 643.4 L132.0 639.9 L130.4 636.4 L128.8 632.9 L127.1 629.4 L125.5 625.9 L123.9 622.4 L122.3 618.9 L120.7 615.4 L119.1 611.9 L117.5 608.4 L115.9 604.9 L114.3 601.4 L112.6 597.9 L111.0 594.4 L109.4 590.8 L107.8 587.3 L106.2 583.8 L104.6 580.3 L103.0 576.8 L101.4 573.3 L99.7 569.8 L98.1 566.3 L96.5 562.8 L94.9 559.3" stroke="#6c3273"/>
<path d="M85.9 839.7 L87.4 836.2 L88.9 832.7 L90.5 829.2 L92.0 825.7 L93.5 822.2 L95.0 818.7 L96.6 815.2 L98.1 811.7 L99.6 808.2 L101.2 804.6 L102.7 801.1 L104.2 797.6 L105.7 794.1 L107.3 790.6 L108.8 787.1 L110.3 783.6 L111.8 780.1 L113.4 776.6 L114.9 773.1 L116.4 769.6 L117.9 766.1 L119.5 762.6 L121.0 759.1 L122.5 755.6 L124.0 752.1 L125.5 748.6 L127.1 745.1 L128.6 741.6 L130.1 738.1 L131.6 734.5 L133.1 731.0 L134.6 727.5 L136.1 724.0 L137.5 720.5 L139.0 717.0 L140.4 713.5 L141.7 710.0 L142.9 706.5 L143.8 703.0 L144.1 699.5 L143.8 696.0 L142.9 692.5 L141.7 689.0 L140.4 685.5 L139.0 682.0 L137.5 678.5 L136.1 675.0 L134.6 671.5 L133.1 668.0 L131.6 664.5 L130.1 660.9 L128.6 657.4 L127.1 653.9 L125.5 650.4 L124.0 646.9 L122.5 643.4 L121.0 639.9 L119.5 636.4 L117.9 632.9 L116.4 629.4 L114.9 625.9 L113.4 622.4 L111.8 618.9 L110.3 615.4 L108.8 611.9 L107.3 608.4 L105.7 604.9 L104.2 601.4 L102.7 597.9 L101.2 594.4 L99.6 590.8 L98.1 587.3 L96.6 583.8 L95.0 580.3 L93.5 576.8 L92.0 573.3 L90.5 569.8 L88.9 566.3 L87.4 562.8 L85.9 559.3" stroke="#5feb2d"/>
<path d="M76.9 839.7 L78.3 836.2 L79.8 832.7 L81.2 829.2 L82.6 825.7 L84.1 822.2 L85.5 818.7 L87.0 815.2 L88.4 811.7 L89.9 808.2 L91.3 804.6 L92.8 801.1 L94.2 797.6 L95.6 794.1 L97.1 790.6 L98.5 787.1 L100.0 783.6 L101.4 780.1 L102.9 776.6 L104.3 773.1 L105.7 769.6 L107.2 766.1 L108.6 762.6 L110.1 759.1 L111.5 755.6 L112.9 752.1 L114.4 748.6 L115.8 745.1 L117.2 741.6 L118.7 738.1 L120.1 734.5 L121.5 731.0 L122.9 727.5 L124.3 724.0 L125.7 720.5 L127.1 717.0 L128.4 713.5 L129.6 710.0 L130.8 706.5 L131.6 703.0 L132.0 699.5 L131.6 696.0 L130.8 692.5 L129.6 689.0 L128.4 685.5 L127.1 682.0 L125.7 678.5 L124.3 675.0 L122.9 671.5 L121.5 668.0 L120.1 664.5 L118.7 660.9 L117.2 657.4 L115.8 653.9 L114.4 650.4 L112.9 646.9 L111.5 643.4 L110.1 639.9 L108.6 636.4 L107.2 632.9 L105.7 629.4 L104.3 625.9 L102.9 622.4 L101.4 618.9 L100.0 615.4 L98.5 611.9 L97.1 608.4 L95.6 604.9 L94.2 601.4 L92.8 597.9 L91.3 594.4 L89.9 590.8 L88.4 587.3 L87.0 583.8 L85.5 580.3 L84.1 576.8 L82.6 573.3 L81.2 569.8 L79.8 566.3 L78.3 562.8 L76.9 559.3" stroke="#083090"/>
<path d="M68.2 839.7 L69.5 836.2 L70.9 832.7 L72.3 829.2 L73.6 825.7 L75.0 822.2 L76.4 818.7 L77.7 815.2 L79.1 811.7 L80.4 808.2 L81.8 804.6 L83.2 801.1 L84.5 797.6 L85.9 794.1 L87.3 790.6 L88.6 787.1 L90.0 783.6 L91.4 780.1 L92.7 776.6 L94.1 773.1 L95.5 769.6 L96.8 766.1 L98.2 762.6 L99.5 759.1 L100.9 755.6 L102.3 752.1 L103.6 748.6 L105.0 745.1 L106.3 741.6 L107.7 738.1 L109.0 734.5 L110.3 731.0 L111.7 727.5 L113.0 724.0 L114.3 720.5 L115.6 717.0 L116.8 713.5 L118.0 710.0 L119.1 706.5 L119.9 703.0 L120.2 699.5 L119.9 696.0 L119.1 692.5 L118.0 689.0 L116.8 685.5 L115.6 682.0 L114.3 678.5 L113.0 675.0 L111.7 671.5 L110.3 668.0 L109.0 664.5 L107.7 660.9 L106.3 657.4 L105.0 653.9 L103.6 650.4 L102.3 646.9 L100.9 643.4 L99.5 639.9 L98.2 636.4 L96.8 632.9 L95.5 629.4 L94.1 625.9 L92.7 622.4 L91.4 618.9 L90.0 615.4 L88.6 611.9 L87.3 608.4 L85.9 604.9 L84.5 601.4 L83.2 597.9 L81.8 594.4 L80.4 590.8 L79.1 587.3 L77.7 583.8 L76.4 580.3 L75.0 576.8 L73.6 573.3 L72.3 569.8 L70.9 566.3 L69.5 562.8 L68.2 559.3" stroke="#388870"/>
<path d="M59.3 839.7 L60.6 836.2 L61.9 832.7 L63.2 829.2 L64.4 825.7 L65.7 822.2 L67.0 818.7 L68.3 815.2 L69.6 811.7 L70.9 808.2 L72.2 804.6 L73.4 801.1 L74.7 797.6 L76.0 794.1 L77.3 790.6 L78.6 787.1 L79.9 783.6 L81.2 780.1 L82.4 776.6 L83.7 773.1 L85.0 769.6 L86.3 766.1 L87.6 762.6 L88.9 759.1 L90.1 755.6 L91.4 752.1 L92.7 748.6 L94.0 745.1 L95.2 741.6 L96.5 738.1 L97.8 734.5 L99.0 731.0 L100.3 727.5 L101.5 724.0 L102.8 720.5 L104.0 717.0 L105.2 713.5 L106.3 710.0 L107.3 706.5 L108.0 703.0 L108.3 699.5 L108.0 696.0 L107.3 692.5 L106.3 689.0 L105.2 685.5 L104.0 682.0 L102.8 678.5 L101.5 675.0 L100.3 671.5 L99.0 668.0 L97.8 664.5 L96.5 660.9 L95.2 657.4 L94.0 653.9 L92.7 650.4 L91.4 646.9 L90.1 643.4 L88.9 639.9 L87.6 636.4 L86.3 632.9 L85.0 629.4 L83.7 625.9 L82.4 622.4 L81.2 618.9 L79.9 615.4 L78.6 611.9 L77.3 608.4 L76.0 604.9 L74.7 601.4 L73.4 597.9 L72.2 594.4 L70.9 590.8 L69.6 587.3 L68.3 583.8 L67.0 580.3 L65.7 576.8 L64.4 573.3 L63.2 569.8 L61.9 566.3 L60.6 562.8 L59.3 559.3" stroke="#80f890"/>
<path d="M51.7 839.7 L52.9 836.2 L54.1 832.7 L55.4 829.2 L56.6 825.7 L57.8 822.2 L59.0 818.7 L60.2 815.2 L61.5 811.7 L62.7 808.2 L63.9 804.6 L65.1 801.1 L66.3 797.6 L67.6 794.1 L68.8 790.6 L70.0 787.1 L71.2 783.6 L72.4 780.1 L73.7 776.6 L74.9 773.1 L76.1 769.6 L77.3 766.1 L78.5 762.6 L79.7 759.1 L80.9 755.6 L82.2 752.1 L83.4 748.6 L84.6 745.1 L85.8 741.6 L87.0 738.1 L88.2 734.5 L89.4 731.0 L90.6 727.5 L91.8 724.0 L92.9 720.5 L94.1 717.0 L95.2 713.5 L96.3 710.0 L97.2 706.5 L97.9 703.0 L98.2 699.5 L97.9 696.0 L97.2 692.5 L96.3 689.0 L95.2 685.5 L94.1 682.0 L92.9 678.5 L91.8 675.0 L90.6 671.5 L89.4 668.0 L88.2 664.5 L87.0 660.9 L85.8 657.4 L84.6 653.9 L83.4 650.4 L82.2 646.9 L80.9 643.4 L79.7 639.9 L78.5 636.4 L77.3 632.9 L76.1 629.4 L74.9 625.9 L73.7 622.4 L72.4 618.9 L71.2 615.4 L70.0 611.9 L68.8 608.4 L67.6 604.9 L66.3 601.4 L65.1 597.9 L63.9 594.4 L62.7 590.8 L61.5 587.3 L60.2 583.8 L59.0 580.3 L57.8 576.8 L56.6 573.3 L55.4 569.8 L54.1 566.3 L52.9 562.8 L51.7 559.3" stroke="#30e080"/>
<path d="M44.5 839.7 L45.7 836.2 L46.9 832.7 L48.0 829.2 L49.2 825.7 L50.3 822.2 L51.5 818.7 L52.7 815.2 L53.8 811.7 L55.0 808.2 L56.1 804.6 L57.3 801.1 L58.4 797.6 L59.6 794.1 L60.8 790.6 L61.9 787.1 L63.1 783.6 L64.2 780.1 L65.4 776.6 L66.5 773.1 L67.7 769.6 L68.8 766.1 L70.0 762.6 L71.2 759.1 L72.3 755.6 L73.5 752.1 L74.6 748.6 L75.8 745.1 L76.9 741.6 L78.0 738.1 L79.2 734.5 L80.3 731.0 L81.4 727.5 L82.6 724.0 L83.7 720.5 L84.8 717.0 L85.8 713.5 L86.8 710.0 L87.7 706.5 L88.4 703.0 L88.7 699.5 L88.4 696.0 L87.7 692.5 L86.8 689.0 L85.8 685.5 L84.8 682.0 L83.7 678.5 L82.6 675.0 L81.4 671.5 L80.3 668.0 L79.2 664.5 L78.0 660.9 L76.9 657.4 L75.8 653.9 L74.6 650.4 L73.5 646.9 L72.3 643.4 L71.2 639.9 L70.0 636.4 L68.8 632.9 L67.7 629.4 L66.5 625.9 L65.4 622.4 L64.2 618.9 L63.1 615.4 L61.9 611.9 L60.8 608.4 L59.6 604.9 L58.4 601.4 L57.3 597.9 L56.1 594.4 L55.0 590.8 L53.8 587.3 L52.7 583.8 L51.5 580.3 L50.3 576.8 L49.2 573.3 L48.0 569.8 L46.9 566.3 L45.7 562.8 L44.5 559.3" stroke="#2050c8"/>
<path d="M37.7 839.7 L38.8 836.2 L39.9 832.7 L41.0 829.2 L42.1 825.7 L43.2 822.2 L44.3 818.7 L45.4 815.2 L46.5 811.7 L47.6 808.2 L48.7 804.6 L49.8 801.1 L50.8 797.6 L51.9 794.1 L53.0 790.6 L54.1 787.1 L55.2 783.6 L56.3 780.1 L57.4 776.6 L58.5 773.1 L59.6 769.6 L60.7 766.1 L61.8 762.6 L62.9 759.1 L64.0 755.6 L65.1 752.1 L66.2 748.6 L67.3 745.1 L68.4 741.6 L69.4 738.1 L70.5 734.5 L71.6 731.0 L72.7 727.5 L73.7 724.0 L74.8 720.5 L75.8 717.0 L76.8 713.5 L77.8 710.0 L78.6 706.5 L79.3 703.0 L79.6 699.5 L79.3 696.0 L78.6 692.5 L77.8 689.0 L76.8 685.5 L75.8 682.0 L74.8 678.5 L73.7 675.0 L72.7 671.5 L71.6 668.0 L70.5 664.5 L69.4 660.9 L68.4 657.4 L67.3 653.9 L66.2 650.4 L65.1 646.9 L64.0 643.4 L62.9 639.9 L61.8 636.4 L60.7 632.9 L59.6 629.4 L58.5 625.9 L57.4 622.4 L56.3 618.9 L55.2 615.4 L54.1 611.9 L53.0 608.4 L51.9 604.9 L50.8 601.4 L49.8 597.9 L48.7 594.4 L47.6 590.8 L46.5 587.3 L45.4 583.8 L44.3 580.3 L43.2 576.8 L42.1 573.3 L41.0 569.8 L39.9 566.3 L38.8 562.8 L37.7 559.3" stroke="#e8c050"/>
<path d="M31.4 839.7 L32.4 836.2 L33.5 832.7 L34.5 829.2 L35.6 825.7 L36.6 822.2 L37.7 818.7 L38.8 815.2 L39.8 811.7 L40.9 808.2 L41.9 804.6 L43.0 801.1 L44.0 797.6 L45.1 794.1 L46.1 790.6 L47.2 787.1 L48.2 783.6 L49.3 780.1 L50.3 776.6 L51.4 773.1 L52.4 769.6 L53.5 766.1 L54.5 762.6 L55.6 759.1 L56.6 755.6 L57.7 752.1 L58.7 748.6 L59.8 745.1 L60.8 741.6 L61.9 738.1 L62.9 734.5 L63.9 731.0 L65.0 727.5 L66.0 724.0 L67.0 720.5 L68.0 717.0 L68.9 713.5 L69.9 710.0 L70.7 706.5 L71.3 703.0 L71.6 699.5 L71.3 696.0 L70.7 692.5 L69.9 689.0 L68.9 685.5 L68.0 682.0 L67.0 678.5 L66.0 675.0 L65.0 671.5 L63.9 668.0 L62.9 664.5 L61.9 660.9 L60.8 657.4 L59.8 653.9 L58.7 650.4 L57.7 646.9 L56.6 643.4 L55.6 639.9 L54.5 636.4 L53.5 632.9 L52.4 629.4 L51.4 625.9 L50.3 622.4 L49.3 618.9 L48.2 615.4 L47.2 611.9 L46.1 608.4 L45.1 604.9 L44.0 601.4 L43.0 597.9 L41.9 594.4 L40.9 590.8 L39.8 587.3 L38.8 583.8 L37.7 580.3 L36.6 576.8 L35.6 573.3 L34.5 569.8 L33.5 566.3 L32.4 562.8 L31.4 559.3" stroke="#d82038"/>
<path d="M23.8 839.7 L24.8 836.2 L25.9 832.7 L26.9 829.2 L28.0 825.7 L29.0 822.2 L30.1 818.7 L31.1 815.2 L32.2 811.7 L33.2 808.2 L34.3 804.6 L35.4 801.1 L36.4 797.6 L37.5 794.1 L38.5 790.6 L39.6 787.1 L40.6 783.6 L41.7 780.1 L42.7 776.6 L43.8 773.1 L44.8 769.6 L45.9 766.1 L46.9 762.6 L48.0 759.1 L49.0 755.6 L50.1 752.1 L51.1 748.6 L52.2 745.1 L53.2 741.6 L54.2 738.1 L55.3 734.5 L56.3 731.0 L57.3 727.5 L58.4 724.0 L59.4 720.5 L60.4 717.0 L61.3 713.5 L62.2 710.0 L63.1 706.5 L63.7 703.0 L63.9 699.5 L63.7 696.0 L63.1 692.5 L62.2 689.0 L61.3 685.5 L60.4 682.0 L59.4 678.5 L58.4 675.0 L57.3 671.5 L56.3 668.0 L55.3 664.5 L54.2 660.9 L53.2 657.4 L52.2 653.9 L51.1 650.4 L50.1 646.9 L49.0 643.4 L48.0 639.9 L46.9 636.4 L45.9 632.9 L44.8 629.4 L43.8 625.9 L42.7 622.4 L41.7 618.9 L40.6 615.4 L39.6 611.9 L38.5 608.4 L37.5 604.9 L36.4 601.4 L35.4 597.9 L34.3 594.4 L33.2 590.8 L32.2 587.3 L31.1 583.8 L30.1 580.3 L29.0 576.8 L28.0 573.3 L26.9 569.8 L25.9 566.3 L24.8 562.8 L23.8 559.3" stroke="#88f810"/>
<path d="M16.5 839.7 L17.6 836.2 L18.6 832.7 L19.7 829.2 L20.7 825.7 L21.8 822.2 L22.9 818.7 L23.9 815.2 L25.0 811.7 L26.0 808.2 L27.1 804.6 L28.1 801.1 L29.2 797.6 L30.2 794.1 L31.3 790.6 L32.3 787.1 L33.4 783.6 L34.4 780.1 L35.5 776.6 L36.5 773.1 L37.6 769.6 L38.6 766.1 L39.7 762.6 L40.7 759.1 L41.8 755.6 L42.8 752.1 L43.9 748.6 L44.9 745.1 L46.0 741.6 L47.0 738.1 L48.1 734.5 L49.1 731.0 L50.1 727.5 L51.1 724.0 L52.1 720.5 L53.1 717.0 L54.1 713.5 L55.0 710.0 L55.8 706.5 L56.5 703.0 L56.7 699.5 L56.5 696.0 L55.8 692.5 L55.0 689.0 L54.1 685.5 L53.1 682.0 L52.1 678.5 L51.1 675.0 L50.1 671.5 L49.1 668.0 L48.1 664.5 L47.0 660.9 L46.0 657.4 L44.9 653.9 L43.9 650.4 L42.8 646.9 L41.8 643.4 L40.7 639.9 L39.7 636.4 L38.6 632.9 L37.6 629.4 L36.5 625.9 L35.5 622.4 L34.4 618.9 L33.4 615.4 L32.3 611.9 L31.3 608.4 L30.2 604.9 L29.2 601.4 L28.1 597.9 L27.1 594.4 L26.0 590.8 L25.0 587.3 L23.9 583.8 L22.9 580.3 L21.8 576.8 L20.7 573.3 L19.7 569.8 L18.6 566.3 L17.6 562.8 L16.5 559.3" stroke="#f020b8"/>
<path d="M10.9 839.7 L11.9 836.2 L13.0 832.7 L14.1 829.2 L15.1 825.7 L16.2 822.2 L17.2 818.7 L18.3 815.2 L19.3 811.7 L20.4 808.2 L21.4 804.6 L22.5 801.1 L23.5 797.6 L24.6 794.1 L25.6 790.6 L26.7 787.1 L27.8 783.6 L28.8 780.1 L29.9 776.6 L30.9 773.1 L32.0 769.6 L33.0 766.1 L34.1 762.6 L35.1 759.1 L36.2 755.6 L37.2 752.1 L38.2 748.6 L39.3 745.1 L40.3 741.6 L41.4 738.1 L42.4 734.5 L43.4 731.0 L44.5 727.5 L45.5 724.0 L46.5 720.5 L47.5 717.0 L48.5 713.5 L49.4 710.0 L50.2 706.5 L50.8 703.0 L51.1 699.5 L50.8 696.0 L50.2 692.5 L49.4 689.0 L48.5 685.5 L47.5 682.0 L46.5 678.5 L45.5 675.0 L44.5 671.5 L43.4 668.0 L42.4 664.5 L41.4 660.9 L40.3 657.4 L39.3 653.9 L38.2 650.4 L37.2 646.9 L36.2 643.4 L35.1 639.9 L34.1 636.4 L33.0 632.9 L32.0 629.4 L30.9 625.9 L29.9 622.4 L28.8 618.9 L27.8 615.4 L26.7 611.9 L25.6 608.4 L24.6 604.9 L23.5 601.4 L22.5 597.9 L21.4 594.4 L20.4 590.8 L19.3 587.3 L18.3 583.8 L17.2 580.3 L16.2 576.8 L15.1 573.3 L14.1 569.8 L13.0 566.3 L11.9 562.8 L10.9 559.3" stroke="#c89810"/>
<path d="M5.6 839.7 L6.6 836.2 L7.7 832.7 L8.7 829.2 L9.8 825.7 L10.8 822.2 L11.9 818.7 L12.9 815.2 L14.0 811.7 L15.0 808.2 L16.1 804.6 L17.2 801.1 L18.2 797.6 L19.3 794.1 L20.3 790.6 L21.4 787.1 L22.4 783.6 L23.5 780.1 L24.5 776.6 L25.6 773.1 L26.6 769.6 L27.7 766.1 L28.7 762.6 L29.8 759.1 L30.8 755.6 L31.9 752.1 L32.9 748.6 L34.0 745.1 L35.0 741.6 L36.0 738.1 L37.1 734.5 L38.1 731.0 L39.1 727.5 L40.2 724.0 L41.2 720.5 L42.2 717.0 L43.1 713.5 L44.0 710.0 L44.9 706.5 L45.5 703.0 L45.7 699.5 L45.5 696.0 L44.9 692.5 L44.0 689.0 L43.1 685.5 L42.2 682.0 L41.2 678.5 L40.2 675.0 L39.1 671.5 L38.1 668.0 L37.1 664.5 L36.0 660.9 L35.0 657.4 L34.0 653.9 L32.9 650.4 L31.9 646.9 L30.8 643.4 L29.8 639.9 L28.7 636.4 L27.7 632.9 L26.6 629.4 L25.6 625.9 L24.5 622.4 L23.5 618.9 L22.4 615.4 L21.4 611.9 L20.3 608.4 L19.3 604.9 L18.2 601.4 L17.2 597.9 L16.1 594.4 L15.0 590.8 L14.0 587.3 L12.9 583.8 L11.9 580.3 L10.8 576.8 L9.8 573.3 L8.7 569.8 L7.7 566.3 L6.6 562.8 L5.6 559.3" stroke="#c86828"/>
<path d="M1.1 839.7 L2.2 836.2 L3.2 832.7 L4.3 829.2 L5.3 825.7 L6.4 822.2 L7.4 818.7 L8.5 815.2 L9.5 811.7 L10.6 808.2 L11.6 804.6 L12.7 801.1 L13.8 797.6 L14.8 794.1 L15.9 790.6 L16.9 787.1 L18.0 783.6 L19.0 780.1 L20.1 776.6 L21.1 773.1 L22.2 769.6 L23.2 766.1 L24.3 762.6 L25.3 759.1 L26.4 755.6 L27.4 752.1 L28.5 748.6 L29.5 745.1 L30.6 741.6 L31.6 738.1 L32.7 734.5 L33.7 731.0 L34.7 727.5 L35.8 724.0 L36.8 720.5 L37.8 717.0 L38.8 713.5 L39.7 710.0 L40.6 706.5 L41.3 703.0 L41.6 699.5 L41.3 696.0 L40.6 692.5 L39.7 689.0 L38.8 685.5 L37.8 682.0 L36.8 678.5 L35.8 675.0 L34.7 671.5 L33.7 668.0 L32.7 664.5 L31.6 660.9 L30.6 657.4 L29.5 653.9 L28.5 650.4 L27.4 646.9 L26.4 643.4 L25.3 639.9 L24.3 636.4 L23.2 632.9 L22.2 629.4 L21.1 625.9 L20.1 622.4 L19.0 618.9 L18.0 615.4 L16.9 611.9 L15.9 608.4 L14.8 604.9 L13.8 601.4 L12.7 597.9 L11.6 594.4 L10.6 590.8 L9.5 587.3 L8.5 583.8 L7.4 580.3 L6.4 576.8 L5.3 573.3 L4.3 569.8 L3.2 566.3 L2.2 562.8 L1.1 559.3" stroke="#500850"/>
<path d="M-2.8 839.7 L-1.7 836.2 L-0.7 832.7 L0.4 829.2 L1.4 825.7 L2.5 822.2 L3.5 818.7 L4.6 815.2 L5.7 811.7 L6.7 808.2 L7.8 804.6 L8.8 801.1 L9.9 797.6 L10.9 794.1 L12.0 790.6 L13.0 787.1 L14.1 783.6 L15.2 780.1 L16.2 776.6 L17.3 773.1 L18.3 769.6 L19.4 766.1 L20.4 762.6 L21.5 759.1 L22.5 755.6 L23.6 752.1 L24.6 748.6 L25.7 745.1 L26.7 741.6 L27.8 738.1 L28.8 734.5 L29.9 731.0 L30.9 727.5 L32.0 724.0 L33.0 720.5 L34.0 717.0 L35.0 713.5 L36.0 710.0 L37.0 706.5 L37.8 703.0 L38.1 699.5 L37.8 696.0 L37.0 692.5 L36.0 689.0 L35.0 685.5 L34.0 682.0 L33.0 678.5 L32.0 675.0 L30.9 671.5 L29.9 668.0 L28.8 664.5 L27.8 660.9 L26.7 657.4 L25.7 653.9 L24.6 650.4 L23.6 646.9 L22.5 643.4 L21.5 639.9 L20.4 636.4 L19.4 632.9 L18.3 629.4 L17.3 625.9 L16.2 622.4 L15.2 618.9 L14.1 615.4 L13.0 611.9 L12.0 608.4 L10.9 604.9 L9.9 601.4 L8.8 597.9 L7.8 594.4 L6.7 590.8 L5.7 587.3 L4.6 583.8 L3.5 580.3 L2.5 576.8 L1.4 573.3 L0.4 569.8 L-0.7 566.3 L-1.7 562.8 L-2.8 559.3" stroke="#1870d0"/>
<path d="M-5.4 839.7 L-4.3 836.2 L-3.3 832.7 L-2.2 829.2 L-1.2 825.7 L-0.1 822.2 L1.0 818.7 L2.0 815.2 L3.1 811.7 L4.1 808.2 L5.2 804.6 L6.2 801.1 L7.3 797.6 L8.3 794.1 L9.4 790.6 L10.5 787.1 L11.5 783.6 L12.6 780.1 L13.6 776.6 L14.7 773.1 L15.7 769.6 L16.8 766.1 L17.8 762.6 L18.9 759.1 L19.9 755.6 L21.0 752.1 L22.1 748.6 L23.1 745.1 L24.2 741.6 L25.2 738.1 L26.3 734.5 L27.3 731.0 L28.4 727.5 L29.4 724.0 L30.5 720.5 L31.5 717.0 L32.5 713.5 L33.5 710.0 L34.5 706.5 L35.4 703.0 L35.8 699.5 L35.4 696.0 L34.5 692.5 L33.5 689.0 L32.5 685.5 L31.5 682.0 L30.5 678.5 L29.4 675.0 L28.4 671.5 L27.3 668.0 L26.3 664.5 L25.2 660.9 L24.2 657.4 L23.1 653.9 L22.1 650.4 L21.0 646.9 L19.9 643.4 L18.9 639.9 L17.8 636.4 L16.8 632.9 L15.7 629.4 L14.7 625.9 L13.6 622.4 L12.6 618.9 L11.5 615.4 L10.5 611.9 L9.4 608.4 L8.3 604.9 L7.3 601.4 L6.2 597.9 L5.2 594.4 L4.1 590.8 L3.1 587.3 L2.0 583.8 L1.0 580.3 L-0.1 576.8 L-1.2 573.3 L-2.2 569.8 L-3.3 566.3 L-4.3 562.8 L-5.4 559.3" stroke="#f8f090"/>
<path d="M-9.3 839.7 L-8.2 836.2 L-7.2 832.7 L-6.1 829.2 L-5.0 825.7 L-4.0 822.2 L-2.9 818.7 L-1.9 815.2 L-0.8 811.7 L0.2 808.2 L1.3 804.6 L2.3 801.1 L3.4 797.6 L4.5 794.1 L5.5 790.6 L6.6 787.1 L7.6 783.6 L8.7 780.1 L9.7 776.6 L10.8 773.1 L11.8 769.6 L12.9 766.1 L14.0 762.6 L15.0 759.1 L16.1 755.6 L17.1 752.1 L18.2 748.6 L19.2 745.1 L20.3 741.6 L21.3 738.1 L22.4 734.5 L23.5 731.0 L24.5 727.5 L25.6 724.0 L26.6 720.5 L27.7 717.0 L28.7 713.5 L29.8 710.0 L30.8 706.5 L31.8 703.0 L32.4 699.5 L31.8 696.0 L30.8 692.5 L29.8 689.0 L28.7 685.5 L27.7 682.0 L26.6 678.5 L25.6 675.0 L24.5 671.5 L23.5 668.0 L22.4 664.5 L21.3 660.9 L20.3 657.4 L19.2 653.9 L18.2 650.4 L17.1 646.9 L16.1 643.4 L15.0 639.9 L14.0 636.4 L12.9 632.9 L11.8 629.4 L10.8 625.9 L9.7 622.4 L8.7 618.9 L7.6 615.4 L6.6 611.9 L5.5 608.4 L4.5 604.9 L3.4 601.4 L2.3 597.9 L1.3 594.4 L0.2 590.8 L-0.8 587.3 L-1.9 583.8 L-2.9 580.3 L-4.0 576.8 L-5.0 573.3 L-6.1 569.8 L-7.2 566.3 L-8.2 562.8 L-9.3 559.3" stroke="#c010a0"/>
</g>
</g></g>
<g fill="#4b4b4b">
<ellipse cx="256.1" cy="625.7" rx="1.7" ry="3.5" transform="rotate(-44 256.1 625.7)"/>
<ellipse cx="259.5" cy="598.7" rx="1.0" ry="2.3" transform="rotate(-32 259.5 598.7)"/>
<ellipse cx="265.5" cy="591.8" rx="1.6" ry="1.7" transform="rotate(-27 265.5 591.8)"/>
<ellipse cx="260.8" cy="580.9" rx="1.7" ry="4.1" transform="rotate(-21 260.8 580.9)"/>
<ellipse cx="266.6" cy="595.6" rx="1.3" ry="3.0" transform="rotate(-43 266.6 595.6)"/>
<ellipse cx="254.0" cy="621.7" rx="2.3" ry="3.4" transform="rotate(-32 254.0 621.7)"/>
<ellipse cx="254.6" cy="617.1" rx="1.6" ry="2.8" transform="rotate(-29 254.6 617.1)"/>
<ellipse cx="266.8" cy="584.2" rx="1.5" ry="3.1" transform="rotate(-27 266.8 584.2)"/>
<ellipse cx="256.1" cy="603.1" rx="2.1" ry="2.5" transform="rotate(-31 256.1 603.1)"/>
<ellipse cx="260.6" cy="589.8" rx="2.6" ry="2.0" transform="rotate(-39 260.6 589.8)"/>
<ellipse cx="256.8" cy="604.8" rx="2.1" ry="3.0" transform="rotate(-30 256.8 604.8)"/>
<ellipse cx="246.9" cy="632.6" rx="2.2" ry="3.0" transform="rotate(-37 246.9 632.6)"/>
<ellipse cx="266.9" cy="578.8" rx="1.0" ry="2.4" transform="rotate(-35 266.9 578.8)"/>
<rect x="260.6" y="615.4" width="2.0" height="2.1"/>
<rect x="263.3" y="601.1" width="1.0" height="1.3"/>
<rect x="261.5" y="601.8" width="1.5" height="1.1"/>
<rect x="253.3" y="608.8" width="1.3" height="1.1"/>
<rect x="256.0" y="604.1" width="1.8" height="2.0"/>
<rect x="257.8" y="597.9" width="1.8" height="2.2"/>
<rect x="265.0" y="590.5" width="2.0" height="0.9"/>
<rect x="260.5" y="580.1" width="1.5" height="2.0"/>
<rect x="256.0" y="588.3" width="1.7" height="1.0"/>
<rect x="260.9" y="607.7" width="1.4" height="1.8"/>
<rect x="266.1" y="587.8" width="1.8" height="0.9"/>
<rect x="256.8" y="603.9" width="1.0" height="1.7"/>
<rect x="264.6" y="593.9" width="2.0" height="1.1"/>
<rect x="256.6" y="616.2" width="1.0" height="1.2"/>
<rect x="254.1" y="595.1" width="1.8" height="2.1"/>
<rect x="250.5" y="632.8" width="1.9" height="2.3"/>
<rect x="249.6" y="612.7" width="2.0" height="2.2"/>
<rect x="252.5" y="618.1" width="1.8" height="2.1"/>
<rect x="255.1" y="620.5" width="1.9" height="1.7"/>
<rect x="246.6" y="620.6" width="1.2" height="2.1"/>
<rect x="244.8" y="632.1" width="1.3" height="1.0"/>
<rect x="246.1" y="621.9" width="1.5" height="1.9"/>
<rect x="251.6" y="603.5" width="1.3" height="1.7"/>
<rect x="270.6" y="577.7" width="1.2" height="0.9"/>
<rect x="268.8" y="582.3" width="1.4" height="2.0"/>
<rect x="264.6" y="581.1" width="1.9" height="0.9"/>
<rect x="251.6" y="612.9" width="1.0" height="2.2"/>
<rect x="252.5" y="633.6" width="1.0" height="1.4"/>
<rect x="252.1" y="604.1" width="1.5" height="1.7"/>
<rect x="259.2" y="610.5" width="1.1" height="1.2"/>
<rect x="254.3" y="607.6" width="1.1" height="2.2"/>
<rect x="257.4" y="582.8" width="1.3" height="1.2"/>
<rect x="254.1" y="601.9" width="1.5" height="2.2"/>
<rect x="258.7" y="606.0" width="1.6" height="2.0"/>
<rect x="253.7" y="629.9" width="2.0" height="1.8"/>
<rect x="257.4" y="612.0" width="1.8" height="1.8"/>
<rect x="258.8" y="622.3" width="2.0" height="1.5"/>
<rect x="252.3" y="594.1" width="2.1" height="2.1"/>
<rect x="264.4" y="592.2" width="1.1" height="1.3"/>
<rect x="255.9" y="614.6" width="1.0" height="2.2"/>
<rect x="257.1" y="601.4" width="1.0" height="1.9"/>
<rect x="264.7" y="582.9" width="1.2" height="2.0"/>
<rect x="257.0" y="622.5" width="1.6" height="1.3"/>
<rect x="260.6" y="598.4" width="1.2" height="2.1"/>
<rect x="262.9" y="604.2" width="1.9" height="1.0"/>
<rect x="257.3" y="591.6" width="1.8" height="1.7"/>
<rect x="264.0" y="601.8" width="1.0" height="1.7"/>
<rect x="248.4" y="609.5" width="1.8" height="1.7"/>
<rect x="265.1" y="579.1" width="1.3" height="2.3"/>
<rect x="246.0" y="624.9" width="1.8" height="1.4"/>
<rect x="262.0" y="607.2" width="1.3" height="2.2"/>
<rect x="258.0" y="591.9" width="1.0" height="1.2"/>
<rect x="263.6" y="576.2" width="1.1" height="1.3"/>
<rect x="259.2" y="579.5" width="1.8" height="1.1"/>
<rect x="265.1" y="576.1" width="0.9" height="2.2"/>
<rect x="259.6" y="608.0" width="1.5" height="1.0"/>
<rect x="247.5" y="626.0" width="1.1" height="1.0"/>
<rect x="256.3" y="631.5" width="1.0" height="1.6"/>
<rect x="248.1" y="624.3" width="1.8" height="2.3"/>
<rect x="249.9" y="601.4" width="2.1" height="1.0"/>
<rect x="256.9" y="605.5" width="2.0" height="2.1"/>
<rect x="258.1" y="593.2" width="1.9" height="2.2"/>
<rect x="266.6" y="580.7" width="1.0" height="1.3"/>
<rect x="257.9" y="600.4" width="1.9" height="1.2"/>
<rect x="258.5" y="590.9" width="1.8" height="1.2"/>
<rect x="252.0" y="600.4" width="1.1" height="2.3"/>
<rect x="261.3" y="610.6" width="1.5" height="0.9"/>
<rect x="255.7" y="584.6" width="1.9" height="0.9"/>
<rect x="255.8" y="589.8" width="1.3" height="2.3"/>
<rect x="260.4" y="600.5" width="1.8" height="1.0"/>
<rect x="268.9" y="582.0" width="1.1" height="1.7"/>
<rect x="258.8" y="612.4" width="0.9" height="1.6"/>
<rect x="266.0" y="584.0" width="1.0" height="2.1"/>
<rect x="258.7" y="615.8" width="1.5" height="1.1"/>
<rect x="266.0" y="586.8" width="1.7" height="2.3"/>
<rect x="250.7" y="614.2" width="1.1" height="1.7"/>
<rect x="254.5" y="605.3" width="1.4" height="1.3"/>
<rect x="249.3" y="637.7" width="1.2" height="1.5"/>
<rect x="260.0" y="577.8" width="1.7" height="1.8"/>
<rect x="254.1" y="612.7" width="2.1" height="1.4"/>
<rect x="266.4" y="587.9" width="1.3" height="2.3"/>
<rect x="260.0" y="592.7" width="1.8" height="1.5"/>
<rect x="257.6" y="588.2" width="2.0" height="1.7"/>
<rect x="253.0" y="615.0" width="2.0" height="2.1"/>
<rect x="255.8" y="599.9" width="1.3" height="2.3"/>
<rect x="256.9" y="625.4" width="1.9" height="1.2"/>
<rect x="256.8" y="607.9" width="1.9" height="2.3"/>
<rect x="262.3" y="575.0" width="1.1" height="1.6"/>
<rect x="261.8" y="596.2" width="1.0" height="1.8"/>
<rect x="269.1" y="577.9" width="2.0" height="2.2"/>
<rect x="258.6" y="576.6" width="2.0" height="1.3"/>
<rect x="254.6" y="609.9" width="2.0" height="1.8"/>
<rect x="253.8" y="607.8" width="2.0" height="2.1"/>
<rect x="249.1" y="623.2" width="1.3" height="1.2"/>
<rect x="254.9" y="595.6" width="1.6" height="2.3"/>
<ellipse cx="258.4" cy="815.3" rx="1.3" ry="2.7" transform="rotate(36 258.4 815.3)"/>
<ellipse cx="253.8" cy="792.3" rx="1.5" ry="2.1" transform="rotate(42 253.8 792.3)"/>
<ellipse cx="260.3" cy="808.1" rx="2.2" ry="2.9" transform="rotate(33 260.3 808.1)"/>
<ellipse cx="256.8" cy="791.3" rx="2.7" ry="3.7" transform="rotate(41 256.8 791.3)"/>
<ellipse cx="253.6" cy="776.7" rx="1.6" ry="1.8" transform="rotate(30 253.6 776.7)"/>
<ellipse cx="249.6" cy="773.1" rx="2.4" ry="3.4" transform="rotate(37 249.6 773.1)"/>
<ellipse cx="248.8" cy="773.5" rx="1.0" ry="1.8" transform="rotate(23 248.8 773.5)"/>
<ellipse cx="269.4" cy="820.4" rx="1.3" ry="2.2" transform="rotate(44 269.4 820.4)"/>
<ellipse cx="258.0" cy="801.9" rx="1.8" ry="2.3" transform="rotate(35 258.0 801.9)"/>
<ellipse cx="262.1" cy="809.5" rx="2.4" ry="1.8" transform="rotate(35 262.1 809.5)"/>
<ellipse cx="261.3" cy="821.7" rx="1.8" ry="3.2" transform="rotate(28 261.3 821.7)"/>
<ellipse cx="264.8" cy="820.6" rx="1.8" ry="4.0" transform="rotate(20 264.8 820.6)"/>
<ellipse cx="259.1" cy="816.2" rx="1.6" ry="2.9" transform="rotate(32 259.1 816.2)"/>
<rect x="248.4" y="764.6" width="1.3" height="2.3"/>
<rect x="264.8" y="818.7" width="2.0" height="2.1"/>
<rect x="250.4" y="790.9" width="1.6" height="1.4"/>
<rect x="254.8" y="760.8" width="2.1" height="1.7"/>
<rect x="262.3" y="804.4" width="2.0" height="1.6"/>
<rect x="255.5" y="802.5" width="1.2" height="1.6"/>
<rect x="247.2" y="781.1" width="1.3" height="2.0"/>
<rect x="260.1" y="784.4" width="1.7" height="1.8"/>
<rect x="258.3" y="817.5" width="1.1" height="2.2"/>
<rect x="258.2" y="818.9" width="1.8" height="0.9"/>
<rect x="247.3" y="774.3" width="1.2" height="1.5"/>
<rect x="263.3" y="818.9" width="1.0" height="1.3"/>
<rect x="244.4" y="760.1" width="1.4" height="1.6"/>
<rect x="252.8" y="782.6" width="1.0" height="1.8"/>
<rect x="251.4" y="792.0" width="1.5" height="1.2"/>
<rect x="249.2" y="785.7" width="1.8" height="1.3"/>
<rect x="263.4" y="820.6" width="1.1" height="1.9"/>
<rect x="267.4" y="810.0" width="1.0" height="2.0"/>
<rect x="260.6" y="816.2" width="1.4" height="1.8"/>
<rect x="259.6" y="782.1" width="1.7" height="2.1"/>
<rect x="258.0" y="795.3" width="1.1" height="1.3"/>
<rect x="268.5" y="810.3" width="1.1" height="1.0"/>
<rect x="250.1" y="768.2" width="1.9" height="1.2"/>
<rect x="258.0" y="796.9" width="1.9" height="1.1"/>
<rect x="250.0" y="761.8" width="1.3" height="1.3"/>
<rect x="265.0" y="812.1" width="1.0" height="1.7"/>
<rect x="268.6" y="813.1" width="0.9" height="2.1"/>
<rect x="252.7" y="765.1" width="1.6" height="2.3"/>
<rect x="253.5" y="805.2" width="1.7" height="1.3"/>
<rect x="256.5" y="814.8" width="1.3" height="1.9"/>
<rect x="254.7" y="775.6" width="1.7" height="2.0"/>
<rect x="262.5" y="817.2" width="1.1" height="1.3"/>
<rect x="249.6" y="791.9" width="1.7" height="1.0"/>
<rect x="256.0" y="767.2" width="1.9" height="1.3"/>
<rect x="260.7" y="788.9" width="1.6" height="1.3"/>
<rect x="263.3" y="794.7" width="0.9" height="2.3"/>
<rect x="254.2" y="801.9" width="1.9" height="1.0"/>
<rect x="258.2" y="792.5" width="1.2" height="2.2"/>
<rect x="256.2" y="808.7" width="1.1" height="1.0"/>
<rect x="254.5" y="801.6" width="1.5" height="2.1"/>
<rect x="258.5" y="817.3" width="1.3" height="1.5"/>
<rect x="255.2" y="791.1" width="1.4" height="2.0"/>
<rect x="252.9" y="786.7" width="1.4" height="1.1"/>
<rect x="258.4" y="804.7" width="2.0" height="2.1"/>
<rect x="250.1" y="781.3" width="1.8" height="1.7"/>
<rect x="251.2" y="760.7" width="1.4" height="2.0"/>
<rect x="267.8" y="810.5" width="1.7" height="2.2"/>
<rect x="252.7" y="784.8" width="1.0" height="2.2"/>
<rect x="253.4" y="775.5" width="1.5" height="2.1"/>
<rect x="251.1" y="791.8" width="1.4" height="1.0"/>
<rect x="257.4" y="785.8" width="1.0" height="2.3"/>
<rect x="255.6" y="800.2" width="1.9" height="1.1"/>
<rect x="262.3" y="787.3" width="1.2" height="2.0"/>
<rect x="251.7" y="769.6" width="1.7" height="1.2"/>
<rect x="256.3" y="788.1" width="1.6" height="1.1"/>
<rect x="264.7" y="792.7" width="1.3" height="2.0"/>
<rect x="253.0" y="779.2" width="1.5" height="1.8"/>
<rect x="265.6" y="809.2" width="1.7" height="2.1"/>
<rect x="261.1" y="817.5" width="1.9" height="1.6"/>
<rect x="249.5" y="783.3" width="1.8" height="1.8"/>
<rect x="252.5" y="768.5" width="0.9" height="1.5"/>
<rect x="261.8" y="802.2" width="1.1" height="1.0"/>
<rect x="264.1" y="802.2" width="1.9" height="1.4"/>
<rect x="262.5" y="802.2" width="1.9" height="1.6"/>
<rect x="261.2" y="817.2" width="1.2" height="1.3"/>
<rect x="267.2" y="809.9" width="1.5" height="1.9"/>
<rect x="252.6" y="774.5" width="1.4" height="1.5"/>
<rect x="255.0" y="778.2" width="1.7" height="1.8"/>
<rect x="260.8" y="810.6" width="1.9" height="1.7"/>
<rect x="262.2" y="817.6" width="1.7" height="1.2"/>
<rect x="257.0" y="769.9" width="1.3" height="1.0"/>
<rect x="266.4" y="804.0" width="1.8" height="2.3"/>
<rect x="263.8" y="820.1" width="1.2" height="1.0"/>
<rect x="256.4" y="784.6" width="2.0" height="0.9"/>
<rect x="266.3" y="814.6" width="1.7" height="1.1"/>
<rect x="253.6" y="766.7" width="1.7" height="1.4"/>
<rect x="248.4" y="788.7" width="2.1" height="2.1"/>
<rect x="268.5" y="821.3" width="1.4" height="2.1"/>
<rect x="256.1" y="779.1" width="1.2" height="1.5"/>
<rect x="262.2" y="816.8" width="2.0" height="1.8"/>
<rect x="251.7" y="785.6" width="0.9" height="1.7"/>
<rect x="259.2" y="814.9" width="1.5" height="2.3"/>
<rect x="263.2" y="791.8" width="1.9" height="1.6"/>
<rect x="253.6" y="805.0" width="1.5" height="2.0"/>
<rect x="247.8" y="781.6" width="0.9" height="1.1"/>
<rect x="258.6" y="781.8" width="1.4" height="1.7"/>
<rect x="252.3" y="786.7" width="1.6" height="2.0"/>
<rect x="252.2" y="777.4" width="1.7" height="2.3"/>
<rect x="253.0" y="784.3" width="1.6" height="1.1"/>
<rect x="267.3" y="804.0" width="1.2" height="1.6"/>
<rect x="252.0" y="772.7" width="2.1" height="1.7"/>
<rect x="250.9" y="779.9" width="1.6" height="2.1"/>
<rect x="257.2" y="795.6" width="1.9" height="1.0"/>
<rect x="264.0" y="820.3" width="1.3" height="2.0"/>
<rect x="249.4" y="783.0" width="1.2" height="1.9"/>
</g>
</g><g clip-path="url(#sp3)">
<g fill="none" stroke="#97cafa" stroke-width="4.2" stroke-linejoin="round">
<path d="M243.1 699.5 L243.1 697.0 L243.1 694.4 L243.1 691.9 L243.1 689.3 L243.0 686.8 L243.0 684.2 L242.9 681.7 L242.9 679.1 L242.8 676.5 L242.8 674.0 L242.7 671.4 L242.7 668.9 L242.7 666.3 L242.7 663.8 L242.7 661.2 L242.7 658.7 L242.8 656.1 L242.9 653.6 L242.9 651.0 L243.1 648.5 L243.2 645.9 L243.4 643.4 L243.6 640.9 L243.8 638.3 L244.1 635.8 L244.3 633.2 L244.6 630.7 L244.9 628.2 L245.3 625.6 L245.6 623.1 L246.0 620.6 L246.4 618.0 L246.8 615.5 L247.3 613.0 L247.8 610.5 L248.4 608.0 L249.0 605.5 L249.6 603.1 L250.3 600.6 L251.0 598.1 L251.7 595.6 L252.4 593.2 L253.1 590.7 L253.9 588.2 L254.7 585.8 L255.7 583.4 L256.7 581.0 L257.6 578.6 L258.4 576.2 L259.2 573.7 L259.9 571.3 L260.7 568.8 L261.6 566.4 L262.5 564.0 L263.5 561.6 L264.6 559.3 L265.7 557.0 L266.9 554.6 L268.2 552.4 L269.5 550.1 L270.8 547.9 L272.2 545.6 L273.6 543.5 L275.1 541.3 L276.6 539.2 L278.2 537.1 L279.8 535.0 L281.5 533.0 L283.2 531.0 L285.0 529.0 L286.8 527.1 L288.6 525.2 L290.5 523.3 L292.5 521.5 L294.5 519.7 L296.5 517.9 L298.6 516.2 L300.7 514.6 L302.9 513.0 L305.1 511.6 L307.5 510.2 L309.8 508.9 L312.3 507.6 L314.8 506.5 L317.3 505.4 L319.8 504.4 L322.4 503.4 L325.0 502.6 L327.7 501.8 L330.3 501.0 L333.0 500.4 L335.7 499.8 L338.4 499.2 L341.2 498.8 L343.9 498.4 L346.7 498.1 L349.4 497.9 L352.2 497.7 L355.0 497.7 L357.8 497.8 L360.5 498.0 L363.3 498.3 L366.0 498.7 L368.7 499.2 L371.4 499.9 L374.1 500.6 L376.7 501.4 L379.4 502.2 L382.0 503.1 L384.5 504.1 L387.1 505.2 L389.6 506.3 L392.1 507.4 L394.5 508.6 L396.9 509.9 L399.3 511.2 L401.7 512.6 L404.0 514.0 L406.2 515.5 L408.4 517.0 L410.6 518.6 L412.7 520.2 L414.8 521.9 L416.9 523.6 L418.9 525.4 L420.9 527.1 L422.9 529.0 L424.8 530.8 L426.7 532.7 L428.6 534.6 L430.4 536.5 L432.2 538.4 L434.0 540.4 L435.8 542.4 L437.5 544.4 L439.2 546.4 L440.9 548.4 L442.5 550.5 L444.1 552.6 L445.7 554.7 L447.2 556.8 L448.7 559.0 L450.1 561.1 L451.5 563.3 L452.9 565.6 L454.2 567.8 L455.5 570.0 L456.8 572.3 L458.0 574.6 L459.2 576.9 L460.4 579.2 L461.5 581.6 L462.6 583.9 L463.7 586.2 L464.8 588.6 L465.9 590.9 L467.0 593.3 L468.1 595.7 L469.1 598.0 L470.1 600.4 L471.1 602.8 L472.1 605.2 L473.0 607.6 L473.9 610.0 L474.8 612.4 L475.6 614.9 L476.3 617.3 L477.1 619.8 L477.8 622.2 L478.4 624.7 L479.0 627.2 L479.5 629.7 L480.1 632.2 L480.5 634.7 L481.0 637.3 L481.4 639.8 L481.8 642.3 L482.2 644.8 L482.6 647.4 L482.9 649.9 L483.2 652.4 L483.5 655.0 L483.8 657.5 L484.1 660.1 L484.3 662.6 L484.6 665.1 L484.8 667.7 L485.0 670.2 L485.3 672.8 L485.5 675.3 L485.7 677.8 L485.9 680.4 L486.0 682.9 L486.2 685.5 L486.4 688.0 L486.5 690.6 L486.6 693.1 L486.7 695.7 L486.7 698.2 L486.7 700.8 L486.7 703.3 L486.6 705.9 L486.5 708.4 L486.4 711.0 L486.2 713.5 L486.0 716.1 L485.9 718.6 L485.7 721.2 L485.5 723.7 L485.3 726.2 L485.0 728.8 L484.8 731.3 L484.6 733.9 L484.3 736.4 L484.1 738.9 L483.8 741.5 L483.5 744.0 L483.2 746.6 L482.9 749.1 L482.6 751.6 L482.2 754.2 L481.8 756.7 L481.4 759.2 L481.0 761.7 L480.5 764.3 L480.1 766.8 L479.5 769.3 L479.0 771.8 L478.4 774.3 L477.8 776.8 L477.1 779.2 L476.3 781.7 L475.6 784.1 L474.8 786.6 L473.9 789.0 L473.0 791.4 L472.1 793.8 L471.1 796.2 L470.1 798.6 L469.1 801.0 L468.1 803.3 L467.0 805.7 L465.9 808.1 L464.8 810.4 L463.7 812.8 L462.6 815.1 L461.5 817.4 L460.4 819.8 L459.2 822.1 L458.0 824.4 L456.8 826.7 L455.5 829.0 L454.2 831.2 L452.9 833.4 L451.5 835.7 L450.1 837.9 L448.7 840.0 L447.2 842.2 L445.7 844.3 L444.1 846.4 L442.5 848.5 L440.9 850.6 L439.2 852.6 L437.5 854.6 L435.8 856.6 L434.0 858.6 L432.2 860.6 L430.4 862.5 L428.6 864.4 L426.7 866.3 L424.8 868.2 L422.9 870.0 L420.9 871.9 L418.9 873.6 L416.9 875.4 L414.8 877.1 L412.7 878.8 L410.6 880.4 L408.4 882.0 L406.2 883.5 L404.0 885.0 L401.7 886.4 L399.3 887.8 L396.9 889.1 L394.5 890.4 L392.1 891.6 L389.6 892.7 L387.1 893.8 L384.5 894.9 L382.0 895.9 L379.4 896.8 L376.7 897.6 L374.1 898.4 L371.4 899.1 L368.7 899.8 L366.0 900.3 L363.3 900.7 L360.5 901.0 L357.8 901.2 L355.0 901.3 L352.2 901.3 L349.4 901.1 L346.7 900.9 L343.9 900.6 L341.2 900.2 L338.4 899.8 L335.7 899.2 L333.0 898.6 L330.3 898.0 L327.7 897.2 L325.0 896.4 L322.4 895.6 L319.8 894.6 L317.3 893.6 L314.8 892.5 L312.3 891.4 L309.8 890.1 L307.5 888.8 L305.1 887.4 L302.9 886.0 L300.7 884.4 L298.6 882.8 L296.5 881.1 L294.5 879.3 L292.5 877.5 L290.5 875.7 L288.6 873.8 L286.8 871.9 L285.0 870.0 L283.2 868.0 L281.5 866.0 L279.8 864.0 L278.2 861.9 L276.6 859.8 L275.1 857.7 L273.6 855.5 L272.2 853.4 L270.8 851.1 L269.5 848.9 L268.2 846.6 L266.9 844.4 L265.7 842.0 L264.6 839.7 L263.5 837.4 L262.5 835.0 L261.6 832.6 L260.7 830.2 L259.9 827.7 L259.2 825.3 L258.4 822.8 L257.6 820.4 L256.7 818.0 L255.7 815.6 L254.7 813.2 L253.9 810.8 L253.1 808.3 L252.4 805.8 L251.7 803.4 L251.0 800.9 L250.3 798.4 L249.6 795.9 L249.0 793.5 L248.4 791.0 L247.8 788.5 L247.3 786.0 L246.8 783.5 L246.4 781.0 L246.0 778.4 L245.6 775.9 L245.3 773.4 L244.9 770.8 L244.6 768.3 L244.3 765.8 L244.1 763.2 L243.8 760.7 L243.6 758.1 L243.4 755.6 L243.2 753.1 L243.1 750.5 L242.9 748.0 L242.9 745.4 L242.8 742.9 L242.7 740.3 L242.7 737.8 L242.7 735.2 L242.7 732.7 L242.7 730.1 L242.7 727.6 L242.8 725.0 L242.8 722.5 L242.9 719.9 L242.9 717.3 L243.0 714.8 L243.0 712.2 L243.1 709.7 L243.1 707.1 L243.1 704.6 L243.1 702.0 L243.1 699.5Z"/>
<path d="M269.8 825.7 L268.8 825.3 L267.7 824.9 L266.7 824.5 L265.7 824.1 L264.6 823.7 L263.6 823.3 L262.6 822.9 L261.6 822.5 L260.5 822.1 L259.5 821.6 L258.5 821.2 L257.5 820.7 L256.5 820.3 L255.5 819.8 L254.5 819.3 L253.6 818.8 L252.6 818.2 L251.7 817.7 L250.8 817.1 L247.6 815.3 L244.5 813.6 L241.3 811.8 L238.2 810.1 L235.2 808.4 L232.1 806.7 L229.1 805.0 L226.1 803.3 L223.1 801.7 L220.1 800.1 L217.2 798.4 L214.3 796.8 L211.4 795.3 L208.5 793.7 L205.7 792.1 L202.8 790.6 L200.0 789.1 L197.3 787.6 L194.5 786.1 L191.8 784.6 L189.1 783.2 L186.4 781.7 L183.7 780.3 L181.1 778.9 L178.5 777.6 L175.9 776.2 L173.3 774.9 L170.7 773.5 L168.2 772.2 L165.7 770.9 L163.2 769.7 L160.8 768.4 L158.3 767.2 L155.9 766.0 L153.5 764.8 L151.2 763.6 L148.8 762.4 L146.5 761.3 L144.2 760.2 L141.9 759.1 L139.7 758.0 L137.5 756.9 L135.3 755.8 L133.1 754.8 L130.9 753.8 L128.8 752.8 L126.7 751.8 L124.6 750.8 L122.5 749.9 L120.4 748.9 L118.4 748.0 L116.4 747.1 L114.4 746.2 L112.5 745.3 L110.6 744.5 L108.7 743.6 L106.8 742.8 L104.9 742.0 L103.1 741.2 L101.2 740.4 L99.4 739.6 L97.7 738.9 L95.9 738.1 L94.2 737.4 L92.5 736.7 L90.8 735.9 L89.2 735.2 L87.5 734.6 L85.9 733.9 L84.3 733.2 L82.8 732.6 L81.2 731.9 L79.7 731.3 L78.2 730.7 L76.7 730.1 L75.3 729.5 L73.8 728.9 L72.4 728.3 L71.1 727.7 L69.7 727.1 L68.4 726.6 L67.0 726.0 L65.7 725.5 L64.5 724.9 L63.2 724.4 L62.0 723.9 L60.8 723.3 L59.6 722.8 L58.5 722.3 L57.3 721.8 L56.2 721.3 L55.2 720.8 L54.1 720.3 L53.0 719.8 L52.0 719.3 L51.0 718.8 L50.1 718.4 L49.1 717.9 L48.2 717.4 L47.3 716.9 L46.4 716.5 L45.5 716.0 L44.7 715.6 L43.9 715.1 L43.1 714.6 L42.3 714.2 L41.6 713.7 L40.9 713.3 L40.2 712.8 L39.5 712.4 L38.9 711.9 L38.2 711.5 L37.6 711.0 L37.0 710.6 L36.5 710.1 L35.9 709.7 L35.4 709.2 L34.9 708.8 L34.5 708.3 L34.0 707.9 L33.6 707.5 L33.2 707.0 L32.8 706.6 L32.5 706.1 L32.1 705.7 L31.8 705.2 L31.5 704.8 L31.3 704.4 L31.0 703.9 L30.8 703.5 L30.6 703.0 L30.5 702.6 L30.3 702.2 L30.2 701.7 L30.1 701.3 L30.0 700.8 L29.9 700.4 L29.9 699.9 L29.9 699.5 L29.9 699.1 L29.9 698.6 L30.0 698.2 L30.1 697.7 L30.2 697.3 L30.3 696.8 L30.5 696.4 L30.6 696.0 L30.8 695.5 L31.0 695.1 L31.3 694.6 L31.5 694.2 L31.8 693.8 L32.1 693.3 L32.5 692.9 L32.8 692.4 L33.2 692.0 L33.6 691.5 L34.0 691.1 L34.5 690.7 L34.9 690.2 L35.4 689.8 L35.9 689.3 L36.5 688.9 L37.0 688.4 L37.6 688.0 L38.2 687.5 L38.9 687.1 L39.5 686.6 L40.2 686.2 L40.9 685.7 L41.6 685.3 L42.3 684.8 L43.1 684.4 L43.9 683.9 L44.7 683.4 L45.5 683.0 L46.4 682.5 L47.3 682.1 L48.2 681.6 L49.1 681.1 L50.1 680.6 L51.0 680.2 L52.0 679.7 L53.0 679.2 L54.1 678.7 L55.2 678.2 L56.2 677.7 L57.3 677.2 L58.5 676.7 L59.6 676.2 L60.8 675.7 L62.0 675.1 L63.2 674.6 L64.5 674.1 L65.7 673.5 L67.0 673.0 L68.4 672.4 L69.7 671.9 L71.1 671.3 L72.4 670.7 L73.8 670.1 L75.3 669.5 L76.7 668.9 L78.2 668.3 L79.7 667.7 L81.2 667.1 L82.8 666.4 L84.3 665.8 L85.9 665.1 L87.5 664.4 L89.2 663.8 L90.8 663.1 L92.5 662.3 L94.2 661.6 L95.9 660.9 L97.7 660.1 L99.4 659.4 L101.2 658.6 L103.1 657.8 L104.9 657.0 L106.8 656.2 L108.7 655.4 L110.6 654.5 L112.5 653.7 L114.4 652.8 L116.4 651.9 L118.4 651.0 L120.4 650.1 L122.5 649.1 L124.6 648.2 L126.7 647.2 L128.8 646.2 L130.9 645.2 L133.1 644.2 L135.3 643.2 L137.5 642.1 L139.7 641.0 L141.9 639.9 L144.2 638.8 L146.5 637.7 L148.8 636.6 L151.2 635.4 L153.5 634.2 L155.9 633.0 L158.3 631.8 L160.8 630.6 L163.2 629.3 L165.7 628.1 L168.2 626.8 L170.7 625.5 L173.3 624.1 L175.9 622.8 L178.5 621.4 L181.1 620.1 L183.7 618.7 L186.4 617.3 L189.1 615.8 L191.8 614.4 L194.5 612.9 L197.3 611.4 L200.0 609.9 L202.8 608.4 L205.7 606.9 L208.5 605.3 L211.4 603.7 L214.3 602.2 L217.2 600.6 L220.1 598.9 L223.1 597.3 L226.1 595.7 L229.1 594.0 L232.1 592.3 L235.2 590.6 L238.2 588.9 L241.3 587.2 L244.5 585.4 L247.6 583.7 L250.8 581.9 L251.7 581.3 L252.6 580.8 L253.6 580.2 L254.5 579.7 L255.5 579.2 L256.5 578.7 L257.5 578.3 L258.5 577.8 L259.5 577.4 L260.5 576.9 L261.6 576.5 L262.6 576.1 L263.6 575.7 L264.6 575.3 L265.7 574.9 L266.7 574.5 L267.7 574.1 L268.8 573.7 L269.8 573.3 L272.5 574.2 L272.4 575.8 L272.3 577.4 L272.1 579.0 L271.9 580.6 L271.7 582.2 L271.4 583.8 L271.1 585.4 L270.8 587.0 L270.5 588.5 L270.2 590.1 L269.8 591.7 L269.4 593.3 L269.0 594.8 L268.7 596.4 L268.2 598.0 L267.8 599.5 L267.4 601.1 L267.0 602.7 L266.5 604.2 L266.1 605.8 L265.7 607.4 L265.2 608.9 L264.8 610.5 L264.4 612.0 L263.9 613.6 L263.5 615.2 L263.0 616.7 L262.6 618.3 L262.1 619.8 L261.6 621.4 L261.2 622.9 L260.7 624.5 L260.2 626.0 L259.7 627.6 L259.2 629.1 L258.8 630.7 L258.3 632.2 L257.9 633.8 L257.5 635.4 L257.1 636.9 L256.7 638.5 L256.3 640.1 L255.9 641.6 L255.5 643.2 L255.1 644.8 L254.7 646.4 L254.3 647.9 L253.9 649.5 L253.5 651.1 L253.1 652.6 L252.7 654.2 L252.3 655.8 L251.9 657.3 L251.5 658.9 L251.2 660.5 L250.8 662.1 L250.5 663.6 L250.1 665.2 L249.8 666.8 L249.5 668.4 L249.2 670.0 L248.9 671.6 L248.6 673.2 L248.4 674.8 L248.1 676.4 L247.8 677.9 L247.5 679.5 L247.3 681.1 L247.0 682.7 L246.7 684.3 L246.5 685.9 L246.2 687.5 L245.9 689.1 L245.6 690.7 L245.3 692.3 L245.1 693.9 L244.9 695.5 L244.8 697.1 L244.7 698.7 L244.7 700.3 L244.8 701.9 L244.9 703.5 L245.1 705.1 L245.3 706.7 L245.6 708.3 L245.9 709.9 L246.2 711.5 L246.5 713.1 L246.7 714.7 L247.0 716.3 L247.3 717.9 L247.5 719.5 L247.8 721.1 L248.1 722.6 L248.4 724.2 L248.6 725.8 L248.9 727.4 L249.2 729.0 L249.5 730.6 L249.8 732.2 L250.1 733.8 L250.5 735.4 L250.8 736.9 L251.2 738.5 L251.5 740.1 L251.9 741.7 L252.3 743.2 L252.7 744.8 L253.1 746.4 L253.5 747.9 L253.9 749.5 L254.3 751.1 L254.7 752.6 L255.1 754.2 L255.5 755.8 L255.9 757.4 L256.3 758.9 L256.7 760.5 L257.1 762.1 L257.5 763.6 L257.9 765.2 L258.3 766.8 L258.8 768.3 L259.2 769.9 L259.7 771.4 L260.2 773.0 L260.7 774.5 L261.2 776.1 L261.6 777.6 L262.1 779.2 L262.6 780.7 L263.0 782.3 L263.5 783.8 L263.9 785.4 L264.4 787.0 L264.8 788.5 L265.2 790.1 L265.7 791.6 L266.1 793.2 L266.5 794.8 L267.0 796.3 L267.4 797.9 L267.8 799.5 L268.2 801.0 L268.7 802.6 L269.0 804.2 L269.4 805.7 L269.8 807.3 L270.2 808.9 L270.5 810.5 L270.8 812.0 L271.1 813.6 L271.4 815.2 L271.7 816.8 L271.9 818.4 L272.1 820.0 L272.3 821.6 L272.4 823.2 L272.5 824.8Z"/>
</g></g>
</g>
<rect x="29.9" y="489.2" width="533.1" height="420.6" fill="none" stroke="#2a2a2a" stroke-width="1.3"/>
<path d="M29.9 909.8v-4.2M29.9 489.2v4.2M106.1 909.8v-4.2M106.1 489.2v4.2M182.2 909.8v-4.2M182.2 489.2v4.2M258.4 909.8v-4.2M258.4 489.2v4.2M334.5 909.8v-4.2M334.5 489.2v4.2M410.7 909.8v-4.2M410.7 489.2v4.2M486.9 909.8v-4.2M486.9 489.2v4.2M563.0 909.8v-4.2M563.0 489.2v4.2M29.9 909.8h4.2M563.0 909.8h-4.2M29.9 839.7h4.2M563.0 839.7h-4.2M29.9 769.6h4.2M563.0 769.6h-4.2M29.9 699.5h4.2M563.0 699.5h-4.2M29.9 629.4h4.2M563.0 629.4h-4.2M29.9 559.3h4.2M563.0 559.3h-4.2M29.9 489.2h4.2M563.0 489.2h-4.2" stroke="#2a2a2a" stroke-width="1.25" fill="none"/>
<text x="29.9" y="932.3" text-anchor="middle">-3</text>
<text x="106.1" y="932.3" text-anchor="middle">-2</text>
<text x="182.2" y="932.3" text-anchor="middle">-1</text>
<text x="258.4" y="932.3" text-anchor="middle">0</text>
<text x="334.5" y="932.3" text-anchor="middle">1</text>
<text x="410.7" y="932.3" text-anchor="middle">2</text>
<text x="486.9" y="932.3" text-anchor="middle">3</text>
<text x="563.0" y="932.3" text-anchor="middle">4</text>
<text x="23.3" y="915.6" text-anchor="end">-3</text>
<text x="23.3" y="845.5" text-anchor="end">-2</text>
<text x="23.3" y="775.4" text-anchor="end">-1</text>
<text x="23.3" y="705.3" text-anchor="end">0</text>
<text x="23.3" y="635.2" text-anchor="end">1</text>
<text x="23.3" y="565.1" text-anchor="end">2</text>
<text x="23.3" y="495.0" text-anchor="end">3</text>
<clipPath id="sp4"><rect x="656.4" y="487.0" width="537.1" height="425.0"/></clipPath>
<clipPath id="cp4"><rect x="658.6" y="489.2" width="532.7" height="420.6"/></clipPath>
<g filter="url(#soft)">
<g clip-path="url(#cp4)">
<rect x="658.6" y="489.2" width="532.7" height="420.6" fill="#4b4b4b"/>
<path d="M1009.6 699.4 L1009.5 695.0 L1009.5 690.7 L1009.5 686.3 L1009.4 681.9 L1009.3 677.5 L1009.3 673.2 L1009.2 668.8 L1009.1 664.4 L1009.0 660.0 L1008.9 655.7 L1008.9 651.3 L1008.8 646.9 L1008.8 642.5 L1008.8 638.2 L1008.8 633.8 L1008.9 629.4 L1009.0 625.0 L1009.1 620.7 L1009.2 616.3 L1009.4 611.9 L1009.7 607.6 L1009.9 603.2 L1010.3 598.8 L1010.6 594.5 L1011.1 590.1 L1011.5 585.8 L1012.0 581.4 L1012.5 577.1 L1013.0 572.7 L1013.6 568.4 L1014.2 564.0 L1014.8 559.7 L1015.5 555.4 L1016.3 551.1 L1017.2 546.8 L1018.1 542.5 L1019.2 538.3 L1020.2 534.0 L1021.4 529.8 L1022.5 525.5 L1023.6 521.3 L1024.7 517.1 L1025.9 512.8 L1027.2 508.6 L1028.6 504.5 L1030.2 500.4 L1031.8 496.3 L1033.4 492.2 L1034.7 488.0 L1035.9 483.8 L1037.1 479.5 L1038.4 475.3 L1039.8 471.2 L1041.4 467.1 L1043.1 463.0 L1044.8 459.0 L1046.7 455.0 L1048.7 451.0 L1050.7 447.1 L1052.8 443.2 L1055.0 439.4 L1057.3 435.6 L1059.6 431.8 L1062.1 428.1 L1064.6 424.5 L1067.2 420.9 L1069.9 417.3 L1072.6 413.9 L1075.4 410.4 L1078.3 407.0 L1081.3 403.7 L1084.3 400.5 L1087.5 397.3 L1090.6 394.1 L1093.9 391.0 L1097.2 388.0 L1100.7 385.1 L1104.2 382.4 L1107.8 379.7 L1111.5 377.1 L1115.3 374.8 L1119.2 372.5 L1123.2 370.4 L1127.3 368.4 L1131.4 366.5 L1135.6 364.8 L1139.9 363.2 L1144.2 361.7 L1148.5 360.3 L1152.9 359.1 L1157.3 357.9 L1161.7 356.9 L1166.2 356.0 L1170.7 355.2 L1175.2 354.6 L1179.7 354.1 L1184.3 353.7 L1188.9 353.4 L1193.4 353.4 L1198.0 353.5 L1202.5 353.8 L1207.0 354.4 L1211.5 355.1 L1216.0 356.0 L1220.4 357.1 L1224.8 358.3 L1229.2 359.6 L1233.5 361.1 L1237.8 362.7 L1242.0 364.4 L1246.2 366.2 L1250.3 368.1 L1254.4 370.0 L1258.4 372.1 L1262.4 374.3 L1266.3 376.6 L1270.1 378.9 L1273.9 381.4 L1277.6 383.9 L1281.3 386.5 L1284.8 389.2 L1288.4 392.0 L1291.8 394.9 L1295.2 397.8 L1298.5 400.8 L1301.8 403.8 L1305.0 407.0 L1308.2 410.1 L1311.3 413.3 L1314.4 416.6 L1317.4 419.9 L1320.4 423.2 L1323.3 426.6 L1326.2 430.0 L1329.1 433.4 L1331.9 436.9 L1334.6 440.4 L1337.3 443.9 L1339.9 447.5 L1342.5 451.1 L1345.0 454.8 L1347.5 458.4 L1349.8 462.2 L1352.1 465.9 L1354.4 469.7 L1356.6 473.6 L1358.7 477.4 L1360.7 481.3 L1362.7 485.3 L1364.7 489.2 L1366.6 493.2 L1368.5 497.2 L1370.4 501.2 L1372.2 505.2 L1374.0 509.2 L1375.8 513.3 L1377.6 517.3 L1379.3 521.4 L1381.0 525.4 L1382.7 529.5 L1384.3 533.6 L1385.9 537.7 L1387.4 541.8 L1388.9 545.9 L1390.3 550.1 L1391.6 554.3 L1392.9 558.5 L1394.1 562.7 L1395.2 566.9 L1396.3 571.2 L1397.3 575.4 L1398.2 579.7 L1399.0 584.0 L1399.8 588.3 L1400.6 592.7 L1401.3 597.0 L1401.9 601.3 L1402.5 605.7 L1403.1 610.0 L1403.7 614.4 L1404.2 618.7 L1404.7 623.1 L1405.2 627.4 L1405.6 631.8 L1406.0 636.1 L1406.5 640.5 L1406.8 644.8 L1407.2 649.2 L1407.6 653.5 L1407.9 657.9 L1408.2 662.3 L1408.6 666.6 L1408.9 671.0 L1409.1 675.4 L1409.4 679.7 L1409.6 684.1 L1409.8 688.5 L1409.9 692.8 L1409.9 697.2 L1409.9 701.6 L1409.9 706.0 L1409.8 710.3 L1409.6 714.7 L1409.4 719.1 L1409.1 723.4 L1408.9 727.8 L1408.6 732.2 L1408.2 736.5 L1407.9 740.9 L1407.6 745.3 L1407.2 749.6 L1406.8 754.0 L1406.5 758.3 L1406.0 762.7 L1405.6 767.0 L1405.2 771.4 L1404.7 775.7 L1404.2 780.1 L1403.7 784.4 L1403.1 788.8 L1402.5 793.1 L1401.9 797.5 L1401.3 801.8 L1400.6 806.1 L1399.8 810.5 L1399.0 814.8 L1398.2 819.1 L1397.3 823.4 L1396.3 827.6 L1395.2 831.9 L1394.1 836.1 L1392.9 840.3 L1391.6 844.5 L1390.3 848.7 L1388.9 852.9 L1387.4 857.0 L1385.9 861.1 L1384.3 865.2 L1382.7 869.3 L1381.0 873.4 L1379.3 877.4 L1377.6 881.5 L1375.8 885.5 L1374.0 889.6 L1372.2 893.6 L1370.4 897.6 L1368.5 901.6 L1366.6 905.6 L1364.7 909.6 L1362.7 913.5 L1360.7 917.5 L1358.7 921.4 L1356.6 925.2 L1354.4 929.1 L1352.1 932.9 L1349.8 936.6 L1347.5 940.4 L1345.0 944.0 L1342.5 947.7 L1339.9 951.3 L1337.3 954.9 L1334.6 958.4 L1331.9 961.9 L1329.1 965.4 L1326.2 968.8 L1323.3 972.2 L1320.4 975.6 L1317.4 978.9 L1314.4 982.2 L1311.3 985.5 L1308.2 988.7 L1305.0 991.8 L1301.8 995.0 L1298.5 998.0 L1295.2 1001.0 L1291.8 1003.9 L1288.4 1006.8 L1284.8 1009.6 L1281.3 1012.3 L1277.6 1014.9 L1273.9 1017.4 L1270.1 1019.9 L1266.3 1022.2 L1262.4 1024.5 L1258.4 1026.7 L1254.4 1028.8 L1250.3 1030.7 L1246.2 1032.6 L1242.0 1034.4 L1237.8 1036.1 L1233.5 1037.7 L1229.2 1039.2 L1224.8 1040.5 L1220.4 1041.7 L1216.0 1042.8 L1211.5 1043.7 L1207.0 1044.4 L1202.5 1045.0 L1198.0 1045.3 L1193.4 1045.4 L1188.9 1045.4 L1184.3 1045.1 L1179.7 1044.7 L1175.2 1044.2 L1170.7 1043.6 L1166.2 1042.8 L1161.7 1041.9 L1157.3 1040.9 L1152.9 1039.7 L1148.5 1038.5 L1144.2 1037.1 L1139.9 1035.6 L1135.6 1034.0 L1131.4 1032.3 L1127.3 1030.4 L1123.2 1028.4 L1119.2 1026.3 L1115.3 1024.0 L1111.5 1021.7 L1107.8 1019.1 L1104.2 1016.4 L1100.7 1013.7 L1097.2 1010.8 L1093.9 1007.8 L1090.6 1004.7 L1087.5 1001.5 L1084.3 998.3 L1081.3 995.1 L1078.3 991.8 L1075.4 988.4 L1072.6 984.9 L1069.9 981.5 L1067.2 977.9 L1064.6 974.3 L1062.1 970.7 L1059.6 967.0 L1057.3 963.2 L1055.0 959.4 L1052.8 955.6 L1050.7 951.7 L1048.7 947.8 L1046.7 943.8 L1044.8 939.8 L1043.1 935.8 L1041.4 931.7 L1039.8 927.6 L1038.4 923.5 L1037.1 919.3 L1035.9 915.0 L1034.7 910.8 L1033.4 906.6 L1031.8 902.5 L1030.2 898.4 L1028.6 894.3 L1027.2 890.2 L1025.9 886.0 L1024.7 881.7 L1023.6 877.5 L1022.5 873.3 L1021.4 869.0 L1020.2 864.8 L1019.2 860.5 L1018.1 856.3 L1017.2 852.0 L1016.3 847.7 L1015.5 843.4 L1014.8 839.1 L1014.2 834.8 L1013.6 830.4 L1013.0 826.1 L1012.5 821.7 L1012.0 817.4 L1011.5 813.0 L1011.1 808.7 L1010.6 804.3 L1010.3 800.0 L1009.9 795.6 L1009.7 791.2 L1009.4 786.9 L1009.2 782.5 L1009.1 778.1 L1009.0 773.8 L1008.9 769.4 L1008.8 765.0 L1008.8 760.6 L1008.8 756.3 L1008.8 751.9 L1008.9 747.5 L1008.9 743.1 L1009.0 738.8 L1009.1 734.4 L1009.2 730.0 L1009.3 725.6 L1009.3 721.3 L1009.4 716.9 L1009.5 712.5 L1009.5 708.1 L1009.5 703.8 L1009.6 699.4Z" fill="#b4b4b4"/>
<polygon points="1033.9,490.7 1023.3,484.7 1025.7,476.4 1037.8,476.8" fill="#b4b4b4" stroke="#b4b4b4" stroke-width="1.6" stroke-linejoin="round"/>
<polygon points="1037.8,922.0 1025.7,922.4 1023.3,914.1 1033.9,908.1" fill="#b4b4b4" stroke="#b4b4b4" stroke-width="1.6" stroke-linejoin="round"/>
<polygon points="1045.4,457.5 1036.2,449.5 1040.0,441.9 1051.9,444.6" fill="#b4b4b4" stroke="#b4b4b4" stroke-width="1.6" stroke-linejoin="round"/>
<polygon points="1051.9,954.2 1040.0,956.9 1036.2,949.3 1045.4,941.3" fill="#b4b4b4" stroke="#b4b4b4" stroke-width="1.6" stroke-linejoin="round"/>
<polygon points="1065.5,423.1 1057.9,413.5 1063.1,406.7 1074.3,411.6" fill="#b4b4b4" stroke="#b4b4b4" stroke-width="1.6" stroke-linejoin="round"/>
<polygon points="1074.3,987.2 1063.1,992.1 1057.9,985.3 1065.5,975.7" fill="#b4b4b4" stroke="#b4b4b4" stroke-width="1.6" stroke-linejoin="round"/>
<polygon points="1085.4,399.1 1079.3,388.6 1085.5,382.6 1095.8,389.1" fill="#b4b4b4" stroke="#b4b4b4" stroke-width="1.6" stroke-linejoin="round"/>
<polygon points="1095.8,1009.7 1085.5,1016.2 1079.3,1010.2 1085.4,999.7" fill="#b4b4b4" stroke="#b4b4b4" stroke-width="1.6" stroke-linejoin="round"/>
<polygon points="1112.9,376.0 1109.7,364.2 1117.2,360.1 1125.5,369.0" fill="#b4b4b4" stroke="#b4b4b4" stroke-width="1.6" stroke-linejoin="round"/>
<polygon points="1125.5,1029.8 1117.2,1038.7 1109.7,1034.6 1112.9,1022.8" fill="#b4b4b4" stroke="#b4b4b4" stroke-width="1.6" stroke-linejoin="round"/>
<polygon points="1141.6,362.4 1141.0,350.2 1149.2,347.8 1155.4,358.2" fill="#b4b4b4" stroke="#b4b4b4" stroke-width="1.6" stroke-linejoin="round"/>
<polygon points="1155.4,1040.6 1149.2,1051.0 1141.0,1048.6 1141.6,1036.4" fill="#b4b4b4" stroke="#b4b4b4" stroke-width="1.6" stroke-linejoin="round"/>
<polygon points="1172.5,354.8 1174.3,342.7 1182.8,341.8 1186.9,353.3" fill="#b4b4b4" stroke="#b4b4b4" stroke-width="1.6" stroke-linejoin="round"/>
<polygon points="1186.9,1045.5 1182.8,1057.0 1174.3,1056.1 1172.5,1044.0" fill="#b4b4b4" stroke="#b4b4b4" stroke-width="1.6" stroke-linejoin="round"/>
<polygon points="1199.9,353.4 1204.4,342.0 1212.9,343.2 1214.2,355.4" fill="#b4b4b4" stroke="#b4b4b4" stroke-width="1.6" stroke-linejoin="round"/>
<polygon points="1214.2,1043.4 1212.9,1055.6 1204.4,1056.8 1199.9,1045.4" fill="#b4b4b4" stroke="#b4b4b4" stroke-width="1.6" stroke-linejoin="round"/>
<polygon points="1235.3,361.6 1242.6,351.8 1250.5,355.1 1248.7,367.2" fill="#b4b4b4" stroke="#b4b4b4" stroke-width="1.6" stroke-linejoin="round"/>
<polygon points="1248.7,1031.6 1250.5,1043.7 1242.6,1047.0 1235.3,1037.2" fill="#b4b4b4" stroke="#b4b4b4" stroke-width="1.6" stroke-linejoin="round"/>
<polygon points="1267.9,377.3 1276.9,369.1 1284.0,373.9 1279.9,385.4" fill="#b4b4b4" stroke="#b4b4b4" stroke-width="1.6" stroke-linejoin="round"/>
<polygon points="1279.9,1013.4 1284.0,1024.9 1276.9,1029.7 1267.9,1021.5" fill="#b4b4b4" stroke="#b4b4b4" stroke-width="1.6" stroke-linejoin="round"/>
<polygon points="1299.9,401.9 1310.3,395.5 1316.4,401.5 1310.2,412.0" fill="#b4b4b4" stroke="#b4b4b4" stroke-width="1.6" stroke-linejoin="round"/>
<polygon points="1310.2,986.8 1316.4,997.3 1310.3,1003.3 1299.9,996.9" fill="#b4b4b4" stroke="#b4b4b4" stroke-width="1.6" stroke-linejoin="round"/>
<polygon points="1327.4,431.2 1338.5,426.2 1343.8,432.9 1336.4,442.5" fill="#b4b4b4" stroke="#b4b4b4" stroke-width="1.6" stroke-linejoin="round"/>
<polygon points="1336.4,956.3 1343.8,965.9 1338.5,972.6 1327.4,967.6" fill="#b4b4b4" stroke="#b4b4b4" stroke-width="1.6" stroke-linejoin="round"/>
<polygon points="1353.0,467.2 1364.8,464.1 1369.0,471.5 1360.1,479.9" fill="#b4b4b4" stroke="#b4b4b4" stroke-width="1.6" stroke-linejoin="round"/>
<polygon points="1360.1,918.9 1369.0,927.3 1364.8,934.7 1353.0,931.6" fill="#b4b4b4" stroke="#b4b4b4" stroke-width="1.6" stroke-linejoin="round"/>
<polygon points="1374.7,510.7 1386.7,508.7 1390.1,516.5 1380.4,523.9" fill="#b4b4b4" stroke="#b4b4b4" stroke-width="1.6" stroke-linejoin="round"/>
<polygon points="1380.4,874.9 1390.1,882.3 1386.7,890.1 1374.7,888.1" fill="#b4b4b4" stroke="#b4b4b4" stroke-width="1.6" stroke-linejoin="round"/>
<polygon points="1392.2,555.7 1404.4,555.4 1406.7,563.7 1396.0,569.7" fill="#b4b4b4" stroke="#b4b4b4" stroke-width="1.6" stroke-linejoin="round"/>
<polygon points="1396.0,829.1 1406.7,835.1 1404.4,843.4 1392.2,843.1" fill="#b4b4b4" stroke="#b4b4b4" stroke-width="1.6" stroke-linejoin="round"/>
<polygon points="1402.8,607.2 1414.9,608.7 1415.9,617.1 1404.6,621.5" fill="#b4b4b4" stroke="#b4b4b4" stroke-width="1.6" stroke-linejoin="round"/>
<polygon points="1404.6,777.3 1415.9,781.7 1414.9,790.1 1402.8,791.6" fill="#b4b4b4" stroke="#b4b4b4" stroke-width="1.6" stroke-linejoin="round"/>
<polygon points="1408.4,663.8 1420.4,665.9 1421.0,674.5 1409.3,678.2" fill="#b4b4b4" stroke="#b4b4b4" stroke-width="1.6" stroke-linejoin="round"/>
<polygon points="1409.3,720.6 1421.0,724.3 1420.4,732.9 1408.4,735.0" fill="#b4b4b4" stroke="#b4b4b4" stroke-width="1.6" stroke-linejoin="round"/>
<path d="M1059.9 482.9 L1074.3 479.9 L1081.4 466.4 L1088.6 463.4 L1111.7 461.9 L1118.9 466.5 L1120.6 469.4 L1122.5 472.3 L1124.5 474.9 L1126.7 477.5 L1128.9 480.1 L1131.2 482.6 L1133.4 485.1 L1135.7 487.7 L1137.9 490.3 L1140.1 493.0 L1142.4 495.5 L1144.8 497.9 L1147.5 500.0 L1150.5 501.6 L1153.7 503.0 L1157.0 504.1 L1160.4 505.0 L1163.8 505.8 L1167.2 506.5 L1170.6 507.1 L1174.1 507.6 L1177.5 507.9 L1181.0 507.9 L1184.5 507.6 L1187.9 507.1 L1191.3 506.3 L1194.7 505.4 L1198.0 504.3 L1201.2 502.9 L1204.2 501.2 L1207.1 499.3 L1209.9 497.3 L1212.7 495.3 L1215.6 493.4 L1218.5 491.8 L1221.6 490.5 L1224.9 489.8 L1228.5 489.8 L1232.4 490.5 L1236.8 499.4 L1258.4 508.4 L1262.7 524.9 L1272.8 541.4 L1287.2 547.4 L1297.2 551.9 L1300.1 569.9 L1292.9 585.0 L1281.4 606.0 L1271.3 630.0 L1264.1 654.0 L1259.8 678.0 L1258.4 700.2 L1258.7 699.4 L1258.7 699.4 L1258.4 698.6 L1259.8 720.8 L1264.1 744.8 L1271.3 768.8 L1281.4 792.8 L1292.9 813.8 L1300.1 828.9 L1297.2 846.9 L1287.2 851.4 L1272.8 857.4 L1262.7 873.9 L1258.4 890.4 L1236.8 899.4 L1232.4 908.3 L1228.5 909.0 L1224.9 909.0 L1221.6 908.3 L1218.5 907.0 L1215.6 905.4 L1212.7 903.5 L1209.9 901.5 L1207.1 899.5 L1204.2 897.6 L1201.2 895.9 L1198.0 894.5 L1194.7 893.4 L1191.3 892.5 L1187.9 891.7 L1184.5 891.2 L1181.0 890.9 L1177.5 890.9 L1174.1 891.2 L1170.6 891.7 L1167.2 892.3 L1163.8 893.0 L1160.4 893.8 L1157.0 894.7 L1153.7 895.8 L1150.5 897.2 L1147.5 898.8 L1144.8 900.9 L1142.4 903.3 L1140.1 905.8 L1137.9 908.5 L1135.7 911.1 L1133.4 913.7 L1131.2 916.2 L1128.9 918.7 L1126.7 921.3 L1124.5 923.9 L1122.5 926.5 L1120.6 929.4 L1118.9 932.3 L1111.7 936.9 L1088.6 935.4 L1081.4 932.4 L1074.3 918.9 L1059.9 915.9 L1057.9 914.3 L1057.7 911.6 L1057.5 908.8 L1057.2 906.0 L1056.8 903.3 L1056.4 900.6 L1056.0 897.8 L1055.6 895.1 L1055.1 892.4 L1054.5 889.7 L1054.0 887.0 L1053.4 884.3 L1052.8 881.6 L1052.1 878.9 L1051.5 876.2 L1050.8 873.5 L1050.1 870.8 L1049.4 868.1 L1048.7 865.4 L1048.0 862.7 L1047.3 860.1 L1046.6 857.4 L1045.9 854.7 L1045.2 852.0 L1044.4 849.4 L1043.7 846.7 L1043.0 844.0 L1042.2 841.3 L1041.5 838.7 L1040.7 836.0 L1039.9 833.4 L1039.2 830.7 L1038.4 828.0 L1037.6 825.4 L1036.8 822.7 L1036.0 820.1 L1035.3 817.4 L1034.5 814.7 L1033.8 812.0 L1033.1 809.4 L1032.5 806.7 L1031.8 804.0 L1031.1 801.3 L1030.5 798.6 L1029.9 795.9 L1029.2 793.2 L1028.6 790.5 L1027.9 787.8 L1027.3 785.1 L1026.6 782.5 L1025.9 779.8 L1025.2 777.1 L1024.6 774.4 L1024.0 771.7 L1023.3 769.0 L1022.7 766.3 L1022.1 763.6 L1021.6 760.9 L1021.1 758.2 L1020.5 755.4 L1020.0 752.7 L1019.5 750.0 L1019.1 747.3 L1018.6 744.5 L1018.1 741.8 L1017.7 739.1 L1017.2 736.4 L1016.8 733.6 L1016.3 730.9 L1015.9 728.2 L1015.5 725.5 L1015.0 722.7 L1014.5 720.0 L1014.1 717.3 L1013.6 714.5 L1013.2 711.8 L1012.8 709.0 L1012.5 706.3 L1012.2 703.5 L1012.1 700.8 L1012.1 698.0 L1012.2 695.3 L1012.5 692.5 L1012.8 689.8 L1013.2 687.0 L1013.6 684.3 L1014.1 681.5 L1014.5 678.8 L1015.0 676.1 L1015.5 673.3 L1015.9 670.6 L1016.3 667.9 L1016.8 665.2 L1017.2 662.4 L1017.7 659.7 L1018.1 657.0 L1018.6 654.3 L1019.1 651.5 L1019.5 648.8 L1020.0 646.1 L1020.5 643.4 L1021.1 640.6 L1021.6 637.9 L1022.1 635.2 L1022.7 632.5 L1023.3 629.8 L1024.0 627.1 L1024.6 624.4 L1025.2 621.7 L1025.9 619.0 L1026.6 616.3 L1027.3 613.7 L1027.9 611.0 L1028.6 608.3 L1029.2 605.6 L1029.9 602.9 L1030.5 600.2 L1031.1 597.5 L1031.8 594.8 L1032.5 592.1 L1033.1 589.4 L1033.8 586.8 L1034.5 584.1 L1035.3 581.4 L1036.0 578.7 L1036.8 576.1 L1037.6 573.4 L1038.4 570.8 L1039.2 568.1 L1039.9 565.4 L1040.7 562.8 L1041.5 560.1 L1042.2 557.5 L1043.0 554.8 L1043.7 552.1 L1044.4 549.4 L1045.2 546.8 L1045.9 544.1 L1046.6 541.4 L1047.3 538.7 L1048.0 536.1 L1048.7 533.4 L1049.4 530.7 L1050.1 528.0 L1050.8 525.3 L1051.5 522.6 L1052.1 519.9 L1052.8 517.2 L1053.4 514.5 L1054.0 511.8 L1054.5 509.1 L1055.1 506.4 L1055.6 503.7 L1056.0 501.0 L1056.4 498.2 L1056.8 495.5 L1057.2 492.8 L1057.5 490.0 L1057.7 487.2 L1057.9 484.5Z" fill="#4b4b4b"/>
<clipPath id="dp4"><path d="M1053.4 919.1 L1051.7 918.4 L1050.0 917.8 L1048.3 917.1 L1046.6 916.4 L1044.9 915.7 L1043.2 915.0 L1041.5 914.3 L1039.8 913.6 L1038.1 912.9 L1036.5 912.2 L1034.8 911.4 L1033.2 910.6 L1031.5 909.8 L1029.9 909.0 L1028.3 908.2 L1026.7 907.3 L1025.1 906.3 L1023.6 905.4 L1022.1 904.4 L1016.9 901.2 L1011.7 898.0 L1006.6 894.9 L1001.5 891.8 L996.4 888.7 L991.4 885.6 L986.4 882.6 L981.5 879.6 L976.6 876.6 L971.7 873.7 L966.9 870.8 L962.1 867.9 L957.3 865.0 L952.6 862.2 L947.9 859.4 L943.3 856.6 L938.7 853.9 L934.1 851.2 L929.6 848.5 L925.1 845.8 L920.7 843.2 L916.2 840.6 L911.9 838.1 L907.5 835.6 L903.2 833.2 L899.0 830.9 L894.7 828.6 L890.5 826.3 L886.4 824.1 L882.3 821.9 L878.2 819.7 L874.1 817.6 L870.1 815.5 L866.2 813.4 L862.3 811.3 L858.4 809.3 L854.5 807.3 L850.7 805.3 L846.9 803.4 L843.2 801.5 L839.5 799.6 L835.8 797.8 L832.2 796.0 L828.6 794.2 L825.0 792.5 L821.5 790.7 L818.1 789.1 L814.6 787.4 L811.2 785.8 L807.9 784.1 L804.5 782.6 L801.2 781.0 L798.0 779.5 L794.8 778.0 L791.6 776.5 L788.5 775.1 L785.4 773.6 L782.3 772.2 L779.3 770.9 L776.3 769.5 L773.3 768.2 L770.4 766.9 L767.5 765.6 L764.7 764.3 L761.9 763.1 L759.1 761.9 L756.4 760.7 L753.7 759.5 L751.1 758.4 L748.5 757.2 L745.9 756.1 L743.4 755.0 L740.9 753.9 L738.4 752.8 L736.0 751.8 L733.6 750.8 L731.2 749.7 L728.9 748.7 L726.7 747.7 L724.4 746.8 L722.2 745.8 L720.1 744.8 L717.9 743.9 L715.8 743.0 L713.8 742.1 L711.8 741.2 L709.8 740.3 L707.9 739.4 L706.0 738.5 L704.1 737.6 L702.3 736.8 L700.5 735.9 L698.8 735.1 L697.1 734.2 L695.4 733.4 L693.7 732.6 L692.1 731.7 L690.6 730.9 L689.1 730.1 L687.6 729.3 L686.1 728.5 L684.7 727.7 L683.4 726.9 L682.0 726.1 L680.7 725.4 L679.5 724.6 L678.2 723.8 L677.1 723.0 L675.9 722.2 L674.8 721.5 L673.7 720.7 L672.7 719.9 L671.7 719.2 L670.7 718.4 L669.8 717.6 L668.9 716.9 L668.1 716.1 L667.3 715.3 L666.5 714.6 L665.8 713.8 L665.1 713.1 L664.4 712.3 L663.8 711.5 L663.2 710.8 L662.7 710.0 L662.2 709.3 L661.7 708.5 L661.3 707.7 L660.9 707.0 L660.5 706.2 L660.2 705.5 L659.9 704.7 L659.7 703.9 L659.5 703.2 L659.3 702.4 L659.2 701.7 L659.1 700.9 L659.0 700.2 L659.0 699.4 L659.0 698.6 L659.1 697.9 L659.2 697.1 L659.3 696.4 L659.5 695.6 L659.7 694.9 L659.9 694.1 L660.2 693.3 L660.5 692.6 L660.9 691.8 L661.3 691.1 L661.7 690.3 L662.2 689.5 L662.7 688.8 L663.2 688.0 L663.8 687.3 L664.4 686.5 L665.1 685.7 L665.8 685.0 L666.5 684.2 L667.3 683.5 L668.1 682.7 L668.9 681.9 L669.8 681.2 L670.7 680.4 L671.7 679.6 L672.7 678.9 L673.7 678.1 L674.8 677.3 L675.9 676.6 L677.1 675.8 L678.2 675.0 L679.5 674.2 L680.7 673.4 L682.0 672.7 L683.4 671.9 L684.7 671.1 L686.1 670.3 L687.6 669.5 L689.1 668.7 L690.6 667.9 L692.1 667.1 L693.7 666.2 L695.4 665.4 L697.1 664.6 L698.8 663.7 L700.5 662.9 L702.3 662.0 L704.1 661.2 L706.0 660.3 L707.9 659.4 L709.8 658.5 L711.8 657.6 L713.8 656.7 L715.8 655.8 L717.9 654.9 L720.1 654.0 L722.2 653.0 L724.4 652.0 L726.7 651.1 L728.9 650.1 L731.2 649.1 L733.6 648.0 L736.0 647.0 L738.4 646.0 L740.9 644.9 L743.4 643.8 L745.9 642.7 L748.5 641.6 L751.1 640.4 L753.7 639.3 L756.4 638.1 L759.1 636.9 L761.9 635.7 L764.7 634.5 L767.5 633.2 L770.4 631.9 L773.3 630.6 L776.3 629.3 L779.3 627.9 L782.3 626.6 L785.4 625.2 L788.5 623.7 L791.6 622.3 L794.8 620.8 L798.0 619.3 L801.2 617.8 L804.5 616.2 L807.9 614.7 L811.2 613.0 L814.6 611.4 L818.1 609.7 L821.5 608.1 L825.0 606.3 L828.6 604.6 L832.2 602.8 L835.8 601.0 L839.5 599.2 L843.2 597.3 L846.9 595.4 L850.7 593.5 L854.5 591.5 L858.4 589.5 L862.3 587.5 L866.2 585.4 L870.1 583.3 L874.1 581.2 L878.2 579.1 L882.3 576.9 L886.4 574.7 L890.5 572.5 L894.7 570.2 L899.0 567.9 L903.2 565.6 L907.5 563.2 L911.9 560.7 L916.2 558.2 L920.7 555.6 L925.1 553.0 L929.6 550.3 L934.1 547.6 L938.7 544.9 L943.3 542.2 L947.9 539.4 L952.6 536.6 L957.3 533.8 L962.1 530.9 L966.9 528.0 L971.7 525.1 L976.6 522.2 L981.5 519.2 L986.4 516.2 L991.4 513.2 L996.4 510.1 L1001.5 507.0 L1006.6 503.9 L1011.7 500.8 L1016.9 497.6 L1022.1 494.4 L1023.6 493.4 L1025.1 492.5 L1026.7 491.5 L1028.3 490.6 L1029.9 489.8 L1031.5 489.0 L1033.2 488.2 L1034.8 487.4 L1036.5 486.6 L1038.1 485.9 L1039.8 485.2 L1041.5 484.5 L1043.2 483.8 L1044.9 483.1 L1046.6 482.4 L1048.3 481.7 L1050.0 481.0 L1051.7 480.4 L1053.4 479.7 L1057.9 484.5 L1057.7 487.2 L1057.5 490.0 L1057.2 492.8 L1056.8 495.5 L1056.4 498.2 L1056.0 501.0 L1055.6 503.7 L1055.1 506.4 L1054.5 509.1 L1054.0 511.8 L1053.4 514.5 L1052.8 517.2 L1052.1 519.9 L1051.5 522.6 L1050.8 525.3 L1050.1 528.0 L1049.4 530.7 L1048.7 533.4 L1048.0 536.1 L1047.3 538.7 L1046.6 541.4 L1045.9 544.1 L1045.2 546.8 L1044.4 549.4 L1043.7 552.1 L1043.0 554.8 L1042.2 557.5 L1041.5 560.1 L1040.7 562.8 L1039.9 565.4 L1039.2 568.1 L1038.4 570.8 L1037.6 573.4 L1036.8 576.1 L1036.0 578.7 L1035.3 581.4 L1034.5 584.1 L1033.8 586.8 L1033.1 589.4 L1032.5 592.1 L1031.8 594.8 L1031.1 597.5 L1030.5 600.2 L1029.9 602.9 L1029.2 605.6 L1028.6 608.3 L1027.9 611.0 L1027.3 613.7 L1026.6 616.3 L1025.9 619.0 L1025.2 621.7 L1024.6 624.4 L1024.0 627.1 L1023.3 629.8 L1022.7 632.5 L1022.1 635.2 L1021.6 637.9 L1021.1 640.6 L1020.5 643.4 L1020.0 646.1 L1019.5 648.8 L1019.1 651.5 L1018.6 654.3 L1018.1 657.0 L1017.7 659.7 L1017.2 662.4 L1016.8 665.2 L1016.3 667.9 L1015.9 670.6 L1015.5 673.3 L1015.0 676.1 L1014.5 678.8 L1014.1 681.5 L1013.6 684.3 L1013.2 687.0 L1012.8 689.8 L1012.5 692.5 L1012.2 695.3 L1012.1 698.0 L1012.1 700.8 L1012.2 703.5 L1012.5 706.3 L1012.8 709.0 L1013.2 711.8 L1013.6 714.5 L1014.1 717.3 L1014.5 720.0 L1015.0 722.7 L1015.5 725.5 L1015.9 728.2 L1016.3 730.9 L1016.8 733.6 L1017.2 736.4 L1017.7 739.1 L1018.1 741.8 L1018.6 744.5 L1019.1 747.3 L1019.5 750.0 L1020.0 752.7 L1020.5 755.4 L1021.1 758.2 L1021.6 760.9 L1022.1 763.6 L1022.7 766.3 L1023.3 769.0 L1024.0 771.7 L1024.6 774.4 L1025.2 777.1 L1025.9 779.8 L1026.6 782.5 L1027.3 785.1 L1027.9 787.8 L1028.6 790.5 L1029.2 793.2 L1029.9 795.9 L1030.5 798.6 L1031.1 801.3 L1031.8 804.0 L1032.5 806.7 L1033.1 809.4 L1033.8 812.0 L1034.5 814.7 L1035.3 817.4 L1036.0 820.1 L1036.8 822.7 L1037.6 825.4 L1038.4 828.0 L1039.2 830.7 L1039.9 833.4 L1040.7 836.0 L1041.5 838.7 L1042.2 841.3 L1043.0 844.0 L1043.7 846.7 L1044.4 849.4 L1045.2 852.0 L1045.9 854.7 L1046.6 857.4 L1047.3 860.1 L1048.0 862.7 L1048.7 865.4 L1049.4 868.1 L1050.1 870.8 L1050.8 873.5 L1051.5 876.2 L1052.1 878.9 L1052.8 881.6 L1053.4 884.3 L1054.0 887.0 L1054.5 889.7 L1055.1 892.4 L1055.6 895.1 L1056.0 897.8 L1056.4 900.6 L1056.8 903.3 L1057.2 906.0 L1057.5 908.8 L1057.7 911.6 L1057.9 914.3Z"/></clipPath>
<clipPath id="lp4"><path d="M1193.4 1045.4 L1188.9 1045.4 L1184.3 1045.1 L1179.7 1044.7 L1175.2 1044.2 L1170.7 1043.6 L1166.2 1042.8 L1161.7 1041.9 L1157.3 1040.9 L1152.9 1039.7 L1148.5 1038.5 L1144.2 1037.1 L1139.9 1035.6 L1135.6 1034.0 L1131.4 1032.3 L1127.3 1030.4 L1123.2 1028.4 L1119.2 1026.3 L1115.3 1024.0 L1111.5 1021.7 L1107.8 1019.1 L1104.2 1016.4 L1100.7 1013.7 L1097.2 1010.8 L1093.9 1007.8 L1090.6 1004.7 L1087.5 1001.5 L1084.3 998.3 L1081.3 995.1 L1078.3 991.8 L1075.4 988.4 L1072.6 984.9 L1069.9 981.5 L1067.2 977.9 L1064.6 974.3 L1062.1 970.7 L1059.6 967.0 L1057.3 963.2 L1055.0 959.4 L1052.8 955.6 L1050.7 951.7 L1048.7 947.8 L1046.7 943.8 L1044.8 939.8 L1043.1 935.8 L1041.4 931.7 L1039.8 927.6 L1038.4 923.5 L1037.1 919.3 L1035.9 915.0 L1034.7 910.8 L1033.4 906.6 L1031.8 902.5 L1030.2 898.4 L1028.6 894.3 L1027.2 890.2 L1025.9 886.0 L1024.7 881.7 L1023.6 877.5 L1022.5 873.3 L1021.4 869.0 L1020.2 864.8 L1019.2 860.5 L1018.1 856.3 L1017.2 852.0 L1016.3 847.7 L1015.5 843.4 L1014.8 839.1 L1014.2 834.8 L1013.6 830.4 L1013.0 826.1 L1012.5 821.7 L1012.0 817.4 L1011.5 813.0 L1011.1 808.7 L1010.6 804.3 L1010.3 800.0 L1009.9 795.6 L1009.7 791.2 L1009.4 786.9 L1009.2 782.5 L1009.1 778.1 L1009.0 773.8 L1008.9 769.4 L1008.8 765.0 L1008.8 760.6 L1008.8 756.3 L1008.8 751.9 L1008.9 747.5 L1008.9 743.1 L1009.0 738.8 L1009.1 734.4 L1009.2 730.0 L1009.3 725.6 L1009.3 721.3 L1009.4 716.9 L1009.5 712.5 L1009.5 708.1 L1009.5 703.8 L1009.6 699.4 L1009.6 699.4 L1009.5 695.0 L1009.5 690.7 L1009.5 686.3 L1009.4 681.9 L1009.3 677.5 L1009.3 673.2 L1009.2 668.8 L1009.1 664.4 L1009.0 660.0 L1008.9 655.7 L1008.9 651.3 L1008.8 646.9 L1008.8 642.5 L1008.8 638.2 L1008.8 633.8 L1008.9 629.4 L1009.0 625.0 L1009.1 620.7 L1009.2 616.3 L1009.4 611.9 L1009.7 607.6 L1009.9 603.2 L1010.3 598.8 L1010.6 594.5 L1011.1 590.1 L1011.5 585.8 L1012.0 581.4 L1012.5 577.1 L1013.0 572.7 L1013.6 568.4 L1014.2 564.0 L1014.8 559.7 L1015.5 555.4 L1016.3 551.1 L1017.2 546.8 L1018.1 542.5 L1019.2 538.3 L1020.2 534.0 L1021.4 529.8 L1022.5 525.5 L1023.6 521.3 L1024.7 517.1 L1025.9 512.8 L1027.2 508.6 L1028.6 504.5 L1030.2 500.4 L1031.8 496.3 L1033.4 492.2 L1034.7 488.0 L1035.9 483.8 L1037.1 479.5 L1038.4 475.3 L1039.8 471.2 L1041.4 467.1 L1043.1 463.0 L1044.8 459.0 L1046.7 455.0 L1048.7 451.0 L1050.7 447.1 L1052.8 443.2 L1055.0 439.4 L1057.3 435.6 L1059.6 431.8 L1062.1 428.1 L1064.6 424.5 L1067.2 420.9 L1069.9 417.3 L1072.6 413.9 L1075.4 410.4 L1078.3 407.0 L1081.3 403.7 L1084.3 400.5 L1087.5 397.3 L1090.6 394.1 L1093.9 391.0 L1097.2 388.0 L1100.7 385.1 L1104.2 382.4 L1107.8 379.7 L1111.5 377.1 L1115.3 374.8 L1119.2 372.5 L1123.2 370.4 L1127.3 368.4 L1131.4 366.5 L1135.6 364.8 L1139.9 363.2 L1144.2 361.7 L1148.5 360.3 L1152.9 359.1 L1157.3 357.9 L1161.7 356.9 L1166.2 356.0 L1170.7 355.2 L1175.2 354.6 L1179.7 354.1 L1184.3 353.7 L1188.9 353.4 L1193.4 353.4 L533.8 218.6 L533.8 1180.2Z"/></clipPath>
<g clip-path="url(#dp4)"><g clip-path="url(#lp4)">
<rect x="658.6" y="489.2" width="532.7" height="420.6" fill="#bc0cf8"/>
<path d="M1410.2 690.4 L1015.8 690.4 L886.3 690.4 L666.7 258.2 L1410.2 98.4Z" fill="#30b858"/>
<path d="M1410.2 708.4 L1015.8 708.4 L886.3 708.4 L666.7 1140.6 L1410.2 1300.4Z" fill="#5888a0"/>
<path d="M1410.2 670.4 L1015.8 670.4 L900.7 670.4 L661.7 247.9 L1410.2 98.4Z" fill="#d8f0a0"/>
<path d="M1410.2 728.4 L1015.8 728.4 L900.7 728.4 L661.7 1150.9 L1410.2 1300.4Z" fill="#40c8d0"/>
<path d="M1410.2 650.4 L1015.8 650.4 L915.2 650.4 L676.2 227.8 L1410.2 98.4Z" fill="#88e018"/>
<path d="M1410.2 748.4 L1015.8 748.4 L915.2 748.4 L676.2 1171.0 L1410.2 1300.4Z" fill="#1010d0"/>
<path d="M1410.2 631.6 L1015.8 631.6 L929.5 630.6 L690.5 208.1 L1410.2 98.4Z" fill="#30e888"/>
<path d="M1410.2 767.2 L1015.8 767.2 L929.5 768.2 L690.5 1190.7 L1410.2 1300.4Z" fill="#7028b8"/>
<path d="M1410.2 615.4 L1015.8 615.4 L941.9 613.4 L703.0 190.8 L1410.2 98.4Z" fill="#00d8b8"/>
<path d="M1410.2 783.4 L1015.8 783.4 L941.9 785.4 L703.0 1208.0 L1410.2 1300.4Z" fill="#7840d0"/>
<path d="M1410.2 598.0 L1015.8 598.0 L955.3 594.9 L716.3 172.4 L1410.2 98.4Z" fill="#e0a868"/>
<path d="M1410.2 800.8 L1015.8 800.8 L955.3 803.9 L716.3 1226.4 L1410.2 1300.4Z" fill="#e8c088"/>
<path d="M1410.2 580.4 L1015.8 580.4 L967.9 577.4 L729.0 154.9 L1410.2 98.4Z" fill="#98a890"/>
<path d="M1410.2 818.4 L1015.8 818.4 L967.9 821.4 L729.0 1243.9 L1410.2 1300.4Z" fill="#a89890"/>
<path d="M1410.2 564.2 L1015.8 564.2 L979.7 561.2 L740.7 138.6 L1410.2 98.4Z" fill="#d84820"/>
<path d="M1410.2 834.6 L1015.8 834.6 L979.7 837.6 L740.7 1260.2 L1410.2 1300.4Z" fill="#80f8f0"/>
<path d="M1410.2 547.9 L1015.8 547.9 L991.4 544.9 L752.5 122.4 L1410.2 98.4Z" fill="#b03860"/>
<path d="M1410.2 850.9 L1015.8 850.9 L991.4 853.9 L752.5 1276.4 L1410.2 1300.4Z" fill="#a010d0"/>
<path d="M1410.2 534.1 L1015.8 534.1 L1001.4 531.1 L762.4 108.6 L1410.2 98.4Z" fill="#e01878"/>
<path d="M1410.2 864.7 L1015.8 864.7 L1001.4 867.7 L762.4 1290.2 L1410.2 1300.4Z" fill="#e0e098"/>
<path d="M1410.2 520.4 L1015.8 520.4 L1011.3 517.4 L772.4 94.9 L1410.2 98.4Z" fill="#f05858"/>
<path d="M1410.2 878.4 L1015.8 878.4 L1011.3 881.4 L772.4 1303.9 L1410.2 1300.4Z" fill="#d8a088"/>
<path d="M1410.2 506.6 L1015.8 506.6 L1021.3 503.6 L782.3 81.1 L1410.2 98.4Z" fill="#30b050"/>
<path d="M1410.2 892.2 L1015.8 892.2 L1021.3 895.2 L782.3 1317.7 L1410.2 1300.4Z" fill="#10a030"/>
<path d="M1410.2 497.9 L1015.8 497.9 L1027.6 494.9 L788.6 72.4 L1410.2 98.4Z" fill="#30b050"/>
<path d="M1410.2 900.9 L1015.8 900.9 L1027.6 903.9 L788.6 1326.4 L1410.2 1300.4Z" fill="#10a030"/>
<path d="M408.6 939.8 L765.9 939.8 L768.5 933.8 L771.2 927.8 L773.8 921.8 L776.5 915.8 L779.1 909.8 L781.8 903.7 L784.4 897.7 L787.1 891.7 L789.7 885.7 L792.4 879.7 L795.0 873.7 L797.7 867.7 L800.3 861.7 L803.0 855.7 L805.6 849.6 L808.3 843.6 L810.9 837.6 L813.6 831.6 L816.2 825.6 L818.9 819.6 L821.5 813.6 L824.1 807.6 L826.8 801.6 L829.4 795.6 L832.1 789.5 L834.7 783.5 L837.3 777.5 L839.9 771.5 L842.6 765.5 L845.2 759.5 L847.8 753.5 L850.4 747.5 L852.9 741.5 L855.5 735.5 L858.0 729.4 L860.4 723.4 L862.7 717.4 L864.8 711.4 L866.3 705.4 L867.0 699.4 L866.3 693.4 L864.8 687.4 L862.7 681.4 L860.4 675.4 L858.0 669.4 L855.5 663.3 L852.9 657.3 L850.4 651.3 L847.8 645.3 L845.2 639.3 L842.6 633.3 L839.9 627.3 L837.3 621.3 L834.7 615.3 L832.1 609.2 L829.4 603.2 L826.8 597.2 L824.1 591.2 L821.5 585.2 L818.9 579.2 L816.2 573.2 L813.6 567.2 L810.9 561.2 L808.3 555.2 L805.6 549.1 L803.0 543.1 L800.3 537.1 L797.7 531.1 L795.0 525.1 L792.4 519.1 L789.7 513.1 L787.1 507.1 L784.4 501.1 L781.8 495.1 L779.1 489.0 L776.5 483.0 L773.8 477.0 L771.2 471.0 L768.5 465.0 L765.9 459.0 L408.6 459.0Z" fill="#6c3273"/>
<path d="M408.6 939.8 L751.0 939.8 L753.5 933.8 L756.0 927.8 L758.5 921.8 L761.1 915.8 L763.6 909.8 L766.1 903.7 L768.6 897.7 L771.1 891.7 L773.6 885.7 L776.1 879.7 L778.6 873.7 L781.2 867.7 L783.7 861.7 L786.2 855.7 L788.7 849.6 L791.2 843.6 L793.7 837.6 L796.2 831.6 L798.7 825.6 L801.2 819.6 L803.7 813.6 L806.2 807.6 L808.7 801.6 L811.2 795.6 L813.7 789.5 L816.2 783.5 L818.7 777.5 L821.2 771.5 L823.7 765.5 L826.2 759.5 L828.6 753.5 L831.1 747.5 L833.5 741.5 L835.9 735.5 L838.3 729.4 L840.6 723.4 L842.8 717.4 L844.7 711.4 L846.2 705.4 L846.8 699.4 L846.2 693.4 L844.7 687.4 L842.8 681.4 L840.6 675.4 L838.3 669.4 L835.9 663.3 L833.5 657.3 L831.1 651.3 L828.6 645.3 L826.2 639.3 L823.7 633.3 L821.2 627.3 L818.7 621.3 L816.2 615.3 L813.7 609.2 L811.2 603.2 L808.7 597.2 L806.2 591.2 L803.7 585.2 L801.2 579.2 L798.7 573.2 L796.2 567.2 L793.7 561.2 L791.2 555.2 L788.7 549.1 L786.2 543.1 L783.7 537.1 L781.2 531.1 L778.6 525.1 L776.1 519.1 L773.6 513.1 L771.1 507.1 L768.6 501.1 L766.1 495.1 L763.6 489.0 L761.1 483.0 L758.5 477.0 L756.0 471.0 L753.5 465.0 L751.0 459.0 L408.6 459.0Z" fill="#5feb2d"/>
<path d="M408.6 939.8 L736.2 939.8 L738.6 933.8 L741.0 927.8 L743.3 921.8 L745.7 915.8 L748.1 909.8 L750.5 903.7 L752.8 897.7 L755.2 891.7 L757.6 885.7 L760.0 879.7 L762.3 873.7 L764.7 867.7 L767.1 861.7 L769.5 855.7 L771.8 849.6 L774.2 843.6 L776.6 837.6 L778.9 831.6 L781.3 825.6 L783.7 819.6 L786.1 813.6 L788.4 807.6 L790.8 801.6 L793.1 795.6 L795.5 789.5 L797.9 783.5 L800.2 777.5 L802.6 771.5 L804.9 765.5 L807.3 759.5 L809.6 753.5 L811.9 747.5 L814.2 741.5 L816.5 735.5 L818.7 729.4 L820.9 723.4 L822.9 717.4 L824.8 711.4 L826.2 705.4 L826.8 699.4 L826.2 693.4 L824.8 687.4 L822.9 681.4 L820.9 675.4 L818.7 669.4 L816.5 663.3 L814.2 657.3 L811.9 651.3 L809.6 645.3 L807.3 639.3 L804.9 633.3 L802.6 627.3 L800.2 621.3 L797.9 615.3 L795.5 609.2 L793.1 603.2 L790.8 597.2 L788.4 591.2 L786.1 585.2 L783.7 579.2 L781.3 573.2 L778.9 567.2 L776.6 561.2 L774.2 555.2 L771.8 549.1 L769.5 543.1 L767.1 537.1 L764.7 531.1 L762.3 525.1 L760.0 519.1 L757.6 513.1 L755.2 507.1 L752.8 501.1 L750.5 495.1 L748.1 489.0 L745.7 483.0 L743.3 477.0 L741.0 471.0 L738.6 465.0 L736.2 459.0 L408.6 459.0Z" fill="#083090"/>
<path d="M408.6 939.8 L721.9 939.8 L724.1 933.8 L726.4 927.8 L728.6 921.8 L730.9 915.8 L733.1 909.8 L735.4 903.7 L737.6 897.7 L739.9 891.7 L742.1 885.7 L744.3 879.7 L746.6 873.7 L748.8 867.7 L751.1 861.7 L753.3 855.7 L755.6 849.6 L757.8 843.6 L760.0 837.6 L762.3 831.6 L764.5 825.6 L766.8 819.6 L769.0 813.6 L771.2 807.6 L773.5 801.6 L775.7 795.6 L777.9 789.5 L780.2 783.5 L782.4 777.5 L784.6 771.5 L786.8 765.5 L789.0 759.5 L791.2 753.5 L793.4 747.5 L795.6 741.5 L797.8 735.5 L799.9 729.4 L801.9 723.4 L803.9 717.4 L805.6 711.4 L807.0 705.4 L807.5 699.4 L807.0 693.4 L805.6 687.4 L803.9 681.4 L801.9 675.4 L799.9 669.4 L797.8 663.3 L795.6 657.3 L793.4 651.3 L791.2 645.3 L789.0 639.3 L786.8 633.3 L784.6 627.3 L782.4 621.3 L780.2 615.3 L777.9 609.2 L775.7 603.2 L773.5 597.2 L771.2 591.2 L769.0 585.2 L766.8 579.2 L764.5 573.2 L762.3 567.2 L760.0 561.2 L757.8 555.2 L755.6 549.1 L753.3 543.1 L751.1 537.1 L748.8 531.1 L746.6 525.1 L744.3 519.1 L742.1 513.1 L739.9 507.1 L737.6 501.1 L735.4 495.1 L733.1 489.0 L730.9 483.0 L728.6 477.0 L726.4 471.0 L724.1 465.0 L721.9 459.0 L408.6 459.0Z" fill="#388870"/>
<path d="M408.6 939.8 L707.3 939.8 L709.4 933.8 L711.5 927.8 L713.7 921.8 L715.8 915.8 L717.9 909.8 L720.0 903.7 L722.1 897.7 L724.2 891.7 L726.4 885.7 L728.5 879.7 L730.6 873.7 L732.7 867.7 L734.8 861.7 L736.9 855.7 L739.0 849.6 L741.2 843.6 L743.3 837.6 L745.4 831.6 L747.5 825.6 L749.6 819.6 L751.7 813.6 L753.8 807.6 L755.9 801.6 L758.0 795.6 L760.1 789.5 L762.2 783.5 L764.3 777.5 L766.4 771.5 L768.5 765.5 L770.6 759.5 L772.7 753.5 L774.7 747.5 L776.8 741.5 L778.8 735.5 L780.8 729.4 L782.7 723.4 L784.6 717.4 L786.2 711.4 L787.5 705.4 L788.0 699.4 L787.5 693.4 L786.2 687.4 L784.6 681.4 L782.7 675.4 L780.8 669.4 L778.8 663.3 L776.8 657.3 L774.7 651.3 L772.7 645.3 L770.6 639.3 L768.5 633.3 L766.4 627.3 L764.3 621.3 L762.2 615.3 L760.1 609.2 L758.0 603.2 L755.9 597.2 L753.8 591.2 L751.7 585.2 L749.6 579.2 L747.5 573.2 L745.4 567.2 L743.3 561.2 L741.2 555.2 L739.0 549.1 L736.9 543.1 L734.8 537.1 L732.7 531.1 L730.6 525.1 L728.5 519.1 L726.4 513.1 L724.2 507.1 L722.1 501.1 L720.0 495.1 L717.9 489.0 L715.8 483.0 L713.7 477.0 L711.5 471.0 L709.4 465.0 L707.3 459.0 L408.6 459.0Z" fill="#80f890"/>
<path d="M408.6 939.8 L694.8 939.8 L696.8 933.8 L698.9 927.8 L700.9 921.8 L702.9 915.8 L704.9 909.8 L706.9 903.7 L708.9 897.7 L710.9 891.7 L712.9 885.7 L714.9 879.7 L716.9 873.7 L718.9 867.7 L720.9 861.7 L722.9 855.7 L724.9 849.6 L726.9 843.6 L728.9 837.6 L730.9 831.6 L732.9 825.6 L734.9 819.6 L736.9 813.6 L738.9 807.6 L740.9 801.6 L742.9 795.6 L744.9 789.5 L746.9 783.5 L748.9 777.5 L750.9 771.5 L752.9 765.5 L754.8 759.5 L756.8 753.5 L758.8 747.5 L760.7 741.5 L762.6 735.5 L764.5 729.4 L766.3 723.4 L768.1 717.4 L769.6 711.4 L770.8 705.4 L771.3 699.4 L770.8 693.4 L769.6 687.4 L768.1 681.4 L766.3 675.4 L764.5 669.4 L762.6 663.3 L760.7 657.3 L758.8 651.3 L756.8 645.3 L754.8 639.3 L752.9 633.3 L750.9 627.3 L748.9 621.3 L746.9 615.3 L744.9 609.2 L742.9 603.2 L740.9 597.2 L738.9 591.2 L736.9 585.2 L734.9 579.2 L732.9 573.2 L730.9 567.2 L728.9 561.2 L726.9 555.2 L724.9 549.1 L722.9 543.1 L720.9 537.1 L718.9 531.1 L716.9 525.1 L714.9 519.1 L712.9 513.1 L710.9 507.1 L708.9 501.1 L706.9 495.1 L704.9 489.0 L702.9 483.0 L700.9 477.0 L698.9 471.0 L696.8 465.0 L694.8 459.0 L408.6 459.0Z" fill="#30e080"/>
<path d="M408.6 939.8 L683.1 939.8 L685.0 933.8 L686.9 927.8 L688.8 921.8 L690.7 915.8 L692.6 909.8 L694.5 903.7 L696.4 897.7 L698.3 891.7 L700.2 885.7 L702.1 879.7 L704.0 873.7 L705.9 867.7 L707.8 861.7 L709.7 855.7 L711.6 849.6 L713.5 843.6 L715.4 837.6 L717.3 831.6 L719.2 825.6 L721.1 819.6 L723.0 813.6 L724.9 807.6 L726.8 801.6 L728.7 795.6 L730.6 789.5 L732.5 783.5 L734.4 777.5 L736.3 771.5 L738.1 765.5 L740.0 759.5 L741.9 753.5 L743.7 747.5 L745.6 741.5 L747.4 735.5 L749.2 729.4 L750.9 723.4 L752.6 717.4 L754.1 711.4 L755.2 705.4 L755.7 699.4 L755.2 693.4 L754.1 687.4 L752.6 681.4 L750.9 675.4 L749.2 669.4 L747.4 663.3 L745.6 657.3 L743.7 651.3 L741.9 645.3 L740.0 639.3 L738.1 633.3 L736.3 627.3 L734.4 621.3 L732.5 615.3 L730.6 609.2 L728.7 603.2 L726.8 597.2 L724.9 591.2 L723.0 585.2 L721.1 579.2 L719.2 573.2 L717.3 567.2 L715.4 561.2 L713.5 555.2 L711.6 549.1 L709.7 543.1 L707.8 537.1 L705.9 531.1 L704.0 525.1 L702.1 519.1 L700.2 513.1 L698.3 507.1 L696.4 501.1 L694.5 495.1 L692.6 489.0 L690.7 483.0 L688.8 477.0 L686.9 471.0 L685.0 465.0 L683.1 459.0 L408.6 459.0Z" fill="#2050c8"/>
<path d="M408.6 939.8 L671.8 939.8 L673.6 933.8 L675.4 927.8 L677.2 921.8 L679.0 915.8 L680.8 909.8 L682.6 903.7 L684.4 897.7 L686.2 891.7 L688.0 885.7 L689.8 879.7 L691.6 873.7 L693.4 867.7 L695.2 861.7 L697.0 855.7 L698.9 849.6 L700.7 843.6 L702.5 837.6 L704.3 831.6 L706.1 825.6 L707.9 819.6 L709.7 813.6 L711.5 807.6 L713.3 801.6 L715.1 795.6 L716.9 789.5 L718.7 783.5 L720.4 777.5 L722.2 771.5 L724.0 765.5 L725.8 759.5 L727.6 753.5 L729.3 747.5 L731.1 741.5 L732.8 735.5 L734.5 729.4 L736.2 723.4 L737.7 717.4 L739.1 711.4 L740.2 705.4 L740.6 699.4 L740.2 693.4 L739.1 687.4 L737.7 681.4 L736.2 675.4 L734.5 669.4 L732.8 663.3 L731.1 657.3 L729.3 651.3 L727.6 645.3 L725.8 639.3 L724.0 633.3 L722.2 627.3 L720.4 621.3 L718.7 615.3 L716.9 609.2 L715.1 603.2 L713.3 597.2 L711.5 591.2 L709.7 585.2 L707.9 579.2 L706.1 573.2 L704.3 567.2 L702.5 561.2 L700.7 555.2 L698.9 549.1 L697.0 543.1 L695.2 537.1 L693.4 531.1 L691.6 525.1 L689.8 519.1 L688.0 513.1 L686.2 507.1 L684.4 501.1 L682.6 495.1 L680.8 489.0 L679.0 483.0 L677.2 477.0 L675.4 471.0 L673.6 465.0 L671.8 459.0 L408.6 459.0Z" fill="#e8c050"/>
<path d="M408.6 939.8 L661.4 939.8 L663.2 933.8 L664.9 927.8 L666.6 921.8 L668.4 915.8 L670.1 909.8 L671.8 903.7 L673.6 897.7 L675.3 891.7 L677.0 885.7 L678.8 879.7 L680.5 873.7 L682.2 867.7 L684.0 861.7 L685.7 855.7 L687.4 849.6 L689.1 843.6 L690.9 837.6 L692.6 831.6 L694.3 825.6 L696.1 819.6 L697.8 813.6 L699.5 807.6 L701.2 801.6 L703.0 795.6 L704.7 789.5 L706.4 783.5 L708.1 777.5 L709.8 771.5 L711.5 765.5 L713.3 759.5 L715.0 753.5 L716.6 747.5 L718.3 741.5 L720.0 735.5 L721.6 729.4 L723.2 723.4 L724.7 717.4 L726.0 711.4 L727.1 705.4 L727.5 699.4 L727.1 693.4 L726.0 687.4 L724.7 681.4 L723.2 675.4 L721.6 669.4 L720.0 663.3 L718.3 657.3 L716.6 651.3 L715.0 645.3 L713.3 639.3 L711.5 633.3 L709.8 627.3 L708.1 621.3 L706.4 615.3 L704.7 609.2 L703.0 603.2 L701.2 597.2 L699.5 591.2 L697.8 585.2 L696.1 579.2 L694.3 573.2 L692.6 567.2 L690.9 561.2 L689.1 555.2 L687.4 549.1 L685.7 543.1 L684.0 537.1 L682.2 531.1 L680.5 525.1 L678.8 519.1 L677.0 513.1 L675.3 507.1 L673.6 501.1 L671.8 495.1 L670.1 489.0 L668.4 483.0 L666.6 477.0 L664.9 471.0 L663.2 465.0 L661.4 459.0 L408.6 459.0Z" fill="#d82038"/>
<path d="M408.6 939.8 L648.9 939.8 L650.6 933.8 L652.4 927.8 L654.1 921.8 L655.8 915.8 L657.6 909.8 L659.3 903.7 L661.0 897.7 L662.8 891.7 L664.5 885.7 L666.2 879.7 L668.0 873.7 L669.7 867.7 L671.4 861.7 L673.2 855.7 L674.9 849.6 L676.6 843.6 L678.4 837.6 L680.1 831.6 L681.8 825.6 L683.5 819.6 L685.3 813.6 L687.0 807.6 L688.7 801.6 L690.4 795.6 L692.2 789.5 L693.9 783.5 L695.6 777.5 L697.3 771.5 L699.0 765.5 L700.7 759.5 L702.4 753.5 L704.1 747.5 L705.8 741.5 L707.5 735.5 L709.1 729.4 L710.7 723.4 L712.2 717.4 L713.5 711.4 L714.6 705.4 L715.0 699.4 L714.6 693.4 L713.5 687.4 L712.2 681.4 L710.7 675.4 L709.1 669.4 L707.5 663.3 L705.8 657.3 L704.1 651.3 L702.4 645.3 L700.7 639.3 L699.0 633.3 L697.3 627.3 L695.6 621.3 L693.9 615.3 L692.2 609.2 L690.4 603.2 L688.7 597.2 L687.0 591.2 L685.3 585.2 L683.5 579.2 L681.8 573.2 L680.1 567.2 L678.4 561.2 L676.6 555.2 L674.9 549.1 L673.2 543.1 L671.4 537.1 L669.7 531.1 L668.0 525.1 L666.2 519.1 L664.5 513.1 L662.8 507.1 L661.0 501.1 L659.3 495.1 L657.6 489.0 L655.8 483.0 L654.1 477.0 L652.4 471.0 L650.6 465.0 L648.9 459.0 L408.6 459.0Z" fill="#88f810"/>
<path d="M408.6 939.8 L637.0 939.8 L638.7 933.8 L640.5 927.8 L642.2 921.8 L643.9 915.8 L645.7 909.8 L647.4 903.7 L649.1 897.7 L650.9 891.7 L652.6 885.7 L654.3 879.7 L656.1 873.7 L657.8 867.7 L659.5 861.7 L661.3 855.7 L663.0 849.6 L664.7 843.6 L666.5 837.6 L668.2 831.6 L669.9 825.6 L671.6 819.6 L673.4 813.6 L675.1 807.6 L676.8 801.6 L678.5 795.6 L680.3 789.5 L682.0 783.5 L683.7 777.5 L685.4 771.5 L687.1 765.5 L688.8 759.5 L690.5 753.5 L692.2 747.5 L693.9 741.5 L695.6 735.5 L697.2 729.4 L698.8 723.4 L700.3 717.4 L701.6 711.4 L702.7 705.4 L703.1 699.4 L702.7 693.4 L701.6 687.4 L700.3 681.4 L698.8 675.4 L697.2 669.4 L695.6 663.3 L693.9 657.3 L692.2 651.3 L690.5 645.3 L688.8 639.3 L687.1 633.3 L685.4 627.3 L683.7 621.3 L682.0 615.3 L680.3 609.2 L678.5 603.2 L676.8 597.2 L675.1 591.2 L673.4 585.2 L671.6 579.2 L669.9 573.2 L668.2 567.2 L666.5 561.2 L664.7 555.2 L663.0 549.1 L661.3 543.1 L659.5 537.1 L657.8 531.1 L656.1 525.1 L654.3 519.1 L652.6 513.1 L650.9 507.1 L649.1 501.1 L647.4 495.1 L645.7 489.0 L643.9 483.0 L642.2 477.0 L640.5 471.0 L638.7 465.0 L637.0 459.0 L408.6 459.0Z" fill="#f020b8"/>
<path d="M408.6 939.8 L627.7 939.8 L629.5 933.8 L631.2 927.8 L633.0 921.8 L634.7 915.8 L636.4 909.8 L638.1 903.7 L639.9 897.7 L641.6 891.7 L643.3 885.7 L645.1 879.7 L646.8 873.7 L648.5 867.7 L650.3 861.7 L652.0 855.7 L653.7 849.6 L655.5 843.6 L657.2 837.6 L658.9 831.6 L660.7 825.6 L662.4 819.6 L664.1 813.6 L665.8 807.6 L667.6 801.6 L669.3 795.6 L671.0 789.5 L672.7 783.5 L674.4 777.5 L676.2 771.5 L677.9 765.5 L679.6 759.5 L681.3 753.5 L683.0 747.5 L684.6 741.5 L686.3 735.5 L687.9 729.4 L689.5 723.4 L691.0 717.4 L692.4 711.4 L693.4 705.4 L693.8 699.4 L693.4 693.4 L692.4 687.4 L691.0 681.4 L689.5 675.4 L687.9 669.4 L686.3 663.3 L684.6 657.3 L683.0 651.3 L681.3 645.3 L679.6 639.3 L677.9 633.3 L676.2 627.3 L674.4 621.3 L672.7 615.3 L671.0 609.2 L669.3 603.2 L667.6 597.2 L665.8 591.2 L664.1 585.2 L662.4 579.2 L660.7 573.2 L658.9 567.2 L657.2 561.2 L655.5 555.2 L653.7 549.1 L652.0 543.1 L650.3 537.1 L648.5 531.1 L646.8 525.1 L645.1 519.1 L643.3 513.1 L641.6 507.1 L639.9 501.1 L638.1 495.1 L636.4 489.0 L634.7 483.0 L633.0 477.0 L631.2 471.0 L629.5 465.0 L627.7 459.0 L408.6 459.0Z" fill="#c89810"/>
<path d="M408.6 939.8 L619.0 939.8 L620.7 933.8 L622.5 927.8 L624.2 921.8 L625.9 915.8 L627.7 909.8 L629.4 903.7 L631.1 897.7 L632.9 891.7 L634.6 885.7 L636.3 879.7 L638.0 873.7 L639.8 867.7 L641.5 861.7 L643.2 855.7 L645.0 849.6 L646.7 843.6 L648.4 837.6 L650.2 831.6 L651.9 825.6 L653.6 819.6 L655.3 813.6 L657.1 807.6 L658.8 801.6 L660.5 795.6 L662.2 789.5 L664.0 783.5 L665.7 777.5 L667.4 771.5 L669.1 765.5 L670.8 759.5 L672.5 753.5 L674.2 747.5 L675.9 741.5 L677.5 735.5 L679.2 729.4 L680.7 723.4 L682.3 717.4 L683.6 711.4 L684.6 705.4 L685.0 699.4 L684.6 693.4 L683.6 687.4 L682.3 681.4 L680.7 675.4 L679.2 669.4 L677.5 663.3 L675.9 657.3 L674.2 651.3 L672.5 645.3 L670.8 639.3 L669.1 633.3 L667.4 627.3 L665.7 621.3 L664.0 615.3 L662.2 609.2 L660.5 603.2 L658.8 597.2 L657.1 591.2 L655.3 585.2 L653.6 579.2 L651.9 573.2 L650.2 567.2 L648.4 561.2 L646.7 555.2 L645.0 549.1 L643.2 543.1 L641.5 537.1 L639.8 531.1 L638.0 525.1 L636.3 519.1 L634.6 513.1 L632.9 507.1 L631.1 501.1 L629.4 495.1 L627.7 489.0 L625.9 483.0 L624.2 477.0 L622.5 471.0 L620.7 465.0 L619.0 459.0 L408.6 459.0Z" fill="#c86828"/>
<path d="M408.6 939.8 L611.7 939.8 L613.4 933.8 L615.1 927.8 L616.9 921.8 L618.6 915.8 L620.3 909.8 L622.1 903.7 L623.8 897.7 L625.5 891.7 L627.3 885.7 L629.0 879.7 L630.7 873.7 L632.5 867.7 L634.2 861.7 L635.9 855.7 L637.7 849.6 L639.4 843.6 L641.1 837.6 L642.8 831.6 L644.6 825.6 L646.3 819.6 L648.0 813.6 L649.8 807.6 L651.5 801.6 L653.2 795.6 L654.9 789.5 L656.7 783.5 L658.4 777.5 L660.1 771.5 L661.8 765.5 L663.5 759.5 L665.2 753.5 L666.9 747.5 L668.6 741.5 L670.3 735.5 L672.0 729.4 L673.6 723.4 L675.1 717.4 L676.6 711.4 L677.7 705.4 L678.2 699.4 L677.7 693.4 L676.6 687.4 L675.1 681.4 L673.6 675.4 L672.0 669.4 L670.3 663.3 L668.6 657.3 L666.9 651.3 L665.2 645.3 L663.5 639.3 L661.8 633.3 L660.1 627.3 L658.4 621.3 L656.7 615.3 L654.9 609.2 L653.2 603.2 L651.5 597.2 L649.8 591.2 L648.0 585.2 L646.3 579.2 L644.6 573.2 L642.8 567.2 L641.1 561.2 L639.4 555.2 L637.7 549.1 L635.9 543.1 L634.2 537.1 L632.5 531.1 L630.7 525.1 L629.0 519.1 L627.3 513.1 L625.5 507.1 L623.8 501.1 L622.1 495.1 L620.3 489.0 L618.6 483.0 L616.9 477.0 L615.1 471.0 L613.4 465.0 L611.7 459.0 L408.6 459.0Z" fill="#500850"/>
<path d="M408.6 939.8 L605.3 939.8 L607.0 933.8 L608.7 927.8 L610.5 921.8 L612.2 915.8 L613.9 909.8 L615.7 903.7 L617.4 897.7 L619.1 891.7 L620.9 885.7 L622.6 879.7 L624.3 873.7 L626.1 867.7 L627.8 861.7 L629.6 855.7 L631.3 849.6 L633.0 843.6 L634.8 837.6 L636.5 831.6 L638.2 825.6 L640.0 819.6 L641.7 813.6 L643.4 807.6 L645.1 801.6 L646.9 795.6 L648.6 789.5 L650.3 783.5 L652.1 777.5 L653.8 771.5 L655.5 765.5 L657.2 759.5 L659.0 753.5 L660.7 747.5 L662.4 741.5 L664.1 735.5 L665.8 729.4 L667.5 723.4 L669.1 717.4 L670.6 711.4 L671.9 705.4 L672.5 699.4 L671.9 693.4 L670.6 687.4 L669.1 681.4 L667.5 675.4 L665.8 669.4 L664.1 663.3 L662.4 657.3 L660.7 651.3 L659.0 645.3 L657.2 639.3 L655.5 633.3 L653.8 627.3 L652.1 621.3 L650.3 615.3 L648.6 609.2 L646.9 603.2 L645.1 597.2 L643.4 591.2 L641.7 585.2 L640.0 579.2 L638.2 573.2 L636.5 567.2 L634.8 561.2 L633.0 555.2 L631.3 549.1 L629.6 543.1 L627.8 537.1 L626.1 531.1 L624.3 525.1 L622.6 519.1 L620.9 513.1 L619.1 507.1 L617.4 501.1 L615.7 495.1 L613.9 489.0 L612.2 483.0 L610.5 477.0 L608.7 471.0 L607.0 465.0 L605.3 459.0 L408.6 459.0Z" fill="#1870d0"/>
<path d="M408.6 939.8 L601.0 939.8 L602.7 933.8 L604.5 927.8 L606.2 921.8 L607.9 915.8 L609.7 909.8 L611.4 903.7 L613.2 897.7 L614.9 891.7 L616.6 885.7 L618.4 879.7 L620.1 873.7 L621.8 867.7 L623.6 861.7 L625.3 855.7 L627.0 849.6 L628.8 843.6 L630.5 837.6 L632.2 831.6 L634.0 825.6 L635.7 819.6 L637.4 813.6 L639.2 807.6 L640.9 801.6 L642.6 795.6 L644.4 789.5 L646.1 783.5 L647.8 777.5 L649.6 771.5 L651.3 765.5 L653.0 759.5 L654.8 753.5 L656.5 747.5 L658.2 741.5 L659.9 735.5 L661.6 729.4 L663.3 723.4 L665.0 717.4 L666.6 711.4 L668.0 705.4 L668.8 699.4 L668.0 693.4 L666.6 687.4 L665.0 681.4 L663.3 675.4 L661.6 669.4 L659.9 663.3 L658.2 657.3 L656.5 651.3 L654.8 645.3 L653.0 639.3 L651.3 633.3 L649.6 627.3 L647.8 621.3 L646.1 615.3 L644.4 609.2 L642.6 603.2 L640.9 597.2 L639.2 591.2 L637.4 585.2 L635.7 579.2 L634.0 573.2 L632.2 567.2 L630.5 561.2 L628.8 555.2 L627.0 549.1 L625.3 543.1 L623.6 537.1 L621.8 531.1 L620.1 525.1 L618.4 519.1 L616.6 513.1 L614.9 507.1 L613.2 501.1 L611.4 495.1 L609.7 489.0 L607.9 483.0 L606.2 477.0 L604.5 471.0 L602.7 465.0 L601.0 459.0 L408.6 459.0Z" fill="#f8f090"/>
<path d="M408.6 939.8 L594.6 939.8 L596.3 933.8 L598.1 927.8 L599.8 921.8 L601.5 915.8 L603.3 909.8 L605.0 903.7 L606.8 897.7 L608.5 891.7 L610.2 885.7 L612.0 879.7 L613.7 873.7 L615.4 867.7 L617.2 861.7 L618.9 855.7 L620.6 849.6 L622.4 843.6 L624.1 837.6 L625.8 831.6 L627.6 825.6 L629.3 819.6 L631.1 813.6 L632.8 807.6 L634.5 801.6 L636.3 795.6 L638.0 789.5 L639.7 783.5 L641.5 777.5 L643.2 771.5 L644.9 765.5 L646.7 759.5 L648.4 753.5 L650.1 747.5 L651.9 741.5 L653.6 735.5 L655.3 729.4 L657.0 723.4 L658.8 717.4 L660.5 711.4 L662.1 705.4 L663.1 699.4 L662.1 693.4 L660.5 687.4 L658.8 681.4 L657.0 675.4 L655.3 669.4 L653.6 663.3 L651.9 657.3 L650.1 651.3 L648.4 645.3 L646.7 639.3 L644.9 633.3 L643.2 627.3 L641.5 621.3 L639.7 615.3 L638.0 609.2 L636.3 603.2 L634.5 597.2 L632.8 591.2 L631.1 585.2 L629.3 579.2 L627.6 573.2 L625.8 567.2 L624.1 561.2 L622.4 555.2 L620.6 549.1 L618.9 543.1 L617.2 537.1 L615.4 531.1 L613.7 525.1 L612.0 519.1 L610.2 513.1 L608.5 507.1 L606.8 501.1 L605.0 495.1 L603.3 489.0 L601.5 483.0 L599.8 477.0 L598.1 471.0 L596.3 465.0 L594.6 459.0 L408.6 459.0Z" fill="#c010a0"/>
<g fill="none" stroke-width="2.30" stroke-dasharray="1.90 4.20" stroke-opacity="0.8">
<path d="M1015.8 690.4 L886.3 690.4 L666.7 258.2" stroke="#bc0cf8"/>
<path d="M1015.8 708.4 L886.3 708.4 L666.7 1140.6" stroke="#bc0cf8"/>
<path d="M1015.8 670.4 L900.7 670.4 L661.7 247.9" stroke="#d8f0a0"/>
<path d="M1015.8 728.4 L900.7 728.4 L661.7 1150.9" stroke="#40c8d0"/>
<path d="M1015.8 650.4 L915.2 650.4 L676.2 227.8" stroke="#d8f0a0"/>
<path d="M1015.8 748.4 L915.2 748.4 L676.2 1171.0" stroke="#40c8d0"/>
<path d="M1015.8 631.6 L929.5 630.6 L690.5 208.1" stroke="#30e888"/>
<path d="M1015.8 767.2 L929.5 768.2 L690.5 1190.7" stroke="#7028b8"/>
<path d="M1015.8 615.4 L941.9 613.4 L703.0 190.8" stroke="#30e888"/>
<path d="M1015.8 783.4 L941.9 785.4 L703.0 1208.0" stroke="#7028b8"/>
<path d="M1015.8 598.0 L955.3 594.9 L716.3 172.4" stroke="#e0a868"/>
<path d="M1015.8 800.8 L955.3 803.9 L716.3 1226.4" stroke="#e8c088"/>
<path d="M1015.8 580.4 L967.9 577.4 L729.0 154.9" stroke="#e0a868"/>
<path d="M1015.8 818.4 L967.9 821.4 L729.0 1243.9" stroke="#e8c088"/>
<path d="M1015.8 564.2 L979.7 561.2 L740.7 138.6" stroke="#d84820"/>
<path d="M1015.8 834.6 L979.7 837.6 L740.7 1260.2" stroke="#80f8f0"/>
<path d="M1015.8 547.9 L991.4 544.9 L752.5 122.4" stroke="#d84820"/>
<path d="M1015.8 850.9 L991.4 853.9 L752.5 1276.4" stroke="#80f8f0"/>
<path d="M1015.8 534.1 L1001.4 531.1 L762.4 108.6" stroke="#e01878"/>
<path d="M1015.8 864.7 L1001.4 867.7 L762.4 1290.2" stroke="#e0e098"/>
<path d="M1015.8 520.4 L1011.3 517.4 L772.4 94.9" stroke="#e01878"/>
<path d="M1015.8 878.4 L1011.3 881.4 L772.4 1303.9" stroke="#e0e098"/>
<path d="M1015.8 506.6 L1021.3 503.6 L782.3 81.1" stroke="#30b050"/>
<path d="M1015.8 892.2 L1021.3 895.2 L782.3 1317.7" stroke="#10a030"/>
<path d="M1015.8 497.9 L1027.6 494.9 L788.6 72.4" stroke="#30b050"/>
<path d="M1015.8 900.9 L1027.6 903.9 L788.6 1326.4" stroke="#10a030"/>
<path d="M765.9 939.8 L768.5 933.8 L771.2 927.8 L773.8 921.8 L776.5 915.8 L779.1 909.8 L781.8 903.7 L784.4 897.7 L787.1 891.7 L789.7 885.7 L792.4 879.7 L795.0 873.7 L797.7 867.7 L800.3 861.7 L803.0 855.7 L805.6 849.6 L808.3 843.6 L810.9 837.6 L813.6 831.6 L816.2 825.6 L818.9 819.6 L821.5 813.6 L824.1 807.6 L826.8 801.6 L829.4 795.6 L832.1 789.5 L834.7 783.5 L837.3 777.5 L839.9 771.5 L842.6 765.5 L845.2 759.5 L847.8 753.5 L850.4 747.5 L852.9 741.5 L855.5 735.5 L858.0 729.4 L860.4 723.4 L862.7 717.4 L864.8 711.4 L866.3 705.4 L867.0 699.4 L866.3 693.4 L864.8 687.4 L862.7 681.4 L860.4 675.4 L858.0 669.4 L855.5 663.3 L852.9 657.3 L850.4 651.3 L847.8 645.3 L845.2 639.3 L842.6 633.3 L839.9 627.3 L837.3 621.3 L834.7 615.3 L832.1 609.2 L829.4 603.2 L826.8 597.2 L824.1 591.2 L821.5 585.2 L818.9 579.2 L816.2 573.2 L813.6 567.2 L810.9 561.2 L808.3 555.2 L805.6 549.1 L803.0 543.1 L800.3 537.1 L797.7 531.1 L795.0 525.1 L792.4 519.1 L789.7 513.1 L787.1 507.1 L784.4 501.1 L781.8 495.1 L779.1 489.0 L776.5 483.0 L773.8 477.0 L771.2 471.0 L768.5 465.0 L765.9 459.0" stroke="#6c3273"/>
<path d="M751.0 939.8 L753.5 933.8 L756.0 927.8 L758.5 921.8 L761.1 915.8 L763.6 909.8 L766.1 903.7 L768.6 897.7 L771.1 891.7 L773.6 885.7 L776.1 879.7 L778.6 873.7 L781.2 867.7 L783.7 861.7 L786.2 855.7 L788.7 849.6 L791.2 843.6 L793.7 837.6 L796.2 831.6 L798.7 825.6 L801.2 819.6 L803.7 813.6 L806.2 807.6 L808.7 801.6 L811.2 795.6 L813.7 789.5 L816.2 783.5 L818.7 777.5 L821.2 771.5 L823.7 765.5 L826.2 759.5 L828.6 753.5 L831.1 747.5 L833.5 741.5 L835.9 735.5 L838.3 729.4 L840.6 723.4 L842.8 717.4 L844.7 711.4 L846.2 705.4 L846.8 699.4 L846.2 693.4 L844.7 687.4 L842.8 681.4 L840.6 675.4 L838.3 669.4 L835.9 663.3 L833.5 657.3 L831.1 651.3 L828.6 645.3 L826.2 639.3 L823.7 633.3 L821.2 627.3 L818.7 621.3 L816.2 615.3 L813.7 609.2 L811.2 603.2 L808.7 597.2 L806.2 591.2 L803.7 585.2 L801.2 579.2 L798.7 573.2 L796.2 567.2 L793.7 561.2 L791.2 555.2 L788.7 549.1 L786.2 543.1 L783.7 537.1 L781.2 531.1 L778.6 525.1 L776.1 519.1 L773.6 513.1 L771.1 507.1 L768.6 501.1 L766.1 495.1 L763.6 489.0 L761.1 483.0 L758.5 477.0 L756.0 471.0 L753.5 465.0 L751.0 459.0" stroke="#5feb2d"/>
<path d="M736.2 939.8 L738.6 933.8 L741.0 927.8 L743.3 921.8 L745.7 915.8 L748.1 909.8 L750.5 903.7 L752.8 897.7 L755.2 891.7 L757.6 885.7 L760.0 879.7 L762.3 873.7 L764.7 867.7 L767.1 861.7 L769.5 855.7 L771.8 849.6 L774.2 843.6 L776.6 837.6 L778.9 831.6 L781.3 825.6 L783.7 819.6 L786.1 813.6 L788.4 807.6 L790.8 801.6 L793.1 795.6 L795.5 789.5 L797.9 783.5 L800.2 777.5 L802.6 771.5 L804.9 765.5 L807.3 759.5 L809.6 753.5 L811.9 747.5 L814.2 741.5 L816.5 735.5 L818.7 729.4 L820.9 723.4 L822.9 717.4 L824.8 711.4 L826.2 705.4 L826.8 699.4 L826.2 693.4 L824.8 687.4 L822.9 681.4 L820.9 675.4 L818.7 669.4 L816.5 663.3 L814.2 657.3 L811.9 651.3 L809.6 645.3 L807.3 639.3 L804.9 633.3 L802.6 627.3 L800.2 621.3 L797.9 615.3 L795.5 609.2 L793.1 603.2 L790.8 597.2 L788.4 591.2 L786.1 585.2 L783.7 579.2 L781.3 573.2 L778.9 567.2 L776.6 561.2 L774.2 555.2 L771.8 549.1 L769.5 543.1 L767.1 537.1 L764.7 531.1 L762.3 525.1 L760.0 519.1 L757.6 513.1 L755.2 507.1 L752.8 501.1 L750.5 495.1 L748.1 489.0 L745.7 483.0 L743.3 477.0 L741.0 471.0 L738.6 465.0 L736.2 459.0" stroke="#083090"/>
<path d="M721.9 939.8 L724.1 933.8 L726.4 927.8 L728.6 921.8 L730.9 915.8 L733.1 909.8 L735.4 903.7 L737.6 897.7 L739.9 891.7 L742.1 885.7 L744.3 879.7 L746.6 873.7 L748.8 867.7 L751.1 861.7 L753.3 855.7 L755.6 849.6 L757.8 843.6 L760.0 837.6 L762.3 831.6 L764.5 825.6 L766.8 819.6 L769.0 813.6 L771.2 807.6 L773.5 801.6 L775.7 795.6 L777.9 789.5 L780.2 783.5 L782.4 777.5 L784.6 771.5 L786.8 765.5 L789.0 759.5 L791.2 753.5 L793.4 747.5 L795.6 741.5 L797.8 735.5 L799.9 729.4 L801.9 723.4 L803.9 717.4 L805.6 711.4 L807.0 705.4 L807.5 699.4 L807.0 693.4 L805.6 687.4 L803.9 681.4 L801.9 675.4 L799.9 669.4 L797.8 663.3 L795.6 657.3 L793.4 651.3 L791.2 645.3 L789.0 639.3 L786.8 633.3 L784.6 627.3 L782.4 621.3 L780.2 615.3 L777.9 609.2 L775.7 603.2 L773.5 597.2 L771.2 591.2 L769.0 585.2 L766.8 579.2 L764.5 573.2 L762.3 567.2 L760.0 561.2 L757.8 555.2 L755.6 549.1 L753.3 543.1 L751.1 537.1 L748.8 531.1 L746.6 525.1 L744.3 519.1 L742.1 513.1 L739.9 507.1 L737.6 501.1 L735.4 495.1 L733.1 489.0 L730.9 483.0 L728.6 477.0 L726.4 471.0 L724.1 465.0 L721.9 459.0" stroke="#388870"/>
<path d="M707.3 939.8 L709.4 933.8 L711.5 927.8 L713.7 921.8 L715.8 915.8 L717.9 909.8 L720.0 903.7 L722.1 897.7 L724.2 891.7 L726.4 885.7 L728.5 879.7 L730.6 873.7 L732.7 867.7 L734.8 861.7 L736.9 855.7 L739.0 849.6 L741.2 843.6 L743.3 837.6 L745.4 831.6 L747.5 825.6 L749.6 819.6 L751.7 813.6 L753.8 807.6 L755.9 801.6 L758.0 795.6 L760.1 789.5 L762.2 783.5 L764.3 777.5 L766.4 771.5 L768.5 765.5 L770.6 759.5 L772.7 753.5 L774.7 747.5 L776.8 741.5 L778.8 735.5 L780.8 729.4 L782.7 723.4 L784.6 717.4 L786.2 711.4 L787.5 705.4 L788.0 699.4 L787.5 693.4 L786.2 687.4 L784.6 681.4 L782.7 675.4 L780.8 669.4 L778.8 663.3 L776.8 657.3 L774.7 651.3 L772.7 645.3 L770.6 639.3 L768.5 633.3 L766.4 627.3 L764.3 621.3 L762.2 615.3 L760.1 609.2 L758.0 603.2 L755.9 597.2 L753.8 591.2 L751.7 585.2 L749.6 579.2 L747.5 573.2 L745.4 567.2 L743.3 561.2 L741.2 555.2 L739.0 549.1 L736.9 543.1 L734.8 537.1 L732.7 531.1 L730.6 525.1 L728.5 519.1 L726.4 513.1 L724.2 507.1 L722.1 501.1 L720.0 495.1 L717.9 489.0 L715.8 483.0 L713.7 477.0 L711.5 471.0 L709.4 465.0 L707.3 459.0" stroke="#80f890"/>
<path d="M694.8 939.8 L696.8 933.8 L698.9 927.8 L700.9 921.8 L702.9 915.8 L704.9 909.8 L706.9 903.7 L708.9 897.7 L710.9 891.7 L712.9 885.7 L714.9 879.7 L716.9 873.7 L718.9 867.7 L720.9 861.7 L722.9 855.7 L724.9 849.6 L726.9 843.6 L728.9 837.6 L730.9 831.6 L732.9 825.6 L734.9 819.6 L736.9 813.6 L738.9 807.6 L740.9 801.6 L742.9 795.6 L744.9 789.5 L746.9 783.5 L748.9 777.5 L750.9 771.5 L752.9 765.5 L754.8 759.5 L756.8 753.5 L758.8 747.5 L760.7 741.5 L762.6 735.5 L764.5 729.4 L766.3 723.4 L768.1 717.4 L769.6 711.4 L770.8 705.4 L771.3 699.4 L770.8 693.4 L769.6 687.4 L768.1 681.4 L766.3 675.4 L764.5 669.4 L762.6 663.3 L760.7 657.3 L758.8 651.3 L756.8 645.3 L754.8 639.3 L752.9 633.3 L750.9 627.3 L748.9 621.3 L746.9 615.3 L744.9 609.2 L742.9 603.2 L740.9 597.2 L738.9 591.2 L736.9 585.2 L734.9 579.2 L732.9 573.2 L730.9 567.2 L728.9 561.2 L726.9 555.2 L724.9 549.1 L722.9 543.1 L720.9 537.1 L718.9 531.1 L716.9 525.1 L714.9 519.1 L712.9 513.1 L710.9 507.1 L708.9 501.1 L706.9 495.1 L704.9 489.0 L702.9 483.0 L700.9 477.0 L698.9 471.0 L696.8 465.0 L694.8 459.0" stroke="#30e080"/>
<path d="M683.1 939.8 L685.0 933.8 L686.9 927.8 L688.8 921.8 L690.7 915.8 L692.6 909.8 L694.5 903.7 L696.4 897.7 L698.3 891.7 L700.2 885.7 L702.1 879.7 L704.0 873.7 L705.9 867.7 L707.8 861.7 L709.7 855.7 L711.6 849.6 L713.5 843.6 L715.4 837.6 L717.3 831.6 L719.2 825.6 L721.1 819.6 L723.0 813.6 L724.9 807.6 L726.8 801.6 L728.7 795.6 L730.6 789.5 L732.5 783.5 L734.4 777.5 L736.3 771.5 L738.1 765.5 L740.0 759.5 L741.9 753.5 L743.7 747.5 L745.6 741.5 L747.4 735.5 L749.2 729.4 L750.9 723.4 L752.6 717.4 L754.1 711.4 L755.2 705.4 L755.7 699.4 L755.2 693.4 L754.1 687.4 L752.6 681.4 L750.9 675.4 L749.2 669.4 L747.4 663.3 L745.6 657.3 L743.7 651.3 L741.9 645.3 L740.0 639.3 L738.1 633.3 L736.3 627.3 L734.4 621.3 L732.5 615.3 L730.6 609.2 L728.7 603.2 L726.8 597.2 L724.9 591.2 L723.0 585.2 L721.1 579.2 L719.2 573.2 L717.3 567.2 L715.4 561.2 L713.5 555.2 L711.6 549.1 L709.7 543.1 L707.8 537.1 L705.9 531.1 L704.0 525.1 L702.1 519.1 L700.2 513.1 L698.3 507.1 L696.4 501.1 L694.5 495.1 L692.6 489.0 L690.7 483.0 L688.8 477.0 L686.9 471.0 L685.0 465.0 L683.1 459.0" stroke="#2050c8"/>
<path d="M671.8 939.8 L673.6 933.8 L675.4 927.8 L677.2 921.8 L679.0 915.8 L680.8 909.8 L682.6 903.7 L684.4 897.7 L686.2 891.7 L688.0 885.7 L689.8 879.7 L691.6 873.7 L693.4 867.7 L695.2 861.7 L697.0 855.7 L698.9 849.6 L700.7 843.6 L702.5 837.6 L704.3 831.6 L706.1 825.6 L707.9 819.6 L709.7 813.6 L711.5 807.6 L713.3 801.6 L715.1 795.6 L716.9 789.5 L718.7 783.5 L720.4 777.5 L722.2 771.5 L724.0 765.5 L725.8 759.5 L727.6 753.5 L729.3 747.5 L731.1 741.5 L732.8 735.5 L734.5 729.4 L736.2 723.4 L737.7 717.4 L739.1 711.4 L740.2 705.4 L740.6 699.4 L740.2 693.4 L739.1 687.4 L737.7 681.4 L736.2 675.4 L734.5 669.4 L732.8 663.3 L731.1 657.3 L729.3 651.3 L727.6 645.3 L725.8 639.3 L724.0 633.3 L722.2 627.3 L720.4 621.3 L718.7 615.3 L716.9 609.2 L715.1 603.2 L713.3 597.2 L711.5 591.2 L709.7 585.2 L707.9 579.2 L706.1 573.2 L704.3 567.2 L702.5 561.2 L700.7 555.2 L698.9 549.1 L697.0 543.1 L695.2 537.1 L693.4 531.1 L691.6 525.1 L689.8 519.1 L688.0 513.1 L686.2 507.1 L684.4 501.1 L682.6 495.1 L680.8 489.0 L679.0 483.0 L677.2 477.0 L675.4 471.0 L673.6 465.0 L671.8 459.0" stroke="#e8c050"/>
<path d="M661.4 939.8 L663.2 933.8 L664.9 927.8 L666.6 921.8 L668.4 915.8 L670.1 909.8 L671.8 903.7 L673.6 897.7 L675.3 891.7 L677.0 885.7 L678.8 879.7 L680.5 873.7 L682.2 867.7 L684.0 861.7 L685.7 855.7 L687.4 849.6 L689.1 843.6 L690.9 837.6 L692.6 831.6 L694.3 825.6 L696.1 819.6 L697.8 813.6 L699.5 807.6 L701.2 801.6 L703.0 795.6 L704.7 789.5 L706.4 783.5 L708.1 777.5 L709.8 771.5 L711.5 765.5 L713.3 759.5 L715.0 753.5 L716.6 747.5 L718.3 741.5 L720.0 735.5 L721.6 729.4 L723.2 723.4 L724.7 717.4 L726.0 711.4 L727.1 705.4 L727.5 699.4 L727.1 693.4 L726.0 687.4 L724.7 681.4 L723.2 675.4 L721.6 669.4 L720.0 663.3 L718.3 657.3 L716.6 651.3 L715.0 645.3 L713.3 639.3 L711.5 633.3 L709.8 627.3 L708.1 621.3 L706.4 615.3 L704.7 609.2 L703.0 603.2 L701.2 597.2 L699.5 591.2 L697.8 585.2 L696.1 579.2 L694.3 573.2 L692.6 567.2 L690.9 561.2 L689.1 555.2 L687.4 549.1 L685.7 543.1 L684.0 537.1 L682.2 531.1 L680.5 525.1 L678.8 519.1 L677.0 513.1 L675.3 507.1 L673.6 501.1 L671.8 495.1 L670.1 489.0 L668.4 483.0 L666.6 477.0 L664.9 471.0 L663.2 465.0 L661.4 459.0" stroke="#d82038"/>
<path d="M648.9 939.8 L650.6 933.8 L652.4 927.8 L654.1 921.8 L655.8 915.8 L657.6 909.8 L659.3 903.7 L661.0 897.7 L662.8 891.7 L664.5 885.7 L666.2 879.7 L668.0 873.7 L669.7 867.7 L671.4 861.7 L673.2 855.7 L674.9 849.6 L676.6 843.6 L678.4 837.6 L680.1 831.6 L681.8 825.6 L683.5 819.6 L685.3 813.6 L687.0 807.6 L688.7 801.6 L690.4 795.6 L692.2 789.5 L693.9 783.5 L695.6 777.5 L697.3 771.5 L699.0 765.5 L700.7 759.5 L702.4 753.5 L704.1 747.5 L705.8 741.5 L707.5 735.5 L709.1 729.4 L710.7 723.4 L712.2 717.4 L713.5 711.4 L714.6 705.4 L715.0 699.4 L714.6 693.4 L713.5 687.4 L712.2 681.4 L710.7 675.4 L709.1 669.4 L707.5 663.3 L705.8 657.3 L704.1 651.3 L702.4 645.3 L700.7 639.3 L699.0 633.3 L697.3 627.3 L695.6 621.3 L693.9 615.3 L692.2 609.2 L690.4 603.2 L688.7 597.2 L687.0 591.2 L685.3 585.2 L683.5 579.2 L681.8 573.2 L680.1 567.2 L678.4 561.2 L676.6 555.2 L674.9 549.1 L673.2 543.1 L671.4 537.1 L669.7 531.1 L668.0 525.1 L666.2 519.1 L664.5 513.1 L662.8 507.1 L661.0 501.1 L659.3 495.1 L657.6 489.0 L655.8 483.0 L654.1 477.0 L652.4 471.0 L650.6 465.0 L648.9 459.0" stroke="#88f810"/>
<path d="M637.0 939.8 L638.7 933.8 L640.5 927.8 L642.2 921.8 L643.9 915.8 L645.7 909.8 L647.4 903.7 L649.1 897.7 L650.9 891.7 L652.6 885.7 L654.3 879.7 L656.1 873.7 L657.8 867.7 L659.5 861.7 L661.3 855.7 L663.0 849.6 L664.7 843.6 L666.5 837.6 L668.2 831.6 L669.9 825.6 L671.6 819.6 L673.4 813.6 L675.1 807.6 L676.8 801.6 L678.5 795.6 L680.3 789.5 L682.0 783.5 L683.7 777.5 L685.4 771.5 L687.1 765.5 L688.8 759.5 L690.5 753.5 L692.2 747.5 L693.9 741.5 L695.6 735.5 L697.2 729.4 L698.8 723.4 L700.3 717.4 L701.6 711.4 L702.7 705.4 L703.1 699.4 L702.7 693.4 L701.6 687.4 L700.3 681.4 L698.8 675.4 L697.2 669.4 L695.6 663.3 L693.9 657.3 L692.2 651.3 L690.5 645.3 L688.8 639.3 L687.1 633.3 L685.4 627.3 L683.7 621.3 L682.0 615.3 L680.3 609.2 L678.5 603.2 L676.8 597.2 L675.1 591.2 L673.4 585.2 L671.6 579.2 L669.9 573.2 L668.2 567.2 L666.5 561.2 L664.7 555.2 L663.0 549.1 L661.3 543.1 L659.5 537.1 L657.8 531.1 L656.1 525.1 L654.3 519.1 L652.6 513.1 L650.9 507.1 L649.1 501.1 L647.4 495.1 L645.7 489.0 L643.9 483.0 L642.2 477.0 L640.5 471.0 L638.7 465.0 L637.0 459.0" stroke="#f020b8"/>
<path d="M627.7 939.8 L629.5 933.8 L631.2 927.8 L633.0 921.8 L634.7 915.8 L636.4 909.8 L638.1 903.7 L639.9 897.7 L641.6 891.7 L643.3 885.7 L645.1 879.7 L646.8 873.7 L648.5 867.7 L650.3 861.7 L652.0 855.7 L653.7 849.6 L655.5 843.6 L657.2 837.6 L658.9 831.6 L660.7 825.6 L662.4 819.6 L664.1 813.6 L665.8 807.6 L667.6 801.6 L669.3 795.6 L671.0 789.5 L672.7 783.5 L674.4 777.5 L676.2 771.5 L677.9 765.5 L679.6 759.5 L681.3 753.5 L683.0 747.5 L684.6 741.5 L686.3 735.5 L687.9 729.4 L689.5 723.4 L691.0 717.4 L692.4 711.4 L693.4 705.4 L693.8 699.4 L693.4 693.4 L692.4 687.4 L691.0 681.4 L689.5 675.4 L687.9 669.4 L686.3 663.3 L684.6 657.3 L683.0 651.3 L681.3 645.3 L679.6 639.3 L677.9 633.3 L676.2 627.3 L674.4 621.3 L672.7 615.3 L671.0 609.2 L669.3 603.2 L667.6 597.2 L665.8 591.2 L664.1 585.2 L662.4 579.2 L660.7 573.2 L658.9 567.2 L657.2 561.2 L655.5 555.2 L653.7 549.1 L652.0 543.1 L650.3 537.1 L648.5 531.1 L646.8 525.1 L645.1 519.1 L643.3 513.1 L641.6 507.1 L639.9 501.1 L638.1 495.1 L636.4 489.0 L634.7 483.0 L633.0 477.0 L631.2 471.0 L629.5 465.0 L627.7 459.0" stroke="#c89810"/>
<path d="M619.0 939.8 L620.7 933.8 L622.5 927.8 L624.2 921.8 L625.9 915.8 L627.7 909.8 L629.4 903.7 L631.1 897.7 L632.9 891.7 L634.6 885.7 L636.3 879.7 L638.0 873.7 L639.8 867.7 L641.5 861.7 L643.2 855.7 L645.0 849.6 L646.7 843.6 L648.4 837.6 L650.2 831.6 L651.9 825.6 L653.6 819.6 L655.3 813.6 L657.1 807.6 L658.8 801.6 L660.5 795.6 L662.2 789.5 L664.0 783.5 L665.7 777.5 L667.4 771.5 L669.1 765.5 L670.8 759.5 L672.5 753.5 L674.2 747.5 L675.9 741.5 L677.5 735.5 L679.2 729.4 L680.7 723.4 L682.3 717.4 L683.6 711.4 L684.6 705.4 L685.0 699.4 L684.6 693.4 L683.6 687.4 L682.3 681.4 L680.7 675.4 L679.2 669.4 L677.5 663.3 L675.9 657.3 L674.2 651.3 L672.5 645.3 L670.8 639.3 L669.1 633.3 L667.4 627.3 L665.7 621.3 L664.0 615.3 L662.2 609.2 L660.5 603.2 L658.8 597.2 L657.1 591.2 L655.3 585.2 L653.6 579.2 L651.9 573.2 L650.2 567.2 L648.4 561.2 L646.7 555.2 L645.0 549.1 L643.2 543.1 L641.5 537.1 L639.8 531.1 L638.0 525.1 L636.3 519.1 L634.6 513.1 L632.9 507.1 L631.1 501.1 L629.4 495.1 L627.7 489.0 L625.9 483.0 L624.2 477.0 L622.5 471.0 L620.7 465.0 L619.0 459.0" stroke="#c86828"/>
<path d="M611.7 939.8 L613.4 933.8 L615.1 927.8 L616.9 921.8 L618.6 915.8 L620.3 909.8 L622.1 903.7 L623.8 897.7 L625.5 891.7 L627.3 885.7 L629.0 879.7 L630.7 873.7 L632.5 867.7 L634.2 861.7 L635.9 855.7 L637.7 849.6 L639.4 843.6 L641.1 837.6 L642.8 831.6 L644.6 825.6 L646.3 819.6 L648.0 813.6 L649.8 807.6 L651.5 801.6 L653.2 795.6 L654.9 789.5 L656.7 783.5 L658.4 777.5 L660.1 771.5 L661.8 765.5 L663.5 759.5 L665.2 753.5 L666.9 747.5 L668.6 741.5 L670.3 735.5 L672.0 729.4 L673.6 723.4 L675.1 717.4 L676.6 711.4 L677.7 705.4 L678.2 699.4 L677.7 693.4 L676.6 687.4 L675.1 681.4 L673.6 675.4 L672.0 669.4 L670.3 663.3 L668.6 657.3 L666.9 651.3 L665.2 645.3 L663.5 639.3 L661.8 633.3 L660.1 627.3 L658.4 621.3 L656.7 615.3 L654.9 609.2 L653.2 603.2 L651.5 597.2 L649.8 591.2 L648.0 585.2 L646.3 579.2 L644.6 573.2 L642.8 567.2 L641.1 561.2 L639.4 555.2 L637.7 549.1 L635.9 543.1 L634.2 537.1 L632.5 531.1 L630.7 525.1 L629.0 519.1 L627.3 513.1 L625.5 507.1 L623.8 501.1 L622.1 495.1 L620.3 489.0 L618.6 483.0 L616.9 477.0 L615.1 471.0 L613.4 465.0 L611.7 459.0" stroke="#500850"/>
<path d="M605.3 939.8 L607.0 933.8 L608.7 927.8 L610.5 921.8 L612.2 915.8 L613.9 909.8 L615.7 903.7 L617.4 897.7 L619.1 891.7 L620.9 885.7 L622.6 879.7 L624.3 873.7 L626.1 867.7 L627.8 861.7 L629.6 855.7 L631.3 849.6 L633.0 843.6 L634.8 837.6 L636.5 831.6 L638.2 825.6 L640.0 819.6 L641.7 813.6 L643.4 807.6 L645.1 801.6 L646.9 795.6 L648.6 789.5 L650.3 783.5 L652.1 777.5 L653.8 771.5 L655.5 765.5 L657.2 759.5 L659.0 753.5 L660.7 747.5 L662.4 741.5 L664.1 735.5 L665.8 729.4 L667.5 723.4 L669.1 717.4 L670.6 711.4 L671.9 705.4 L672.5 699.4 L671.9 693.4 L670.6 687.4 L669.1 681.4 L667.5 675.4 L665.8 669.4 L664.1 663.3 L662.4 657.3 L660.7 651.3 L659.0 645.3 L657.2 639.3 L655.5 633.3 L653.8 627.3 L652.1 621.3 L650.3 615.3 L648.6 609.2 L646.9 603.2 L645.1 597.2 L643.4 591.2 L641.7 585.2 L640.0 579.2 L638.2 573.2 L636.5 567.2 L634.8 561.2 L633.0 555.2 L631.3 549.1 L629.6 543.1 L627.8 537.1 L626.1 531.1 L624.3 525.1 L622.6 519.1 L620.9 513.1 L619.1 507.1 L617.4 501.1 L615.7 495.1 L613.9 489.0 L612.2 483.0 L610.5 477.0 L608.7 471.0 L607.0 465.0 L605.3 459.0" stroke="#1870d0"/>
<path d="M601.0 939.8 L602.7 933.8 L604.5 927.8 L606.2 921.8 L607.9 915.8 L609.7 909.8 L611.4 903.7 L613.2 897.7 L614.9 891.7 L616.6 885.7 L618.4 879.7 L620.1 873.7 L621.8 867.7 L623.6 861.7 L625.3 855.7 L627.0 849.6 L628.8 843.6 L630.5 837.6 L632.2 831.6 L634.0 825.6 L635.7 819.6 L637.4 813.6 L639.2 807.6 L640.9 801.6 L642.6 795.6 L644.4 789.5 L646.1 783.5 L647.8 777.5 L649.6 771.5 L651.3 765.5 L653.0 759.5 L654.8 753.5 L656.5 747.5 L658.2 741.5 L659.9 735.5 L661.6 729.4 L663.3 723.4 L665.0 717.4 L666.6 711.4 L668.0 705.4 L668.8 699.4 L668.0 693.4 L666.6 687.4 L665.0 681.4 L663.3 675.4 L661.6 669.4 L659.9 663.3 L658.2 657.3 L656.5 651.3 L654.8 645.3 L653.0 639.3 L651.3 633.3 L649.6 627.3 L647.8 621.3 L646.1 615.3 L644.4 609.2 L642.6 603.2 L640.9 597.2 L639.2 591.2 L637.4 585.2 L635.7 579.2 L634.0 573.2 L632.2 567.2 L630.5 561.2 L628.8 555.2 L627.0 549.1 L625.3 543.1 L623.6 537.1 L621.8 531.1 L620.1 525.1 L618.4 519.1 L616.6 513.1 L614.9 507.1 L613.2 501.1 L611.4 495.1 L609.7 489.0 L607.9 483.0 L606.2 477.0 L604.5 471.0 L602.7 465.0 L601.0 459.0" stroke="#f8f090"/>
<path d="M594.6 939.8 L596.3 933.8 L598.1 927.8 L599.8 921.8 L601.5 915.8 L603.3 909.8 L605.0 903.7 L606.8 897.7 L608.5 891.7 L610.2 885.7 L612.0 879.7 L613.7 873.7 L615.4 867.7 L617.2 861.7 L618.9 855.7 L620.6 849.6 L622.4 843.6 L624.1 837.6 L625.8 831.6 L627.6 825.6 L629.3 819.6 L631.1 813.6 L632.8 807.6 L634.5 801.6 L636.3 795.6 L638.0 789.5 L639.7 783.5 L641.5 777.5 L643.2 771.5 L644.9 765.5 L646.7 759.5 L648.4 753.5 L650.1 747.5 L651.9 741.5 L653.6 735.5 L655.3 729.4 L657.0 723.4 L658.8 717.4 L660.5 711.4 L662.1 705.4 L663.1 699.4 L662.1 693.4 L660.5 687.4 L658.8 681.4 L657.0 675.4 L655.3 669.4 L653.6 663.3 L651.9 657.3 L650.1 651.3 L648.4 645.3 L646.7 639.3 L644.9 633.3 L643.2 627.3 L641.5 621.3 L639.7 615.3 L638.0 609.2 L636.3 603.2 L634.5 597.2 L632.8 591.2 L631.1 585.2 L629.3 579.2 L627.6 573.2 L625.8 567.2 L624.1 561.2 L622.4 555.2 L620.6 549.1 L618.9 543.1 L617.2 537.1 L615.4 531.1 L613.7 525.1 L612.0 519.1 L610.2 513.1 L608.5 507.1 L606.8 501.1 L605.0 495.1 L603.3 489.0 L601.5 483.0 L599.8 477.0 L598.1 471.0 L596.3 465.0 L594.6 459.0" stroke="#c010a0"/>
</g>
</g></g>
<g fill="#4b4b4b">
<ellipse cx="1030.9" cy="572.9" rx="2.8" ry="5.8" transform="rotate(-44 1030.9 572.9)"/>
<ellipse cx="1036.4" cy="526.6" rx="1.7" ry="3.7" transform="rotate(-32 1036.4 526.6)"/>
<ellipse cx="1046.4" cy="514.6" rx="2.6" ry="2.8" transform="rotate(-27 1046.4 514.6)"/>
<ellipse cx="1038.6" cy="496.1" rx="2.9" ry="6.7" transform="rotate(-21 1038.6 496.1)"/>
<ellipse cx="1048.2" cy="521.3" rx="2.2" ry="5.0" transform="rotate(-43 1048.2 521.3)"/>
<ellipse cx="1027.3" cy="566.0" rx="3.8" ry="5.5" transform="rotate(-32 1027.3 566.0)"/>
<ellipse cx="1028.4" cy="558.2" rx="2.6" ry="4.6" transform="rotate(-29 1028.4 558.2)"/>
<ellipse cx="1048.5" cy="501.7" rx="2.4" ry="5.1" transform="rotate(-27 1048.5 501.7)"/>
<ellipse cx="1030.9" cy="534.2" rx="3.5" ry="4.2" transform="rotate(-31 1030.9 534.2)"/>
<ellipse cx="1038.3" cy="511.3" rx="4.2" ry="3.3" transform="rotate(-39 1038.3 511.3)"/>
<ellipse cx="1031.9" cy="537.0" rx="3.4" ry="4.9" transform="rotate(-30 1031.9 537.0)"/>
<ellipse cx="1015.8" cy="584.7" rx="3.6" ry="4.9" transform="rotate(-37 1015.8 584.7)"/>
<ellipse cx="1048.7" cy="492.5" rx="1.7" ry="3.9" transform="rotate(-35 1048.7 492.5)"/>
<rect x="1038.4" y="555.5" width="3.1" height="3.2"/>
<rect x="1042.9" y="530.8" width="1.5" height="1.9"/>
<rect x="1039.8" y="532.0" width="2.2" height="1.5"/>
<rect x="1026.3" y="544.1" width="1.8" height="1.6"/>
<rect x="1030.8" y="535.9" width="2.7" height="3.1"/>
<rect x="1033.9" y="525.4" width="2.8" height="3.3"/>
<rect x="1045.7" y="512.6" width="3.1" height="1.3"/>
<rect x="1038.2" y="494.9" width="2.2" height="3.1"/>
<rect x="1030.8" y="508.9" width="2.5" height="1.4"/>
<rect x="1038.8" y="542.1" width="2.1" height="2.6"/>
<rect x="1047.4" y="508.1" width="2.7" height="1.2"/>
<rect x="1032.1" y="535.7" width="1.3" height="2.5"/>
<rect x="1045.0" y="518.4" width="3.1" height="1.5"/>
<rect x="1031.8" y="556.8" width="1.5" height="1.7"/>
<rect x="1027.8" y="520.5" width="2.8" height="3.3"/>
<rect x="1021.8" y="585.2" width="2.8" height="3.5"/>
<rect x="1020.2" y="550.8" width="3.0" height="3.4"/>
<rect x="1025.1" y="560.1" width="2.6" height="3.2"/>
<rect x="1029.3" y="564.2" width="2.8" height="2.5"/>
<rect x="1015.4" y="564.4" width="1.8" height="3.1"/>
<rect x="1012.3" y="584.0" width="1.9" height="1.4"/>
<rect x="1014.5" y="566.6" width="2.2" height="2.9"/>
<rect x="1023.6" y="535.0" width="1.9" height="2.6"/>
<rect x="1054.8" y="490.7" width="1.7" height="1.2"/>
<rect x="1051.9" y="498.6" width="2.1" height="3.1"/>
<rect x="1045.0" y="496.6" width="2.9" height="1.3"/>
<rect x="1023.6" y="551.1" width="1.4" height="3.4"/>
<rect x="1025.1" y="586.6" width="1.3" height="2.1"/>
<rect x="1024.4" y="535.9" width="2.2" height="2.5"/>
<rect x="1036.1" y="546.9" width="1.5" height="1.7"/>
<rect x="1028.1" y="542.0" width="1.6" height="3.4"/>
<rect x="1033.2" y="499.4" width="1.9" height="1.8"/>
<rect x="1027.7" y="532.2" width="2.2" height="3.4"/>
<rect x="1035.3" y="539.3" width="2.4" height="3.0"/>
<rect x="1027.0" y="580.2" width="3.1" height="2.6"/>
<rect x="1033.1" y="549.6" width="2.6" height="2.8"/>
<rect x="1035.4" y="567.2" width="3.1" height="2.2"/>
<rect x="1024.7" y="518.9" width="3.2" height="3.2"/>
<rect x="1044.6" y="515.7" width="1.6" height="1.9"/>
<rect x="1030.7" y="554.1" width="1.4" height="3.3"/>
<rect x="1032.6" y="531.4" width="1.4" height="2.8"/>
<rect x="1045.1" y="499.7" width="1.7" height="3.1"/>
<rect x="1032.5" y="567.6" width="2.4" height="1.9"/>
<rect x="1038.4" y="526.3" width="1.7" height="3.2"/>
<rect x="1042.2" y="536.1" width="2.9" height="1.4"/>
<rect x="1033.0" y="514.5" width="2.7" height="2.5"/>
<rect x="1044.0" y="532.0" width="1.3" height="2.5"/>
<rect x="1018.3" y="545.3" width="2.7" height="2.5"/>
<rect x="1045.8" y="493.2" width="1.9" height="3.6"/>
<rect x="1014.3" y="571.7" width="2.7" height="2.1"/>
<rect x="1040.7" y="541.3" width="1.9" height="3.3"/>
<rect x="1034.1" y="515.1" width="1.3" height="1.8"/>
<rect x="1043.3" y="488.1" width="1.5" height="1.9"/>
<rect x="1036.1" y="493.8" width="2.8" height="1.5"/>
<rect x="1045.8" y="487.9" width="1.3" height="3.4"/>
<rect x="1036.7" y="542.6" width="2.2" height="1.4"/>
<rect x="1016.8" y="573.6" width="1.5" height="1.3"/>
<rect x="1031.3" y="583.0" width="1.4" height="2.4"/>
<rect x="1017.9" y="570.6" width="2.7" height="3.5"/>
<rect x="1020.8" y="531.4" width="3.2" height="1.3"/>
<rect x="1032.3" y="538.5" width="3.0" height="3.2"/>
<rect x="1034.3" y="517.4" width="2.9" height="3.3"/>
<rect x="1048.2" y="495.8" width="1.4" height="1.9"/>
<rect x="1034.0" y="529.6" width="2.9" height="1.8"/>
<rect x="1035.0" y="513.3" width="2.8" height="1.7"/>
<rect x="1024.2" y="529.7" width="1.6" height="3.4"/>
<rect x="1039.6" y="547.2" width="2.2" height="1.3"/>
<rect x="1030.4" y="502.6" width="2.9" height="1.2"/>
<rect x="1030.5" y="511.6" width="1.9" height="3.5"/>
<rect x="1038.0" y="529.7" width="2.7" height="1.5"/>
<rect x="1052.0" y="498.2" width="1.5" height="2.5"/>
<rect x="1035.4" y="550.3" width="1.3" height="2.4"/>
<rect x="1047.2" y="501.6" width="1.4" height="3.2"/>
<rect x="1035.2" y="556.0" width="2.2" height="1.6"/>
<rect x="1047.2" y="506.4" width="2.6" height="3.5"/>
<rect x="1022.2" y="553.4" width="1.5" height="2.5"/>
<rect x="1028.4" y="538.1" width="2.1" height="1.9"/>
<rect x="1019.8" y="593.7" width="1.8" height="2.3"/>
<rect x="1037.3" y="490.8" width="2.5" height="2.7"/>
<rect x="1027.7" y="550.7" width="3.1" height="2.0"/>
<rect x="1048.0" y="508.2" width="1.9" height="3.6"/>
<rect x="1037.4" y="516.5" width="2.6" height="2.2"/>
<rect x="1033.5" y="508.8" width="3.1" height="2.5"/>
<rect x="1026.0" y="554.7" width="3.0" height="3.1"/>
<rect x="1030.6" y="528.9" width="2.0" height="3.6"/>
<rect x="1032.2" y="572.4" width="2.9" height="1.7"/>
<rect x="1032.1" y="542.5" width="2.8" height="3.5"/>
<rect x="1041.2" y="486.1" width="1.6" height="2.4"/>
<rect x="1040.3" y="522.4" width="1.4" height="2.8"/>
<rect x="1052.3" y="491.1" width="3.1" height="3.4"/>
<rect x="1035.1" y="488.8" width="3.0" height="1.9"/>
<rect x="1028.5" y="546.0" width="3.1" height="2.7"/>
<rect x="1027.2" y="542.3" width="3.0" height="3.2"/>
<rect x="1019.5" y="568.8" width="1.9" height="1.7"/>
<rect x="1029.1" y="521.5" width="2.3" height="3.4"/>
<ellipse cx="1034.6" cy="897.9" rx="2.1" ry="4.4" transform="rotate(36 1034.6 897.9)"/>
<ellipse cx="1027.0" cy="858.5" rx="2.5" ry="3.4" transform="rotate(42 1027.0 858.5)"/>
<ellipse cx="1037.7" cy="885.7" rx="3.6" ry="4.8" transform="rotate(33 1037.7 885.7)"/>
<ellipse cx="1032.1" cy="856.7" rx="4.5" ry="6.0" transform="rotate(41 1032.1 856.7)"/>
<ellipse cx="1026.7" cy="831.7" rx="2.6" ry="2.9" transform="rotate(30 1026.7 831.7)"/>
<ellipse cx="1020.1" cy="825.6" rx="3.9" ry="5.6" transform="rotate(37 1020.1 825.6)"/>
<ellipse cx="1018.8" cy="826.3" rx="1.6" ry="2.9" transform="rotate(23 1018.8 826.3)"/>
<ellipse cx="1052.7" cy="906.7" rx="2.1" ry="3.6" transform="rotate(44 1052.7 906.7)"/>
<ellipse cx="1034.0" cy="874.9" rx="2.9" ry="3.7" transform="rotate(35 1034.0 874.9)"/>
<ellipse cx="1040.7" cy="888.0" rx="4.0" ry="3.0" transform="rotate(35 1040.7 888.0)"/>
<ellipse cx="1039.3" cy="908.9" rx="3.0" ry="5.3" transform="rotate(28 1039.3 908.9)"/>
<ellipse cx="1045.1" cy="907.0" rx="2.9" ry="6.6" transform="rotate(20 1045.1 907.0)"/>
<ellipse cx="1035.8" cy="899.5" rx="2.6" ry="4.7" transform="rotate(32 1035.8 899.5)"/>
<rect x="1018.3" y="811.3" width="1.9" height="3.5"/>
<rect x="1045.3" y="904.0" width="3.1" height="3.3"/>
<rect x="1021.6" y="856.3" width="2.4" height="2.0"/>
<rect x="1028.8" y="804.6" width="3.1" height="2.5"/>
<rect x="1041.2" y="879.4" width="3.1" height="2.3"/>
<rect x="1029.9" y="876.1" width="1.7" height="2.5"/>
<rect x="1016.4" y="839.5" width="1.9" height="3.0"/>
<rect x="1037.5" y="845.2" width="2.6" height="2.8"/>
<rect x="1034.6" y="902.0" width="1.6" height="3.4"/>
<rect x="1034.5" y="904.2" width="2.7" height="1.2"/>
<rect x="1016.4" y="827.8" width="1.8" height="2.1"/>
<rect x="1042.8" y="904.2" width="1.4" height="1.9"/>
<rect x="1011.7" y="803.6" width="2.1" height="2.4"/>
<rect x="1025.6" y="842.1" width="1.4" height="2.8"/>
<rect x="1023.3" y="858.2" width="2.2" height="1.7"/>
<rect x="1019.6" y="847.4" width="2.8" height="1.9"/>
<rect x="1043.0" y="907.3" width="1.5" height="2.9"/>
<rect x="1049.6" y="889.0" width="1.5" height="3.1"/>
<rect x="1038.5" y="899.7" width="2.1" height="2.7"/>
<rect x="1036.8" y="841.3" width="2.6" height="3.3"/>
<rect x="1034.1" y="863.8" width="1.6" height="2.0"/>
<rect x="1051.4" y="889.6" width="1.5" height="1.3"/>
<rect x="1021.1" y="817.4" width="2.8" height="1.7"/>
<rect x="1034.1" y="866.7" width="2.9" height="1.6"/>
<rect x="1020.9" y="806.4" width="1.9" height="1.9"/>
<rect x="1045.6" y="892.6" width="1.4" height="2.5"/>
<rect x="1051.5" y="894.4" width="1.2" height="3.1"/>
<rect x="1025.3" y="812.1" width="2.4" height="3.5"/>
<rect x="1026.7" y="880.9" width="2.5" height="1.8"/>
<rect x="1031.6" y="897.4" width="1.8" height="2.8"/>
<rect x="1028.6" y="830.2" width="2.6" height="3.0"/>
<rect x="1041.6" y="901.4" width="1.5" height="1.8"/>
<rect x="1020.3" y="858.1" width="2.6" height="1.4"/>
<rect x="1030.8" y="815.7" width="2.8" height="1.8"/>
<rect x="1038.5" y="852.8" width="2.4" height="1.8"/>
<rect x="1042.8" y="862.9" width="1.2" height="3.6"/>
<rect x="1027.9" y="875.1" width="2.8" height="1.4"/>
<rect x="1034.4" y="859.2" width="1.7" height="3.3"/>
<rect x="1031.1" y="886.8" width="1.5" height="1.3"/>
<rect x="1028.4" y="874.7" width="2.3" height="3.2"/>
<rect x="1035.0" y="901.5" width="1.9" height="2.2"/>
<rect x="1029.6" y="856.6" width="2.1" height="3.0"/>
<rect x="1025.8" y="849.0" width="2.0" height="1.6"/>
<rect x="1034.7" y="880.0" width="3.0" height="3.2"/>
<rect x="1021.1" y="839.8" width="2.8" height="2.5"/>
<rect x="1023.0" y="804.5" width="2.0" height="3.1"/>
<rect x="1050.2" y="890.0" width="2.6" height="3.4"/>
<rect x="1025.5" y="845.8" width="1.3" height="3.3"/>
<rect x="1026.6" y="829.9" width="2.2" height="3.2"/>
<rect x="1022.8" y="857.9" width="2.0" height="1.3"/>
<rect x="1033.1" y="847.6" width="1.3" height="3.6"/>
<rect x="1030.1" y="872.3" width="2.9" height="1.5"/>
<rect x="1041.1" y="850.1" width="1.7" height="3.0"/>
<rect x="1023.7" y="819.7" width="2.5" height="1.7"/>
<rect x="1031.3" y="851.4" width="2.4" height="1.6"/>
<rect x="1045.1" y="859.3" width="1.8" height="3.1"/>
<rect x="1025.9" y="836.3" width="2.2" height="2.6"/>
<rect x="1046.6" y="887.7" width="2.6" height="3.1"/>
<rect x="1039.2" y="901.9" width="2.9" height="2.4"/>
<rect x="1020.1" y="843.2" width="2.7" height="2.7"/>
<rect x="1025.1" y="817.8" width="1.3" height="2.1"/>
<rect x="1040.4" y="875.6" width="1.5" height="1.3"/>
<rect x="1044.2" y="875.7" width="2.8" height="2.1"/>
<rect x="1041.6" y="875.6" width="2.9" height="2.4"/>
<rect x="1039.4" y="901.4" width="1.6" height="1.9"/>
<rect x="1049.3" y="888.8" width="2.1" height="2.9"/>
<rect x="1025.2" y="828.2" width="2.1" height="2.2"/>
<rect x="1029.1" y="834.5" width="2.5" height="2.7"/>
<rect x="1038.8" y="890.1" width="2.9" height="2.6"/>
<rect x="1041.1" y="902.0" width="2.6" height="1.7"/>
<rect x="1032.4" y="820.3" width="1.9" height="1.3"/>
<rect x="1048.0" y="878.8" width="2.7" height="3.6"/>
<rect x="1043.6" y="906.4" width="1.7" height="1.4"/>
<rect x="1031.5" y="845.4" width="3.0" height="1.2"/>
<rect x="1047.7" y="896.9" width="2.6" height="1.5"/>
<rect x="1026.8" y="814.7" width="2.5" height="2.1"/>
<rect x="1018.4" y="852.5" width="3.2" height="3.2"/>
<rect x="1051.4" y="908.5" width="2.1" height="3.2"/>
<rect x="1031.0" y="836.1" width="1.7" height="2.1"/>
<rect x="1041.0" y="900.7" width="3.0" height="2.6"/>
<rect x="1023.8" y="847.2" width="1.2" height="2.6"/>
<rect x="1036.1" y="897.6" width="2.2" height="3.6"/>
<rect x="1042.6" y="857.9" width="2.9" height="2.4"/>
<rect x="1026.9" y="880.6" width="2.2" height="3.0"/>
<rect x="1017.3" y="840.3" width="1.3" height="1.6"/>
<rect x="1035.2" y="840.8" width="2.1" height="2.5"/>
<rect x="1024.7" y="849.1" width="2.3" height="3.0"/>
<rect x="1024.5" y="833.2" width="2.5" height="3.5"/>
<rect x="1025.9" y="845.0" width="2.3" height="1.5"/>
<rect x="1049.4" y="878.8" width="1.7" height="2.4"/>
<rect x="1024.3" y="825.0" width="3.1" height="2.5"/>
<rect x="1022.5" y="837.5" width="2.5" height="3.3"/>
<rect x="1032.8" y="864.4" width="2.8" height="1.5"/>
<rect x="1044.0" y="906.8" width="1.9" height="3.1"/>
<rect x="1019.9" y="842.8" width="1.7" height="2.8"/>
</g>
</g><g clip-path="url(#sp4)">
<g fill="none" stroke="#97cafa" stroke-width="4.3" stroke-linejoin="round">
<path d="M1009.6 699.4 L1009.5 695.0 L1009.5 690.7 L1009.5 686.3 L1009.4 681.9 L1009.3 677.5 L1009.3 673.2 L1009.2 668.8 L1009.1 664.4 L1009.0 660.0 L1008.9 655.7 L1008.9 651.3 L1008.8 646.9 L1008.8 642.5 L1008.8 638.2 L1008.8 633.8 L1008.9 629.4 L1009.0 625.0 L1009.1 620.7 L1009.2 616.3 L1009.4 611.9 L1009.7 607.6 L1009.9 603.2 L1010.3 598.8 L1010.6 594.5 L1011.1 590.1 L1011.5 585.8 L1012.0 581.4 L1012.5 577.1 L1013.0 572.7 L1013.6 568.4 L1014.2 564.0 L1014.8 559.7 L1015.5 555.4 L1016.3 551.1 L1017.2 546.8 L1018.1 542.5 L1019.2 538.3 L1020.2 534.0 L1021.4 529.8 L1022.5 525.5 L1023.6 521.3 L1024.7 517.1 L1025.9 512.8 L1027.2 508.6 L1028.6 504.5 L1030.2 500.4 L1031.8 496.3 L1033.4 492.2 L1034.7 488.0 L1035.9 483.8 L1037.1 479.5 L1038.4 475.3 L1039.8 471.2 L1041.4 467.1 L1043.1 463.0 L1044.8 459.0 L1046.7 455.0 L1048.7 451.0 L1050.7 447.1 L1052.8 443.2 L1055.0 439.4 L1057.3 435.6 L1059.6 431.8 L1062.1 428.1 L1064.6 424.5 L1067.2 420.9 L1069.9 417.3 L1072.6 413.9 L1075.4 410.4 L1078.3 407.0 L1081.3 403.7 L1084.3 400.5 L1087.5 397.3 L1090.6 394.1 L1093.9 391.0 L1097.2 388.0 L1100.7 385.1 L1104.2 382.4 L1107.8 379.7 L1111.5 377.1 L1115.3 374.8 L1119.2 372.5 L1123.2 370.4 L1127.3 368.4 L1131.4 366.5 L1135.6 364.8 L1139.9 363.2 L1144.2 361.7 L1148.5 360.3 L1152.9 359.1 L1157.3 357.9 L1161.7 356.9 L1166.2 356.0 L1170.7 355.2 L1175.2 354.6 L1179.7 354.1 L1184.3 353.7 L1188.9 353.4 L1193.4 353.4 L1198.0 353.5 L1202.5 353.8 L1207.0 354.4 L1211.5 355.1 L1216.0 356.0 L1220.4 357.1 L1224.8 358.3 L1229.2 359.6 L1233.5 361.1 L1237.8 362.7 L1242.0 364.4 L1246.2 366.2 L1250.3 368.1 L1254.4 370.0 L1258.4 372.1 L1262.4 374.3 L1266.3 376.6 L1270.1 378.9 L1273.9 381.4 L1277.6 383.9 L1281.3 386.5 L1284.8 389.2 L1288.4 392.0 L1291.8 394.9 L1295.2 397.8 L1298.5 400.8 L1301.8 403.8 L1305.0 407.0 L1308.2 410.1 L1311.3 413.3 L1314.4 416.6 L1317.4 419.9 L1320.4 423.2 L1323.3 426.6 L1326.2 430.0 L1329.1 433.4 L1331.9 436.9 L1334.6 440.4 L1337.3 443.9 L1339.9 447.5 L1342.5 451.1 L1345.0 454.8 L1347.5 458.4 L1349.8 462.2 L1352.1 465.9 L1354.4 469.7 L1356.6 473.6 L1358.7 477.4 L1360.7 481.3 L1362.7 485.3 L1364.7 489.2 L1366.6 493.2 L1368.5 497.2 L1370.4 501.2 L1372.2 505.2 L1374.0 509.2 L1375.8 513.3 L1377.6 517.3 L1379.3 521.4 L1381.0 525.4 L1382.7 529.5 L1384.3 533.6 L1385.9 537.7 L1387.4 541.8 L1388.9 545.9 L1390.3 550.1 L1391.6 554.3 L1392.9 558.5 L1394.1 562.7 L1395.2 566.9 L1396.3 571.2 L1397.3 575.4 L1398.2 579.7 L1399.0 584.0 L1399.8 588.3 L1400.6 592.7 L1401.3 597.0 L1401.9 601.3 L1402.5 605.7 L1403.1 610.0 L1403.7 614.4 L1404.2 618.7 L1404.7 623.1 L1405.2 627.4 L1405.6 631.8 L1406.0 636.1 L1406.5 640.5 L1406.8 644.8 L1407.2 649.2 L1407.6 653.5 L1407.9 657.9 L1408.2 662.3 L1408.6 666.6 L1408.9 671.0 L1409.1 675.4 L1409.4 679.7 L1409.6 684.1 L1409.8 688.5 L1409.9 692.8 L1409.9 697.2 L1409.9 701.6 L1409.9 706.0 L1409.8 710.3 L1409.6 714.7 L1409.4 719.1 L1409.1 723.4 L1408.9 727.8 L1408.6 732.2 L1408.2 736.5 L1407.9 740.9 L1407.6 745.3 L1407.2 749.6 L1406.8 754.0 L1406.5 758.3 L1406.0 762.7 L1405.6 767.0 L1405.2 771.4 L1404.7 775.7 L1404.2 780.1 L1403.7 784.4 L1403.1 788.8 L1402.5 793.1 L1401.9 797.5 L1401.3 801.8 L1400.6 806.1 L1399.8 810.5 L1399.0 814.8 L1398.2 819.1 L1397.3 823.4 L1396.3 827.6 L1395.2 831.9 L1394.1 836.1 L1392.9 840.3 L1391.6 844.5 L1390.3 848.7 L1388.9 852.9 L1387.4 857.0 L1385.9 861.1 L1384.3 865.2 L1382.7 869.3 L1381.0 873.4 L1379.3 877.4 L1377.6 881.5 L1375.8 885.5 L1374.0 889.6 L1372.2 893.6 L1370.4 897.6 L1368.5 901.6 L1366.6 905.6 L1364.7 909.6 L1362.7 913.5 L1360.7 917.5 L1358.7 921.4 L1356.6 925.2 L1354.4 929.1 L1352.1 932.9 L1349.8 936.6 L1347.5 940.4 L1345.0 944.0 L1342.5 947.7 L1339.9 951.3 L1337.3 954.9 L1334.6 958.4 L1331.9 961.9 L1329.1 965.4 L1326.2 968.8 L1323.3 972.2 L1320.4 975.6 L1317.4 978.9 L1314.4 982.2 L1311.3 985.5 L1308.2 988.7 L1305.0 991.8 L1301.8 995.0 L1298.5 998.0 L1295.2 1001.0 L1291.8 1003.9 L1288.4 1006.8 L1284.8 1009.6 L1281.3 1012.3 L1277.6 1014.9 L1273.9 1017.4 L1270.1 1019.9 L1266.3 1022.2 L1262.4 1024.5 L1258.4 1026.7 L1254.4 1028.8 L1250.3 1030.7 L1246.2 1032.6 L1242.0 1034.4 L1237.8 1036.1 L1233.5 1037.7 L1229.2 1039.2 L1224.8 1040.5 L1220.4 1041.7 L1216.0 1042.8 L1211.5 1043.7 L1207.0 1044.4 L1202.5 1045.0 L1198.0 1045.3 L1193.4 1045.4 L1188.9 1045.4 L1184.3 1045.1 L1179.7 1044.7 L1175.2 1044.2 L1170.7 1043.6 L1166.2 1042.8 L1161.7 1041.9 L1157.3 1040.9 L1152.9 1039.7 L1148.5 1038.5 L1144.2 1037.1 L1139.9 1035.6 L1135.6 1034.0 L1131.4 1032.3 L1127.3 1030.4 L1123.2 1028.4 L1119.2 1026.3 L1115.3 1024.0 L1111.5 1021.7 L1107.8 1019.1 L1104.2 1016.4 L1100.7 1013.7 L1097.2 1010.8 L1093.9 1007.8 L1090.6 1004.7 L1087.5 1001.5 L1084.3 998.3 L1081.3 995.1 L1078.3 991.8 L1075.4 988.4 L1072.6 984.9 L1069.9 981.5 L1067.2 977.9 L1064.6 974.3 L1062.1 970.7 L1059.6 967.0 L1057.3 963.2 L1055.0 959.4 L1052.8 955.6 L1050.7 951.7 L1048.7 947.8 L1046.7 943.8 L1044.8 939.8 L1043.1 935.8 L1041.4 931.7 L1039.8 927.6 L1038.4 923.5 L1037.1 919.3 L1035.9 915.0 L1034.7 910.8 L1033.4 906.6 L1031.8 902.5 L1030.2 898.4 L1028.6 894.3 L1027.2 890.2 L1025.9 886.0 L1024.7 881.7 L1023.6 877.5 L1022.5 873.3 L1021.4 869.0 L1020.2 864.8 L1019.2 860.5 L1018.1 856.3 L1017.2 852.0 L1016.3 847.7 L1015.5 843.4 L1014.8 839.1 L1014.2 834.8 L1013.6 830.4 L1013.0 826.1 L1012.5 821.7 L1012.0 817.4 L1011.5 813.0 L1011.1 808.7 L1010.6 804.3 L1010.3 800.0 L1009.9 795.6 L1009.7 791.2 L1009.4 786.9 L1009.2 782.5 L1009.1 778.1 L1009.0 773.8 L1008.9 769.4 L1008.8 765.0 L1008.8 760.6 L1008.8 756.3 L1008.8 751.9 L1008.9 747.5 L1008.9 743.1 L1009.0 738.8 L1009.1 734.4 L1009.2 730.0 L1009.3 725.6 L1009.3 721.3 L1009.4 716.9 L1009.5 712.5 L1009.5 708.1 L1009.5 703.8 L1009.6 699.4Z"/>
<path d="M1053.4 919.1 L1051.7 918.4 L1050.0 917.8 L1048.3 917.1 L1046.6 916.4 L1044.9 915.7 L1043.2 915.0 L1041.5 914.3 L1039.8 913.6 L1038.1 912.9 L1036.5 912.2 L1034.8 911.4 L1033.2 910.6 L1031.5 909.8 L1029.9 909.0 L1028.3 908.2 L1026.7 907.3 L1025.1 906.3 L1023.6 905.4 L1022.1 904.4 L1016.9 901.2 L1011.7 898.0 L1006.6 894.9 L1001.5 891.8 L996.4 888.7 L991.4 885.6 L986.4 882.6 L981.5 879.6 L976.6 876.6 L971.7 873.7 L966.9 870.8 L962.1 867.9 L957.3 865.0 L952.6 862.2 L947.9 859.4 L943.3 856.6 L938.7 853.9 L934.1 851.2 L929.6 848.5 L925.1 845.8 L920.7 843.2 L916.2 840.6 L911.9 838.1 L907.5 835.6 L903.2 833.2 L899.0 830.9 L894.7 828.6 L890.5 826.3 L886.4 824.1 L882.3 821.9 L878.2 819.7 L874.1 817.6 L870.1 815.5 L866.2 813.4 L862.3 811.3 L858.4 809.3 L854.5 807.3 L850.7 805.3 L846.9 803.4 L843.2 801.5 L839.5 799.6 L835.8 797.8 L832.2 796.0 L828.6 794.2 L825.0 792.5 L821.5 790.7 L818.1 789.1 L814.6 787.4 L811.2 785.8 L807.9 784.1 L804.5 782.6 L801.2 781.0 L798.0 779.5 L794.8 778.0 L791.6 776.5 L788.5 775.1 L785.4 773.6 L782.3 772.2 L779.3 770.9 L776.3 769.5 L773.3 768.2 L770.4 766.9 L767.5 765.6 L764.7 764.3 L761.9 763.1 L759.1 761.9 L756.4 760.7 L753.7 759.5 L751.1 758.4 L748.5 757.2 L745.9 756.1 L743.4 755.0 L740.9 753.9 L738.4 752.8 L736.0 751.8 L733.6 750.8 L731.2 749.7 L728.9 748.7 L726.7 747.7 L724.4 746.8 L722.2 745.8 L720.1 744.8 L717.9 743.9 L715.8 743.0 L713.8 742.1 L711.8 741.2 L709.8 740.3 L707.9 739.4 L706.0 738.5 L704.1 737.6 L702.3 736.8 L700.5 735.9 L698.8 735.1 L697.1 734.2 L695.4 733.4 L693.7 732.6 L692.1 731.7 L690.6 730.9 L689.1 730.1 L687.6 729.3 L686.1 728.5 L684.7 727.7 L683.4 726.9 L682.0 726.1 L680.7 725.4 L679.5 724.6 L678.2 723.8 L677.1 723.0 L675.9 722.2 L674.8 721.5 L673.7 720.7 L672.7 719.9 L671.7 719.2 L670.7 718.4 L669.8 717.6 L668.9 716.9 L668.1 716.1 L667.3 715.3 L666.5 714.6 L665.8 713.8 L665.1 713.1 L664.4 712.3 L663.8 711.5 L663.2 710.8 L662.7 710.0 L662.2 709.3 L661.7 708.5 L661.3 707.7 L660.9 707.0 L660.5 706.2 L660.2 705.5 L659.9 704.7 L659.7 703.9 L659.5 703.2 L659.3 702.4 L659.2 701.7 L659.1 700.9 L659.0 700.2 L659.0 699.4 L659.0 698.6 L659.1 697.9 L659.2 697.1 L659.3 696.4 L659.5 695.6 L659.7 694.9 L659.9 694.1 L660.2 693.3 L660.5 692.6 L660.9 691.8 L661.3 691.1 L661.7 690.3 L662.2 689.5 L662.7 688.8 L663.2 688.0 L663.8 687.3 L664.4 686.5 L665.1 685.7 L665.8 685.0 L666.5 684.2 L667.3 683.5 L668.1 682.7 L668.9 681.9 L669.8 681.2 L670.7 680.4 L671.7 679.6 L672.7 678.9 L673.7 678.1 L674.8 677.3 L675.9 676.6 L677.1 675.8 L678.2 675.0 L679.5 674.2 L680.7 673.4 L682.0 672.7 L683.4 671.9 L684.7 671.1 L686.1 670.3 L687.6 669.5 L689.1 668.7 L690.6 667.9 L692.1 667.1 L693.7 666.2 L695.4 665.4 L697.1 664.6 L698.8 663.7 L700.5 662.9 L702.3 662.0 L704.1 661.2 L706.0 660.3 L707.9 659.4 L709.8 658.5 L711.8 657.6 L713.8 656.7 L715.8 655.8 L717.9 654.9 L720.1 654.0 L722.2 653.0 L724.4 652.0 L726.7 651.1 L728.9 650.1 L731.2 649.1 L733.6 648.0 L736.0 647.0 L738.4 646.0 L740.9 644.9 L743.4 643.8 L745.9 642.7 L748.5 641.6 L751.1 640.4 L753.7 639.3 L756.4 638.1 L759.1 636.9 L761.9 635.7 L764.7 634.5 L767.5 633.2 L770.4 631.9 L773.3 630.6 L776.3 629.3 L779.3 627.9 L782.3 626.6 L785.4 625.2 L788.5 623.7 L791.6 622.3 L794.8 620.8 L798.0 619.3 L801.2 617.8 L804.5 616.2 L807.9 614.7 L811.2 613.0 L814.6 611.4 L818.1 609.7 L821.5 608.1 L825.0 606.3 L828.6 604.6 L832.2 602.8 L835.8 601.0 L839.5 599.2 L843.2 597.3 L846.9 595.4 L850.7 593.5 L854.5 591.5 L858.4 589.5 L862.3 587.5 L866.2 585.4 L870.1 583.3 L874.1 581.2 L878.2 579.1 L882.3 576.9 L886.4 574.7 L890.5 572.5 L894.7 570.2 L899.0 567.9 L903.2 565.6 L907.5 563.2 L911.9 560.7 L916.2 558.2 L920.7 555.6 L925.1 553.0 L929.6 550.3 L934.1 547.6 L938.7 544.9 L943.3 542.2 L947.9 539.4 L952.6 536.6 L957.3 533.8 L962.1 530.9 L966.9 528.0 L971.7 525.1 L976.6 522.2 L981.5 519.2 L986.4 516.2 L991.4 513.2 L996.4 510.1 L1001.5 507.0 L1006.6 503.9 L1011.7 500.8 L1016.9 497.6 L1022.1 494.4 L1023.6 493.4 L1025.1 492.5 L1026.7 491.5 L1028.3 490.6 L1029.9 489.8 L1031.5 489.0 L1033.2 488.2 L1034.8 487.4 L1036.5 486.6 L1038.1 485.9 L1039.8 485.2 L1041.5 484.5 L1043.2 483.8 L1044.9 483.1 L1046.6 482.4 L1048.3 481.7 L1050.0 481.0 L1051.7 480.4 L1053.4 479.7 L1057.9 484.5 L1057.7 487.2 L1057.5 490.0 L1057.2 492.8 L1056.8 495.5 L1056.4 498.2 L1056.0 501.0 L1055.6 503.7 L1055.1 506.4 L1054.5 509.1 L1054.0 511.8 L1053.4 514.5 L1052.8 517.2 L1052.1 519.9 L1051.5 522.6 L1050.8 525.3 L1050.1 528.0 L1049.4 530.7 L1048.7 533.4 L1048.0 536.1 L1047.3 538.7 L1046.6 541.4 L1045.9 544.1 L1045.2 546.8 L1044.4 549.4 L1043.7 552.1 L1043.0 554.8 L1042.2 557.5 L1041.5 560.1 L1040.7 562.8 L1039.9 565.4 L1039.2 568.1 L1038.4 570.8 L1037.6 573.4 L1036.8 576.1 L1036.0 578.7 L1035.3 581.4 L1034.5 584.1 L1033.8 586.8 L1033.1 589.4 L1032.5 592.1 L1031.8 594.8 L1031.1 597.5 L1030.5 600.2 L1029.9 602.9 L1029.2 605.6 L1028.6 608.3 L1027.9 611.0 L1027.3 613.7 L1026.6 616.3 L1025.9 619.0 L1025.2 621.7 L1024.6 624.4 L1024.0 627.1 L1023.3 629.8 L1022.7 632.5 L1022.1 635.2 L1021.6 637.9 L1021.1 640.6 L1020.5 643.4 L1020.0 646.1 L1019.5 648.8 L1019.1 651.5 L1018.6 654.3 L1018.1 657.0 L1017.7 659.7 L1017.2 662.4 L1016.8 665.2 L1016.3 667.9 L1015.9 670.6 L1015.5 673.3 L1015.0 676.1 L1014.5 678.8 L1014.1 681.5 L1013.6 684.3 L1013.2 687.0 L1012.8 689.8 L1012.5 692.5 L1012.2 695.3 L1012.1 698.0 L1012.1 700.8 L1012.2 703.5 L1012.5 706.3 L1012.8 709.0 L1013.2 711.8 L1013.6 714.5 L1014.1 717.3 L1014.5 720.0 L1015.0 722.7 L1015.5 725.5 L1015.9 728.2 L1016.3 730.9 L1016.8 733.6 L1017.2 736.4 L1017.7 739.1 L1018.1 741.8 L1018.6 744.5 L1019.1 747.3 L1019.5 750.0 L1020.0 752.7 L1020.5 755.4 L1021.1 758.2 L1021.6 760.9 L1022.1 763.6 L1022.7 766.3 L1023.3 769.0 L1024.0 771.7 L1024.6 774.4 L1025.2 777.1 L1025.9 779.8 L1026.6 782.5 L1027.3 785.1 L1027.9 787.8 L1028.6 790.5 L1029.2 793.2 L1029.9 795.9 L1030.5 798.6 L1031.1 801.3 L1031.8 804.0 L1032.5 806.7 L1033.1 809.4 L1033.8 812.0 L1034.5 814.7 L1035.3 817.4 L1036.0 820.1 L1036.8 822.7 L1037.6 825.4 L1038.4 828.0 L1039.2 830.7 L1039.9 833.4 L1040.7 836.0 L1041.5 838.7 L1042.2 841.3 L1043.0 844.0 L1043.7 846.7 L1044.4 849.4 L1045.2 852.0 L1045.9 854.7 L1046.6 857.4 L1047.3 860.1 L1048.0 862.7 L1048.7 865.4 L1049.4 868.1 L1050.1 870.8 L1050.8 873.5 L1051.5 876.2 L1052.1 878.9 L1052.8 881.6 L1053.4 884.3 L1054.0 887.0 L1054.5 889.7 L1055.1 892.4 L1055.6 895.1 L1056.0 897.8 L1056.4 900.6 L1056.8 903.3 L1057.2 906.0 L1057.5 908.8 L1057.7 911.6 L1057.9 914.3Z"/>
</g></g>
</g>
<rect x="658.6" y="489.2" width="532.7" height="420.6" fill="none" stroke="#2a2a2a" stroke-width="1.3"/>
<path d="M659.0 909.8v-4.2M659.0 489.2v4.2M721.6 909.8v-4.2M721.6 489.2v4.2M784.2 909.8v-4.2M784.2 489.2v4.2M846.8 909.8v-4.2M846.8 489.2v4.2M909.4 909.8v-4.2M909.4 489.2v4.2M972.0 909.8v-4.2M972.0 489.2v4.2M1034.6 909.8v-4.2M1034.6 489.2v4.2M1097.2 909.8v-4.2M1097.2 489.2v4.2M1159.8 909.8v-4.2M1159.8 489.2v4.2M658.6 879.7h4.2M1191.3 879.7h-4.2M658.6 819.6h4.2M1191.3 819.6h-4.2M658.6 759.5h4.2M1191.3 759.5h-4.2M658.6 699.4h4.2M1191.3 699.4h-4.2M658.6 639.3h4.2M1191.3 639.3h-4.2M658.6 579.2h4.2M1191.3 579.2h-4.2M658.6 519.1h4.2M1191.3 519.1h-4.2" stroke="#2a2a2a" stroke-width="1.25" fill="none"/>
<text x="659.0" y="932.3" text-anchor="middle">-3</text>
<text x="721.6" y="932.3" text-anchor="middle">-2.5</text>
<text x="784.2" y="932.3" text-anchor="middle">-2</text>
<text x="846.8" y="932.3" text-anchor="middle">-1.5</text>
<text x="909.4" y="932.3" text-anchor="middle">-1</text>
<text x="972.0" y="932.3" text-anchor="middle">-0.5</text>
<text x="1034.6" y="932.3" text-anchor="middle">0</text>
<text x="1097.2" y="932.3" text-anchor="middle">0.5</text>
<text x="1159.8" y="932.3" text-anchor="middle">1</text>
<text x="651.0" y="885.5" text-anchor="end">-1.5</text>
<text x="651.0" y="825.4" text-anchor="end">-1</text>
<text x="651.0" y="765.3" text-anchor="end">-0.5</text>
<text x="651.0" y="705.2" text-anchor="end">0</text>
<text x="651.0" y="645.1" text-anchor="end">0.5</text>
<text x="651.0" y="585.0" text-anchor="end">1</text>
<text x="651.0" y="524.9" text-anchor="end">1.5</text>
</svg></body></html>
